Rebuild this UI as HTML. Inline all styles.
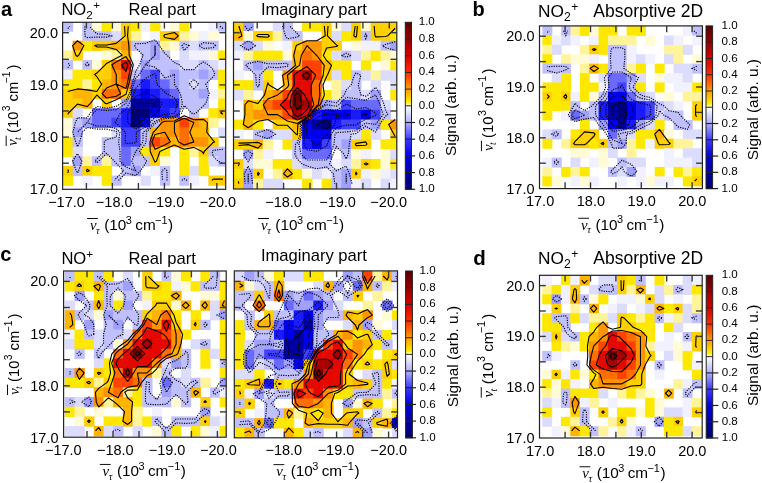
<!DOCTYPE html>
<html><head><meta charset="utf-8"><style>
html,body{margin:0;padding:0;background:#fff;}
body{width:762px;height:483px;overflow:hidden;}
svg{display:block;will-change:transform;font-family:"Liberation Sans", sans-serif;}
</style></head><body>
<svg width="762" height="483" viewBox="0 0 762 483" font-family='"Liberation Sans", sans-serif' fill="#000">
<defs><linearGradient id="cbgrad" x1="0" y1="0" x2="0" y2="1"><stop offset="0" stop-color="#580000"/><stop offset="0.1" stop-color="#980000"/><stop offset="0.2" stop-color="#d60000"/><stop offset="0.3" stop-color="#ff2c00"/><stop offset="0.4" stop-color="#ff9c00"/><stop offset="0.45" stop-color="#ffcc00"/><stop offset="0.48" stop-color="#fff000"/><stop offset="0.5" stop-color="#ffffff"/><stop offset="0.6" stop-color="#b0b0ff"/><stop offset="0.7" stop-color="#3a3aff"/><stop offset="0.8" stop-color="#0000e8"/><stop offset="0.9" stop-color="#0000a8"/><stop offset="1" stop-color="#000070"/></linearGradient></defs>
<clipPath id="clip_areal"><rect x="62.6" y="22.3" width="163.1" height="167"/></clipPath>
<g clip-path="url(#clip_areal)">
<rect x="62.9" y="21.5" width="10.3" height="10.23" fill="#c0c0ff"/>
<rect x="82.3" y="21.5" width="10.3" height="10.23" fill="#c0c0ff"/>
<rect x="92" y="21.5" width="10.3" height="10.23" fill="#fffbd6"/>
<rect x="101.7" y="21.5" width="10.3" height="10.23" fill="#ffe800"/>
<rect x="111.4" y="21.5" width="10.3" height="10.23" fill="#fffbd6"/>
<rect x="121.1" y="21.5" width="10.3" height="10.23" fill="#ffd000"/>
<rect x="130.8" y="21.5" width="10.3" height="10.23" fill="#ffe800"/>
<rect x="140.5" y="21.5" width="10.3" height="10.23" fill="#f1f1ff"/>
<rect x="150.2" y="21.5" width="10.3" height="10.23" fill="#ffe800"/>
<rect x="169.6" y="21.5" width="10.3" height="10.23" fill="#fffbd6"/>
<rect x="179.3" y="21.5" width="10.3" height="10.23" fill="#ffe800"/>
<rect x="208.4" y="21.5" width="10.3" height="10.23" fill="#f1f1ff"/>
<rect x="218.1" y="21.5" width="10.3" height="10.23" fill="#c0c0ff"/>
<rect x="82.3" y="31.13" width="10.3" height="10.23" fill="#c0c0ff"/>
<rect x="92" y="31.13" width="10.3" height="10.23" fill="#c0c0ff"/>
<rect x="101.7" y="31.13" width="10.3" height="10.23" fill="#c0c0ff"/>
<rect x="111.4" y="31.13" width="10.3" height="10.23" fill="#dcdcff"/>
<rect x="121.1" y="31.13" width="10.3" height="10.23" fill="#ffd000"/>
<rect x="130.8" y="31.13" width="10.3" height="10.23" fill="#fff49a"/>
<rect x="150.2" y="31.13" width="10.3" height="10.23" fill="#f1f1ff"/>
<rect x="159.9" y="31.13" width="10.3" height="10.23" fill="#ffd000"/>
<rect x="169.6" y="31.13" width="10.3" height="10.23" fill="#ffb400"/>
<rect x="179.3" y="31.13" width="10.3" height="10.23" fill="#fff49a"/>
<rect x="189" y="31.13" width="10.3" height="10.23" fill="#fffbd6"/>
<rect x="198.7" y="31.13" width="10.3" height="10.23" fill="#f1f1ff"/>
<rect x="208.4" y="31.13" width="10.3" height="10.23" fill="#fffbd6"/>
<rect x="72.6" y="40.76" width="10.3" height="10.23" fill="#ff9400"/>
<rect x="82.3" y="40.76" width="10.3" height="10.23" fill="#ffe800"/>
<rect x="92" y="40.76" width="10.3" height="10.23" fill="#ffd000"/>
<rect x="101.7" y="40.76" width="10.3" height="10.23" fill="#ffd000"/>
<rect x="111.4" y="40.76" width="10.3" height="10.23" fill="#ffb400"/>
<rect x="121.1" y="40.76" width="10.3" height="10.23" fill="#ff9400"/>
<rect x="130.8" y="40.76" width="10.3" height="10.23" fill="#c0c0ff"/>
<rect x="140.5" y="40.76" width="10.3" height="10.23" fill="#c0c0ff"/>
<rect x="150.2" y="40.76" width="10.3" height="10.23" fill="#a0a0ff"/>
<rect x="159.9" y="40.76" width="10.3" height="10.23" fill="#fff49a"/>
<rect x="169.6" y="40.76" width="10.3" height="10.23" fill="#fffbd6"/>
<rect x="179.3" y="40.76" width="10.3" height="10.23" fill="#c0c0ff"/>
<rect x="189" y="40.76" width="10.3" height="10.23" fill="#dcdcff"/>
<rect x="198.7" y="40.76" width="10.3" height="10.23" fill="#c0c0ff"/>
<rect x="208.4" y="40.76" width="10.3" height="10.23" fill="#c0c0ff"/>
<rect x="62.9" y="50.39" width="10.3" height="10.23" fill="#fff49a"/>
<rect x="72.6" y="50.39" width="10.3" height="10.23" fill="#ffd000"/>
<rect x="101.7" y="50.39" width="10.3" height="10.23" fill="#fffbd6"/>
<rect x="111.4" y="50.39" width="10.3" height="10.23" fill="#fff49a"/>
<rect x="121.1" y="50.39" width="10.3" height="10.23" fill="#ffb400"/>
<rect x="140.5" y="50.39" width="10.3" height="10.23" fill="#c0c0ff"/>
<rect x="150.2" y="50.39" width="10.3" height="10.23" fill="#a0a0ff"/>
<rect x="159.9" y="50.39" width="10.3" height="10.23" fill="#c0c0ff"/>
<rect x="179.3" y="50.39" width="10.3" height="10.23" fill="#dcdcff"/>
<rect x="189" y="50.39" width="10.3" height="10.23" fill="#f1f1ff"/>
<rect x="198.7" y="50.39" width="10.3" height="10.23" fill="#f1f1ff"/>
<rect x="208.4" y="50.39" width="10.3" height="10.23" fill="#fffbd6"/>
<rect x="218.1" y="50.39" width="10.3" height="10.23" fill="#ffe800"/>
<rect x="62.9" y="60.02" width="10.3" height="10.23" fill="#c0c0ff"/>
<rect x="82.3" y="60.02" width="10.3" height="10.23" fill="#c0c0ff"/>
<rect x="92" y="60.02" width="10.3" height="10.23" fill="#fffbd6"/>
<rect x="101.7" y="60.02" width="10.3" height="10.23" fill="#ffd000"/>
<rect x="111.4" y="60.02" width="10.3" height="10.23" fill="#ff6e00"/>
<rect x="121.1" y="60.02" width="10.3" height="10.23" fill="#e40800"/>
<rect x="130.8" y="60.02" width="10.3" height="10.23" fill="#f1f1ff"/>
<rect x="140.5" y="60.02" width="10.3" height="10.23" fill="#a0a0ff"/>
<rect x="150.2" y="60.02" width="10.3" height="10.23" fill="#c0c0ff"/>
<rect x="159.9" y="60.02" width="10.3" height="10.23" fill="#c0c0ff"/>
<rect x="169.6" y="60.02" width="10.3" height="10.23" fill="#c0c0ff"/>
<rect x="179.3" y="60.02" width="10.3" height="10.23" fill="#dcdcff"/>
<rect x="189" y="60.02" width="10.3" height="10.23" fill="#dcdcff"/>
<rect x="198.7" y="60.02" width="10.3" height="10.23" fill="#c0c0ff"/>
<rect x="208.4" y="60.02" width="10.3" height="10.23" fill="#dcdcff"/>
<rect x="218.1" y="60.02" width="10.3" height="10.23" fill="#f1f1ff"/>
<rect x="62.9" y="69.65" width="10.3" height="10.23" fill="#f1f1ff"/>
<rect x="72.6" y="69.65" width="10.3" height="10.23" fill="#ffe800"/>
<rect x="82.3" y="69.65" width="10.3" height="10.23" fill="#ffe800"/>
<rect x="92" y="69.65" width="10.3" height="10.23" fill="#ffd000"/>
<rect x="101.7" y="69.65" width="10.3" height="10.23" fill="#ffd000"/>
<rect x="111.4" y="69.65" width="10.3" height="10.23" fill="#ff9400"/>
<rect x="121.1" y="69.65" width="10.3" height="10.23" fill="#ff4200"/>
<rect x="130.8" y="69.65" width="10.3" height="10.23" fill="#c0c0ff"/>
<rect x="140.5" y="69.65" width="10.3" height="10.23" fill="#6a6aff"/>
<rect x="150.2" y="69.65" width="10.3" height="10.23" fill="#4040ff"/>
<rect x="159.9" y="69.65" width="10.3" height="10.23" fill="#c0c0ff"/>
<rect x="169.6" y="69.65" width="10.3" height="10.23" fill="#a0a0ff"/>
<rect x="179.3" y="69.65" width="10.3" height="10.23" fill="#c0c0ff"/>
<rect x="189" y="69.65" width="10.3" height="10.23" fill="#c0c0ff"/>
<rect x="198.7" y="69.65" width="10.3" height="10.23" fill="#a0a0ff"/>
<rect x="208.4" y="69.65" width="10.3" height="10.23" fill="#c0c0ff"/>
<rect x="218.1" y="69.65" width="10.3" height="10.23" fill="#ffe800"/>
<rect x="62.9" y="79.28" width="10.3" height="10.23" fill="#ffe800"/>
<rect x="72.6" y="79.28" width="10.3" height="10.23" fill="#ffe800"/>
<rect x="82.3" y="79.28" width="10.3" height="10.23" fill="#fff49a"/>
<rect x="92" y="79.28" width="10.3" height="10.23" fill="#ffe800"/>
<rect x="101.7" y="79.28" width="10.3" height="10.23" fill="#ffb400"/>
<rect x="111.4" y="79.28" width="10.3" height="10.23" fill="#ff9400"/>
<rect x="121.1" y="79.28" width="10.3" height="10.23" fill="#ff6e00"/>
<rect x="130.8" y="79.28" width="10.3" height="10.23" fill="#6a6aff"/>
<rect x="140.5" y="79.28" width="10.3" height="10.23" fill="#1a1aff"/>
<rect x="150.2" y="79.28" width="10.3" height="10.23" fill="#4040ff"/>
<rect x="159.9" y="79.28" width="10.3" height="10.23" fill="#6a6aff"/>
<rect x="169.6" y="79.28" width="10.3" height="10.23" fill="#a0a0ff"/>
<rect x="179.3" y="79.28" width="10.3" height="10.23" fill="#c0c0ff"/>
<rect x="189" y="79.28" width="10.3" height="10.23" fill="#dcdcff"/>
<rect x="198.7" y="79.28" width="10.3" height="10.23" fill="#c0c0ff"/>
<rect x="218.1" y="79.28" width="10.3" height="10.23" fill="#ffe800"/>
<rect x="62.9" y="88.91" width="10.3" height="10.23" fill="#ffd000"/>
<rect x="72.6" y="88.91" width="10.3" height="10.23" fill="#ffb400"/>
<rect x="82.3" y="88.91" width="10.3" height="10.23" fill="#ffb400"/>
<rect x="92" y="88.91" width="10.3" height="10.23" fill="#ffd000"/>
<rect x="101.7" y="88.91" width="10.3" height="10.23" fill="#ff6e00"/>
<rect x="111.4" y="88.91" width="10.3" height="10.23" fill="#ff6e00"/>
<rect x="121.1" y="88.91" width="10.3" height="10.23" fill="#ffd000"/>
<rect x="130.8" y="88.91" width="10.3" height="10.23" fill="#1a1aff"/>
<rect x="140.5" y="88.91" width="10.3" height="10.23" fill="#0000ee"/>
<rect x="150.2" y="88.91" width="10.3" height="10.23" fill="#1a1aff"/>
<rect x="159.9" y="88.91" width="10.3" height="10.23" fill="#4040ff"/>
<rect x="169.6" y="88.91" width="10.3" height="10.23" fill="#6a6aff"/>
<rect x="179.3" y="88.91" width="10.3" height="10.23" fill="#c0c0ff"/>
<rect x="189" y="88.91" width="10.3" height="10.23" fill="#c0c0ff"/>
<rect x="198.7" y="88.91" width="10.3" height="10.23" fill="#a0a0ff"/>
<rect x="208.4" y="88.91" width="10.3" height="10.23" fill="#f1f1ff"/>
<rect x="218.1" y="88.91" width="10.3" height="10.23" fill="#fff49a"/>
<rect x="62.9" y="98.54" width="10.3" height="10.23" fill="#ffd000"/>
<rect x="72.6" y="98.54" width="10.3" height="10.23" fill="#ffd000"/>
<rect x="82.3" y="98.54" width="10.3" height="10.23" fill="#ffb400"/>
<rect x="101.7" y="98.54" width="10.3" height="10.23" fill="#ffd000"/>
<rect x="121.1" y="98.54" width="10.3" height="10.23" fill="#a0a0ff"/>
<rect x="130.8" y="98.54" width="10.3" height="10.23" fill="#0000a0"/>
<rect x="140.5" y="98.54" width="10.3" height="10.23" fill="#0000a0"/>
<rect x="150.2" y="98.54" width="10.3" height="10.23" fill="#0000a0"/>
<rect x="159.9" y="98.54" width="10.3" height="10.23" fill="#1a1aff"/>
<rect x="169.6" y="98.54" width="10.3" height="10.23" fill="#1a1aff"/>
<rect x="179.3" y="98.54" width="10.3" height="10.23" fill="#c0c0ff"/>
<rect x="189" y="98.54" width="10.3" height="10.23" fill="#c0c0ff"/>
<rect x="198.7" y="98.54" width="10.3" height="10.23" fill="#c0c0ff"/>
<rect x="218.1" y="98.54" width="10.3" height="10.23" fill="#ffe800"/>
<rect x="62.9" y="108.17" width="10.3" height="10.23" fill="#ffd000"/>
<rect x="72.6" y="108.17" width="10.3" height="10.23" fill="#dcdcff"/>
<rect x="92" y="108.17" width="10.3" height="10.23" fill="#6a6aff"/>
<rect x="101.7" y="108.17" width="10.3" height="10.23" fill="#6a6aff"/>
<rect x="111.4" y="108.17" width="10.3" height="10.23" fill="#6a6aff"/>
<rect x="121.1" y="108.17" width="10.3" height="10.23" fill="#1a1aff"/>
<rect x="130.8" y="108.17" width="10.3" height="10.23" fill="#000078"/>
<rect x="140.5" y="108.17" width="10.3" height="10.23" fill="#000078"/>
<rect x="150.2" y="108.17" width="10.3" height="10.23" fill="#0000ee"/>
<rect x="159.9" y="108.17" width="10.3" height="10.23" fill="#1a1aff"/>
<rect x="169.6" y="108.17" width="10.3" height="10.23" fill="#4040ff"/>
<rect x="189" y="108.17" width="10.3" height="10.23" fill="#c0c0ff"/>
<rect x="208.4" y="108.17" width="10.3" height="10.23" fill="#ffe800"/>
<rect x="218.1" y="108.17" width="10.3" height="10.23" fill="#ffd000"/>
<rect x="62.9" y="117.8" width="10.3" height="10.23" fill="#fffbd6"/>
<rect x="72.6" y="117.8" width="10.3" height="10.23" fill="#c0c0ff"/>
<rect x="82.3" y="117.8" width="10.3" height="10.23" fill="#a0a0ff"/>
<rect x="92" y="117.8" width="10.3" height="10.23" fill="#6a6aff"/>
<rect x="101.7" y="117.8" width="10.3" height="10.23" fill="#6a6aff"/>
<rect x="111.4" y="117.8" width="10.3" height="10.23" fill="#4040ff"/>
<rect x="121.1" y="117.8" width="10.3" height="10.23" fill="#1a1aff"/>
<rect x="130.8" y="117.8" width="10.3" height="10.23" fill="#000078"/>
<rect x="140.5" y="117.8" width="10.3" height="10.23" fill="#0000ee"/>
<rect x="150.2" y="117.8" width="10.3" height="10.23" fill="#c0c0ff"/>
<rect x="159.9" y="117.8" width="10.3" height="10.23" fill="#ff9400"/>
<rect x="169.6" y="117.8" width="10.3" height="10.23" fill="#ff9400"/>
<rect x="179.3" y="117.8" width="10.3" height="10.23" fill="#ff4200"/>
<rect x="189" y="117.8" width="10.3" height="10.23" fill="#ff9400"/>
<rect x="198.7" y="117.8" width="10.3" height="10.23" fill="#ffb400"/>
<rect x="208.4" y="117.8" width="10.3" height="10.23" fill="#fff49a"/>
<rect x="62.9" y="127.43" width="10.3" height="10.23" fill="#fffbd6"/>
<rect x="72.6" y="127.43" width="10.3" height="10.23" fill="#a0a0ff"/>
<rect x="111.4" y="127.43" width="10.3" height="10.23" fill="#dcdcff"/>
<rect x="121.1" y="127.43" width="10.3" height="10.23" fill="#4040ff"/>
<rect x="130.8" y="127.43" width="10.3" height="10.23" fill="#4040ff"/>
<rect x="140.5" y="127.43" width="10.3" height="10.23" fill="#c0c0ff"/>
<rect x="150.2" y="127.43" width="10.3" height="10.23" fill="#ffb400"/>
<rect x="159.9" y="127.43" width="10.3" height="10.23" fill="#ff9400"/>
<rect x="169.6" y="127.43" width="10.3" height="10.23" fill="#ff9400"/>
<rect x="179.3" y="127.43" width="10.3" height="10.23" fill="#ff6e00"/>
<rect x="189" y="127.43" width="10.3" height="10.23" fill="#ffb400"/>
<rect x="198.7" y="127.43" width="10.3" height="10.23" fill="#ffb400"/>
<rect x="218.1" y="127.43" width="10.3" height="10.23" fill="#dcdcff"/>
<rect x="62.9" y="137.06" width="10.3" height="10.23" fill="#ffe800"/>
<rect x="72.6" y="137.06" width="10.3" height="10.23" fill="#c0c0ff"/>
<rect x="101.7" y="137.06" width="10.3" height="10.23" fill="#c0c0ff"/>
<rect x="111.4" y="137.06" width="10.3" height="10.23" fill="#c0c0ff"/>
<rect x="121.1" y="137.06" width="10.3" height="10.23" fill="#4040ff"/>
<rect x="130.8" y="137.06" width="10.3" height="10.23" fill="#4040ff"/>
<rect x="140.5" y="137.06" width="10.3" height="10.23" fill="#c0c0ff"/>
<rect x="150.2" y="137.06" width="10.3" height="10.23" fill="#ff4200"/>
<rect x="159.9" y="137.06" width="10.3" height="10.23" fill="#ff6e00"/>
<rect x="169.6" y="137.06" width="10.3" height="10.23" fill="#ffb400"/>
<rect x="179.3" y="137.06" width="10.3" height="10.23" fill="#ff6e00"/>
<rect x="189" y="137.06" width="10.3" height="10.23" fill="#ff9400"/>
<rect x="198.7" y="137.06" width="10.3" height="10.23" fill="#ff9400"/>
<rect x="208.4" y="137.06" width="10.3" height="10.23" fill="#ffd000"/>
<rect x="62.9" y="146.69" width="10.3" height="10.23" fill="#ffe800"/>
<rect x="72.6" y="146.69" width="10.3" height="10.23" fill="#dcdcff"/>
<rect x="101.7" y="146.69" width="10.3" height="10.23" fill="#c0c0ff"/>
<rect x="111.4" y="146.69" width="10.3" height="10.23" fill="#c0c0ff"/>
<rect x="121.1" y="146.69" width="10.3" height="10.23" fill="#6a6aff"/>
<rect x="130.8" y="146.69" width="10.3" height="10.23" fill="#a0a0ff"/>
<rect x="140.5" y="146.69" width="10.3" height="10.23" fill="#ffe800"/>
<rect x="150.2" y="146.69" width="10.3" height="10.23" fill="#ffb400"/>
<rect x="159.9" y="146.69" width="10.3" height="10.23" fill="#ffe800"/>
<rect x="179.3" y="146.69" width="10.3" height="10.23" fill="#ffe800"/>
<rect x="189" y="146.69" width="10.3" height="10.23" fill="#fff49a"/>
<rect x="198.7" y="146.69" width="10.3" height="10.23" fill="#ffd000"/>
<rect x="208.4" y="146.69" width="10.3" height="10.23" fill="#c0c0ff"/>
<rect x="218.1" y="146.69" width="10.3" height="10.23" fill="#c0c0ff"/>
<rect x="72.6" y="156.32" width="10.3" height="10.23" fill="#a0a0ff"/>
<rect x="82.3" y="156.32" width="10.3" height="10.23" fill="#fff49a"/>
<rect x="92" y="156.32" width="10.3" height="10.23" fill="#c0c0ff"/>
<rect x="101.7" y="156.32" width="10.3" height="10.23" fill="#fff49a"/>
<rect x="111.4" y="156.32" width="10.3" height="10.23" fill="#c0c0ff"/>
<rect x="121.1" y="156.32" width="10.3" height="10.23" fill="#6a6aff"/>
<rect x="130.8" y="156.32" width="10.3" height="10.23" fill="#c0c0ff"/>
<rect x="140.5" y="156.32" width="10.3" height="10.23" fill="#c0c0ff"/>
<rect x="150.2" y="156.32" width="10.3" height="10.23" fill="#ffd000"/>
<rect x="159.9" y="156.32" width="10.3" height="10.23" fill="#fffbd6"/>
<rect x="179.3" y="156.32" width="10.3" height="10.23" fill="#ffe800"/>
<rect x="198.7" y="156.32" width="10.3" height="10.23" fill="#ffe800"/>
<rect x="208.4" y="156.32" width="10.3" height="10.23" fill="#dcdcff"/>
<rect x="218.1" y="156.32" width="10.3" height="10.23" fill="#c0c0ff"/>
<rect x="62.9" y="165.95" width="10.3" height="10.23" fill="#ffd000"/>
<rect x="72.6" y="165.95" width="10.3" height="10.23" fill="#c0c0ff"/>
<rect x="82.3" y="165.95" width="10.3" height="10.23" fill="#ffd000"/>
<rect x="92" y="165.95" width="10.3" height="10.23" fill="#ffe800"/>
<rect x="101.7" y="165.95" width="10.3" height="10.23" fill="#ffe800"/>
<rect x="121.1" y="165.95" width="10.3" height="10.23" fill="#c0c0ff"/>
<rect x="130.8" y="165.95" width="10.3" height="10.23" fill="#a0a0ff"/>
<rect x="150.2" y="165.95" width="10.3" height="10.23" fill="#f1f1ff"/>
<rect x="159.9" y="165.95" width="10.3" height="10.23" fill="#c0c0ff"/>
<rect x="179.3" y="165.95" width="10.3" height="10.23" fill="#ffe800"/>
<rect x="189" y="165.95" width="10.3" height="10.23" fill="#dcdcff"/>
<rect x="198.7" y="165.95" width="10.3" height="10.23" fill="#ffe800"/>
<rect x="62.9" y="175.58" width="10.3" height="10.23" fill="#ffe800"/>
<rect x="82.3" y="175.58" width="10.3" height="10.23" fill="#f1f1ff"/>
<rect x="101.7" y="175.58" width="10.3" height="10.23" fill="#ffe800"/>
<rect x="111.4" y="175.58" width="10.3" height="10.23" fill="#c0c0ff"/>
<rect x="140.5" y="175.58" width="10.3" height="10.23" fill="#dcdcff"/>
<rect x="159.9" y="175.58" width="10.3" height="10.23" fill="#c0c0ff"/>
<rect x="179.3" y="175.58" width="10.3" height="10.23" fill="#c0c0ff"/>
<rect x="189" y="175.58" width="10.3" height="10.23" fill="#f1f1ff"/>
<rect x="208.4" y="175.58" width="10.3" height="10.23" fill="#ffd000"/>
<rect x="218.1" y="175.58" width="10.3" height="10.23" fill="#ffd000"/>
<path d="M67.75 91.5 L77.45 88.91 L87.15 89.87 L96.85 91.5 L101.7 84.09 L96.85 76.69 L94.61 74.47 L96.85 73.09 L105.16 64.84 L106.55 63.46 L116.25 58.15 L122.07 55.21 L116.25 49.43 L106.55 46.95 L96.85 46.83 L94.61 45.58 L96.85 44.99 L106.55 44.99 L116.25 43.39 L125.16 35.95 L124.56 26.32" fill="none" stroke="#000" stroke-width="1.1" stroke-linejoin="round"/>
<path d="M128.19 26.32 L127.57 35.95 L128.89 45.58 L129.18 55.21 L133.27 64.84 L131.1 74.47 L128.79 84.09 L126.18 93.73 L125.95 94.18 L116.25 99.79 L107.82 103.36 L106.55 103.69 L105.28 103.36 L96.85 94.98 L90.38 103.36 L87.15 106.57 L77.45 104.14 L68.54 112.99 L67.75 114.36" fill="none" stroke="#000" stroke-width="1.1" stroke-linejoin="round"/>
<path d="M174.45 39.38 L164.75 37.55 L163.75 35.95 L164.75 34.69 L174.45 32.51 L178.33 35.95 L174.45 39.38Z" fill="none" stroke="#000" stroke-width="1.1" stroke-linejoin="round"/>
<path d="M77.45 56.46 L75.83 55.21 L72.6 45.58 L77.45 40.76 L83.92 45.58 L78.72 55.21 L77.45 56.46Z" fill="none" stroke="#000" stroke-width="1.1" stroke-linejoin="round"/>
<path d="M222.95 114.24 L220.71 112.99 L222.95 110.76" fill="none" stroke="#000" stroke-width="1.1" stroke-linejoin="round"/>
<path d="M155.05 162.13 L154.46 161.14 L150.2 151.51 L149.9 141.88 L153.32 132.25 L155.05 130.53 L161.81 122.62 L164.75 121.28 L174.45 121.06 L184.15 115.66 L193.85 119.7 L203.55 119.41 L207.43 122.62 L206.78 132.25 L213.25 140.62 L214.52 141.88 L213.25 142.46 L204.14 151.51 L203.55 153.73 L201.93 151.51 L193.85 147.38 L184.15 149.32 L174.45 145.09 L164.75 149.32 L159.9 151.51 L156.44 161.14 L155.05 162.13Z" fill="none" stroke="#000" stroke-width="1.1" stroke-linejoin="round"/>
<path d="M67.75 169.51 L68.34 170.77 L67.75 172.99" fill="none" stroke="#000" stroke-width="1.1" stroke-linejoin="round"/>
<path d="M87.15 171.76 L86.56 170.77 L87.15 169.16 L89.39 170.77 L87.15 171.76Z" fill="none" stroke="#000" stroke-width="1.1" stroke-linejoin="round"/>
<path d="M211.98 180.4 L213.25 179.14 L222.95 179.14" fill="none" stroke="#000" stroke-width="1.1" stroke-linejoin="round"/>
<path d="M116.25 96.22 L106.55 98.07 L102.17 93.73 L106.55 88.11 L116.25 84.09 L116.25 74.47 L111.87 64.84 L116.25 62.08 L125.95 56.58 L131.44 64.84 L129.12 74.47 L127.12 84.09 L125.95 88.44 L116.25 84.09 L120.63 93.73 L116.25 96.22Z" fill="none" stroke="#000" stroke-width="1.1" stroke-linejoin="round"/>
<path d="M184.15 144.94 L178.49 141.88 L174.45 132.25 L174.45 122.62 L184.15 118.34 L193.85 122.62 L189.81 132.25 L193.85 141.88 L184.15 144.94Z" fill="none" stroke="#000" stroke-width="1.1" stroke-linejoin="round"/>
<path d="M164.75 144.94 L155.05 149.21 L151.88 141.88 L155.05 134.54 L164.75 132.25 L170.41 141.88 L164.75 144.94Z" fill="none" stroke="#000" stroke-width="1.1" stroke-linejoin="round"/>
<path d="M125.95 71.71 L121.73 64.84 L125.95 62.08 L127.78 64.84 L125.95 71.71Z" fill="none" stroke="#000" stroke-width="1.1" stroke-linejoin="round"/>
<path d="M67.75 28.54 L69.99 26.32" fill="none" stroke="#000" stroke-width="1.15" stroke-dasharray="1.2 1.2"/>
<path d="M84.91 26.32 L84.91 35.95 L87.15 37.55 L96.85 37.12 L106.55 37.12 L111.4 35.95 L106.55 34.34 L96.85 33.88 L89.23 26.32" fill="none" stroke="#000" stroke-width="1.15" stroke-dasharray="1.2 1.2"/>
<path d="M220.04 26.32 L222.95 28.54" fill="none" stroke="#000" stroke-width="1.15" stroke-dasharray="1.2 1.2"/>
<path d="M118.49 180.4 L125.95 172.99 L135.65 175.58 L140.5 170.77 L145.35 163.36 L146.54 161.14 L145.35 159.53 L139.53 151.51 L145.35 143.48 L145.94 141.88 L146.39 132.25 L155.05 123.65 L155.93 122.62 L164.75 118.6 L174.45 117.96 L181.84 112.99 L184.15 105.58 L191.61 112.99 L193.85 113.86 L196.09 112.99 L203.55 105.58 L205.79 103.36 L209.26 93.73 L205.79 84.09 L213.25 76.69 L214.87 74.47 L213.25 69.65 L208.4 64.84 L203.55 61.95 L198.7 64.84 L193.85 69.65 L184.15 69.65 L179.3 64.84 L174.45 62.61 L166.99 55.21 L164.75 53.34 L159.36 45.58 L155.05 39.91 L145.35 43.35 L135.65 43.71 L134.77 45.58 L135.65 47.8 L143.11 55.21 L139.64 64.84 L135.65 71.58 L135.06 74.47 L132.14 84.09 L129.23 93.73 L125.95 100.3 L121.1 103.36 L116.25 106.46 L106.55 108.23 L96.85 106.46 L90.28 112.99 L87.15 117.8 L77.45 117.8 L75.37 122.62 L72.83 132.25 L75.83 141.88 L77.45 146.69 L79.69 141.88 L82.3 132.25 L87.15 127.43 L96.85 129.14 L106.55 129.14 L116.25 131.42 L117.08 132.25 L116.25 137.06 L106.55 139.65 L104.31 141.88 L104.31 151.51 L96.85 158.91 L94.97 161.14 L96.85 162.74 L98.73 161.14 L106.55 153.37 L114.37 161.14 L116.25 163.36 L123.71 170.77 L116.25 178.17 L114.63 180.4" fill="none" stroke="#000" stroke-width="1.15" stroke-dasharray="1.2 1.2"/>
<path d="M189 45.58 L184.15 43.71 L182.07 45.58 L184.15 50.39 L189 45.58Z" fill="none" stroke="#000" stroke-width="1.15" stroke-dasharray="1.2 1.2"/>
<path d="M215.49 45.58 L213.25 43.51 L203.55 42.69 L198.7 45.58 L203.55 48.46 L213.25 47.64 L215.49 45.58Z" fill="none" stroke="#000" stroke-width="1.15" stroke-dasharray="1.2 1.2"/>
<path d="M67.75 67.72 L69.99 64.84 L67.75 62.97" fill="none" stroke="#000" stroke-width="1.15" stroke-dasharray="1.2 1.2"/>
<path d="M89.23 64.84 L87.15 62.61 L84.91 64.84 L87.15 66.44 L89.23 64.84Z" fill="none" stroke="#000" stroke-width="1.15" stroke-dasharray="1.2 1.2"/>
<path d="M193.85 88.91 L189 84.09 L193.85 79.28 L198.7 84.09 L193.85 88.91Z" fill="none" stroke="#000" stroke-width="1.15" stroke-dasharray="1.2 1.2"/>
<path d="M222.95 149.28 L213.25 150.33 L212.06 151.51 L213.25 156.32 L218.1 161.14 L222.95 163.36" fill="none" stroke="#000" stroke-width="1.15" stroke-dasharray="1.2 1.2"/>
<path d="M78.64 170.77 L81.76 161.14 L77.45 153.73 L72.6 161.14 L76.26 170.77 L77.45 172.99 L78.64 170.77Z" fill="none" stroke="#000" stroke-width="1.15" stroke-dasharray="1.2 1.2"/>
<path d="M166.99 180.4 L166.99 170.77 L164.75 168.7 L161.84 170.77 L162.51 180.4" fill="none" stroke="#000" stroke-width="1.15" stroke-dasharray="1.2 1.2"/>
<path d="M187.06 180.4 L184.15 178.79 L181.91 180.4" fill="none" stroke="#000" stroke-width="1.15" stroke-dasharray="1.2 1.2"/>
<path d="M155.05 45.58 L155.05 55.21 L155.05 45.58Z" fill="none" stroke="#000" stroke-width="1.15" stroke-dasharray="1.2 1.2"/>
<path d="M155.05 55.21 L145.35 64.84 L155.05 55.21Z" fill="none" stroke="#000" stroke-width="1.15" stroke-dasharray="1.2 1.2"/>
<path d="M135.65 170.77 L131.88 161.14 L135.65 151.51 L143.01 141.88 L143.01 132.25 L145.35 130.87 L153.66 122.62 L155.05 121.24 L164.75 117.27 L174.45 116.4 L179.53 112.99 L182.41 103.36 L180.38 93.73 L174.45 84.09 L174.45 74.47 L164.75 78.21 L162.41 74.47 L155.05 67.16 L145.35 64.84 L139.42 74.47 L135.65 78.21 L133.81 84.09 L130.76 93.73 L125.95 103.36 L116.25 109.57 L106.55 110.49 L96.85 109.57 L93.41 112.99 L87.15 122.62 L77.45 132.25 L87.15 122.62 L96.85 126.03 L106.55 126.03 L116.25 128.67 L119.85 132.25 L118.59 141.88 L120.02 151.51 L120.02 161.14 L125.95 167.02 L135.65 170.77Z" fill="none" stroke="#000" stroke-width="1.15" stroke-dasharray="1.2 1.2"/>
<path d="M136.32 141.88 L136.32 132.25 L145.35 126.94 L149.71 122.62 L155.05 117.31 L164.75 114.59 L174.45 113.3 L174.91 112.99 L177.43 103.36 L174.45 97.85 L166.51 93.73 L164.75 91.97 L156.81 84.09 L155.72 74.47 L155.05 73.8 L153.29 74.47 L145.35 78.59 L139.81 84.09 L135.65 88.22 L133.82 93.73 L129.18 103.36 L125.95 109.37 L120.41 112.99 L116.25 120.86 L114.49 122.62 L116.25 123.17 L125.4 132.25 L125.28 141.88 L125.95 143.63 L135.65 142.75 L136.32 141.88Z" fill="none" stroke="#000" stroke-width="1.15" stroke-dasharray="1.2 1.2"/>
<path d="M145.75 122.62 L155.05 113.38 L156.99 112.99 L161.98 103.36 L155.05 96.48 L147.29 93.73 L145.35 91.8 L143.41 93.73 L135.65 96.48 L132.42 103.36 L127.67 112.99 L127.67 122.62 L135.65 129.09 L145.35 123.01 L145.75 122.62Z" fill="none" stroke="#000" stroke-width="1.15" stroke-dasharray="1.2 1.2"/>
<path d="M140.36 122.62 L145.35 117.66 L150.06 112.99 L155.05 103.36 L145.35 103.36 L135.65 103.36 L131.99 112.99 L131.99 122.62 L135.65 125.59 L140.36 122.62Z" fill="none" stroke="#000" stroke-width="1.15" stroke-dasharray="1.2 1.2"/>
</g>
<line x1="86.4" y1="189.3" x2="86.4" y2="183" stroke="#3a3a3a" stroke-width="1.4"/>
<line x1="86.4" y1="22.3" x2="86.4" y2="28.6" stroke="#3a3a3a" stroke-width="1.4"/>
<line x1="112.4" y1="189.3" x2="112.4" y2="183" stroke="#3a3a3a" stroke-width="1.4"/>
<line x1="112.4" y1="22.3" x2="112.4" y2="28.6" stroke="#3a3a3a" stroke-width="1.4"/>
<line x1="138.4" y1="189.3" x2="138.4" y2="183" stroke="#3a3a3a" stroke-width="1.4"/>
<line x1="138.4" y1="22.3" x2="138.4" y2="28.6" stroke="#3a3a3a" stroke-width="1.4"/>
<line x1="164.4" y1="189.3" x2="164.4" y2="183" stroke="#3a3a3a" stroke-width="1.4"/>
<line x1="164.4" y1="22.3" x2="164.4" y2="28.6" stroke="#3a3a3a" stroke-width="1.4"/>
<line x1="190.8" y1="189.3" x2="190.8" y2="183" stroke="#3a3a3a" stroke-width="1.4"/>
<line x1="190.8" y1="22.3" x2="190.8" y2="28.6" stroke="#3a3a3a" stroke-width="1.4"/>
<line x1="216.8" y1="189.3" x2="216.8" y2="183" stroke="#3a3a3a" stroke-width="1.4"/>
<line x1="216.8" y1="22.3" x2="216.8" y2="28.6" stroke="#3a3a3a" stroke-width="1.4"/>
<line x1="62.6" y1="32.7" x2="68.9" y2="32.7" stroke="#3a3a3a" stroke-width="1.4"/>
<line x1="225.7" y1="32.7" x2="219.4" y2="32.7" stroke="#3a3a3a" stroke-width="1.4"/>
<line x1="62.6" y1="59.3" x2="68.9" y2="59.3" stroke="#3a3a3a" stroke-width="1.4"/>
<line x1="225.7" y1="59.3" x2="219.4" y2="59.3" stroke="#3a3a3a" stroke-width="1.4"/>
<line x1="62.6" y1="84.9" x2="68.9" y2="84.9" stroke="#3a3a3a" stroke-width="1.4"/>
<line x1="225.7" y1="84.9" x2="219.4" y2="84.9" stroke="#3a3a3a" stroke-width="1.4"/>
<line x1="62.6" y1="111" x2="68.9" y2="111" stroke="#3a3a3a" stroke-width="1.4"/>
<line x1="225.7" y1="111" x2="219.4" y2="111" stroke="#3a3a3a" stroke-width="1.4"/>
<line x1="62.6" y1="137.1" x2="68.9" y2="137.1" stroke="#3a3a3a" stroke-width="1.4"/>
<line x1="225.7" y1="137.1" x2="219.4" y2="137.1" stroke="#3a3a3a" stroke-width="1.4"/>
<line x1="62.6" y1="163.2" x2="68.9" y2="163.2" stroke="#3a3a3a" stroke-width="1.4"/>
<line x1="225.7" y1="163.2" x2="219.4" y2="163.2" stroke="#3a3a3a" stroke-width="1.4"/>
<rect x="62.6" y="22.3" width="163.1" height="167" fill="none" stroke="#222" stroke-width="1.2"/>
<clipPath id="clip_aimag"><rect x="233.5" y="22.2" width="163.3" height="166.8"/></clipPath>
<g clip-path="url(#clip_aimag)">
<rect x="233.5" y="21.05" width="10.4" height="10.45" fill="#ffd000"/>
<rect x="243.3" y="21.05" width="10.4" height="10.45" fill="#a0a0ff"/>
<rect x="272.7" y="21.05" width="10.4" height="10.45" fill="#dcdcff"/>
<rect x="282.5" y="21.05" width="10.4" height="10.45" fill="#c0c0ff"/>
<rect x="302.1" y="21.05" width="10.4" height="10.45" fill="#ffe800"/>
<rect x="311.9" y="21.05" width="10.4" height="10.45" fill="#ffe800"/>
<rect x="321.7" y="21.05" width="10.4" height="10.45" fill="#ffd000"/>
<rect x="331.5" y="21.05" width="10.4" height="10.45" fill="#fffbd6"/>
<rect x="341.3" y="21.05" width="10.4" height="10.45" fill="#dcdcff"/>
<rect x="351.1" y="21.05" width="10.4" height="10.45" fill="#ffd000"/>
<rect x="360.9" y="21.05" width="10.4" height="10.45" fill="#fffbd6"/>
<rect x="370.7" y="21.05" width="10.4" height="10.45" fill="#ffd000"/>
<rect x="380.5" y="21.05" width="10.4" height="10.45" fill="#ffd000"/>
<rect x="390.3" y="21.05" width="10.4" height="10.45" fill="#ffd000"/>
<rect x="233.5" y="30.9" width="10.4" height="10.45" fill="#ffb400"/>
<rect x="243.3" y="30.9" width="10.4" height="10.45" fill="#fffbd6"/>
<rect x="253.1" y="30.9" width="10.4" height="10.45" fill="#ffd000"/>
<rect x="262.9" y="30.9" width="10.4" height="10.45" fill="#ffd000"/>
<rect x="272.7" y="30.9" width="10.4" height="10.45" fill="#fff49a"/>
<rect x="282.5" y="30.9" width="10.4" height="10.45" fill="#c0c0ff"/>
<rect x="292.3" y="30.9" width="10.4" height="10.45" fill="#c0c0ff"/>
<rect x="321.7" y="30.9" width="10.4" height="10.45" fill="#ffd000"/>
<rect x="331.5" y="30.9" width="10.4" height="10.45" fill="#dcdcff"/>
<rect x="341.3" y="30.9" width="10.4" height="10.45" fill="#ffe800"/>
<rect x="351.1" y="30.9" width="10.4" height="10.45" fill="#ffd000"/>
<rect x="360.9" y="30.9" width="10.4" height="10.45" fill="#c0c0ff"/>
<rect x="370.7" y="30.9" width="10.4" height="10.45" fill="#ffd000"/>
<rect x="380.5" y="30.9" width="10.4" height="10.45" fill="#ffd000"/>
<rect x="390.3" y="30.9" width="10.4" height="10.45" fill="#ffe800"/>
<rect x="233.5" y="40.75" width="10.4" height="10.45" fill="#dcdcff"/>
<rect x="243.3" y="40.75" width="10.4" height="10.45" fill="#a0a0ff"/>
<rect x="253.1" y="40.75" width="10.4" height="10.45" fill="#dcdcff"/>
<rect x="262.9" y="40.75" width="10.4" height="10.45" fill="#fffbd6"/>
<rect x="282.5" y="40.75" width="10.4" height="10.45" fill="#f1f1ff"/>
<rect x="292.3" y="40.75" width="10.4" height="10.45" fill="#ffd000"/>
<rect x="302.1" y="40.75" width="10.4" height="10.45" fill="#ff9400"/>
<rect x="311.9" y="40.75" width="10.4" height="10.45" fill="#ff9400"/>
<rect x="321.7" y="40.75" width="10.4" height="10.45" fill="#ffd000"/>
<rect x="331.5" y="40.75" width="10.4" height="10.45" fill="#ffd000"/>
<rect x="351.1" y="40.75" width="10.4" height="10.45" fill="#fffbd6"/>
<rect x="360.9" y="40.75" width="10.4" height="10.45" fill="#f1f1ff"/>
<rect x="370.7" y="40.75" width="10.4" height="10.45" fill="#f1f1ff"/>
<rect x="380.5" y="40.75" width="10.4" height="10.45" fill="#c0c0ff"/>
<rect x="390.3" y="40.75" width="10.4" height="10.45" fill="#a0a0ff"/>
<rect x="233.5" y="50.6" width="10.4" height="10.45" fill="#f1f1ff"/>
<rect x="243.3" y="50.6" width="10.4" height="10.45" fill="#fff49a"/>
<rect x="253.1" y="50.6" width="10.4" height="10.45" fill="#ffe800"/>
<rect x="262.9" y="50.6" width="10.4" height="10.45" fill="#ffe800"/>
<rect x="272.7" y="50.6" width="10.4" height="10.45" fill="#ffe800"/>
<rect x="282.5" y="50.6" width="10.4" height="10.45" fill="#fffbd6"/>
<rect x="292.3" y="50.6" width="10.4" height="10.45" fill="#ffb400"/>
<rect x="302.1" y="50.6" width="10.4" height="10.45" fill="#ff6e00"/>
<rect x="311.9" y="50.6" width="10.4" height="10.45" fill="#ff9400"/>
<rect x="321.7" y="50.6" width="10.4" height="10.45" fill="#ffe800"/>
<rect x="331.5" y="50.6" width="10.4" height="10.45" fill="#dcdcff"/>
<rect x="341.3" y="50.6" width="10.4" height="10.45" fill="#c0c0ff"/>
<rect x="351.1" y="50.6" width="10.4" height="10.45" fill="#dcdcff"/>
<rect x="360.9" y="50.6" width="10.4" height="10.45" fill="#fff49a"/>
<rect x="370.7" y="50.6" width="10.4" height="10.45" fill="#ffe800"/>
<rect x="380.5" y="50.6" width="10.4" height="10.45" fill="#fff49a"/>
<rect x="390.3" y="50.6" width="10.4" height="10.45" fill="#fffbd6"/>
<rect x="243.3" y="60.45" width="10.4" height="10.45" fill="#c0c0ff"/>
<rect x="253.1" y="60.45" width="10.4" height="10.45" fill="#a0a0ff"/>
<rect x="262.9" y="60.45" width="10.4" height="10.45" fill="#c0c0ff"/>
<rect x="272.7" y="60.45" width="10.4" height="10.45" fill="#c0c0ff"/>
<rect x="282.5" y="60.45" width="10.4" height="10.45" fill="#c0c0ff"/>
<rect x="292.3" y="60.45" width="10.4" height="10.45" fill="#ffb400"/>
<rect x="302.1" y="60.45" width="10.4" height="10.45" fill="#ff4200"/>
<rect x="311.9" y="60.45" width="10.4" height="10.45" fill="#ff4200"/>
<rect x="321.7" y="60.45" width="10.4" height="10.45" fill="#ffb400"/>
<rect x="331.5" y="60.45" width="10.4" height="10.45" fill="#ffe800"/>
<rect x="341.3" y="60.45" width="10.4" height="10.45" fill="#ffe800"/>
<rect x="360.9" y="60.45" width="10.4" height="10.45" fill="#ffe800"/>
<rect x="380.5" y="60.45" width="10.4" height="10.45" fill="#fffbd6"/>
<rect x="390.3" y="60.45" width="10.4" height="10.45" fill="#ffe800"/>
<rect x="233.5" y="70.3" width="10.4" height="10.45" fill="#f1f1ff"/>
<rect x="253.1" y="70.3" width="10.4" height="10.45" fill="#c0c0ff"/>
<rect x="262.9" y="70.3" width="10.4" height="10.45" fill="#ffe800"/>
<rect x="282.5" y="70.3" width="10.4" height="10.45" fill="#ff9400"/>
<rect x="292.3" y="70.3" width="10.4" height="10.45" fill="#e40800"/>
<rect x="302.1" y="70.3" width="10.4" height="10.45" fill="#aa0000"/>
<rect x="311.9" y="70.3" width="10.4" height="10.45" fill="#ff4200"/>
<rect x="321.7" y="70.3" width="10.4" height="10.45" fill="#ffd000"/>
<rect x="331.5" y="70.3" width="10.4" height="10.45" fill="#dcdcff"/>
<rect x="341.3" y="70.3" width="10.4" height="10.45" fill="#ffe800"/>
<rect x="351.1" y="70.3" width="10.4" height="10.45" fill="#c0c0ff"/>
<rect x="360.9" y="70.3" width="10.4" height="10.45" fill="#dcdcff"/>
<rect x="370.7" y="70.3" width="10.4" height="10.45" fill="#fff49a"/>
<rect x="380.5" y="70.3" width="10.4" height="10.45" fill="#dcdcff"/>
<rect x="390.3" y="70.3" width="10.4" height="10.45" fill="#dcdcff"/>
<rect x="233.5" y="80.15" width="10.4" height="10.45" fill="#ffe800"/>
<rect x="243.3" y="80.15" width="10.4" height="10.45" fill="#ffe800"/>
<rect x="253.1" y="80.15" width="10.4" height="10.45" fill="#c0c0ff"/>
<rect x="262.9" y="80.15" width="10.4" height="10.45" fill="#ffd000"/>
<rect x="282.5" y="80.15" width="10.4" height="10.45" fill="#ffb400"/>
<rect x="292.3" y="80.15" width="10.4" height="10.45" fill="#e40800"/>
<rect x="302.1" y="80.15" width="10.4" height="10.45" fill="#e40800"/>
<rect x="311.9" y="80.15" width="10.4" height="10.45" fill="#ff6e00"/>
<rect x="331.5" y="80.15" width="10.4" height="10.45" fill="#fff49a"/>
<rect x="341.3" y="80.15" width="10.4" height="10.45" fill="#dcdcff"/>
<rect x="351.1" y="80.15" width="10.4" height="10.45" fill="#c0c0ff"/>
<rect x="370.7" y="80.15" width="10.4" height="10.45" fill="#dcdcff"/>
<rect x="390.3" y="80.15" width="10.4" height="10.45" fill="#dcdcff"/>
<rect x="233.5" y="90" width="10.4" height="10.45" fill="#dcdcff"/>
<rect x="243.3" y="90" width="10.4" height="10.45" fill="#fff49a"/>
<rect x="262.9" y="90" width="10.4" height="10.45" fill="#ffb400"/>
<rect x="272.7" y="90" width="10.4" height="10.45" fill="#ff9400"/>
<rect x="282.5" y="90" width="10.4" height="10.45" fill="#ff4200"/>
<rect x="292.3" y="90" width="10.4" height="10.45" fill="#700000"/>
<rect x="302.1" y="90" width="10.4" height="10.45" fill="#e40800"/>
<rect x="311.9" y="90" width="10.4" height="10.45" fill="#ff6e00"/>
<rect x="321.7" y="90" width="10.4" height="10.45" fill="#ffe800"/>
<rect x="331.5" y="90" width="10.4" height="10.45" fill="#fff49a"/>
<rect x="341.3" y="90" width="10.4" height="10.45" fill="#c0c0ff"/>
<rect x="351.1" y="90" width="10.4" height="10.45" fill="#c0c0ff"/>
<rect x="360.9" y="90" width="10.4" height="10.45" fill="#dcdcff"/>
<rect x="370.7" y="90" width="10.4" height="10.45" fill="#a0a0ff"/>
<rect x="390.3" y="90" width="10.4" height="10.45" fill="#ffe800"/>
<rect x="243.3" y="99.85" width="10.4" height="10.45" fill="#ffb400"/>
<rect x="253.1" y="99.85" width="10.4" height="10.45" fill="#ffd000"/>
<rect x="262.9" y="99.85" width="10.4" height="10.45" fill="#ff6e00"/>
<rect x="272.7" y="99.85" width="10.4" height="10.45" fill="#ff4200"/>
<rect x="282.5" y="99.85" width="10.4" height="10.45" fill="#e40800"/>
<rect x="292.3" y="99.85" width="10.4" height="10.45" fill="#700000"/>
<rect x="302.1" y="99.85" width="10.4" height="10.45" fill="#aa0000"/>
<rect x="311.9" y="99.85" width="10.4" height="10.45" fill="#ff6e00"/>
<rect x="321.7" y="99.85" width="10.4" height="10.45" fill="#a0a0ff"/>
<rect x="331.5" y="99.85" width="10.4" height="10.45" fill="#c0c0ff"/>
<rect x="341.3" y="99.85" width="10.4" height="10.45" fill="#4040ff"/>
<rect x="351.1" y="99.85" width="10.4" height="10.45" fill="#6a6aff"/>
<rect x="360.9" y="99.85" width="10.4" height="10.45" fill="#6a6aff"/>
<rect x="370.7" y="99.85" width="10.4" height="10.45" fill="#6a6aff"/>
<rect x="380.5" y="99.85" width="10.4" height="10.45" fill="#dcdcff"/>
<rect x="243.3" y="109.7" width="10.4" height="10.45" fill="#ffb400"/>
<rect x="253.1" y="109.7" width="10.4" height="10.45" fill="#ff9400"/>
<rect x="262.9" y="109.7" width="10.4" height="10.45" fill="#ff9400"/>
<rect x="272.7" y="109.7" width="10.4" height="10.45" fill="#ff9400"/>
<rect x="282.5" y="109.7" width="10.4" height="10.45" fill="#ff4200"/>
<rect x="292.3" y="109.7" width="10.4" height="10.45" fill="#aa0000"/>
<rect x="302.1" y="109.7" width="10.4" height="10.45" fill="#e40800"/>
<rect x="311.9" y="109.7" width="10.4" height="10.45" fill="#1a1aff"/>
<rect x="321.7" y="109.7" width="10.4" height="10.45" fill="#0000ee"/>
<rect x="331.5" y="109.7" width="10.4" height="10.45" fill="#0000ee"/>
<rect x="341.3" y="109.7" width="10.4" height="10.45" fill="#0000ee"/>
<rect x="351.1" y="109.7" width="10.4" height="10.45" fill="#1a1aff"/>
<rect x="360.9" y="109.7" width="10.4" height="10.45" fill="#0000ee"/>
<rect x="370.7" y="109.7" width="10.4" height="10.45" fill="#4040ff"/>
<rect x="380.5" y="109.7" width="10.4" height="10.45" fill="#c0c0ff"/>
<rect x="233.5" y="119.55" width="10.4" height="10.45" fill="#ffe800"/>
<rect x="243.3" y="119.55" width="10.4" height="10.45" fill="#ffb400"/>
<rect x="253.1" y="119.55" width="10.4" height="10.45" fill="#ffe800"/>
<rect x="272.7" y="119.55" width="10.4" height="10.45" fill="#ffd000"/>
<rect x="282.5" y="119.55" width="10.4" height="10.45" fill="#ffd000"/>
<rect x="292.3" y="119.55" width="10.4" height="10.45" fill="#ffb400"/>
<rect x="302.1" y="119.55" width="10.4" height="10.45" fill="#0000ee"/>
<rect x="311.9" y="119.55" width="10.4" height="10.45" fill="#0000a0"/>
<rect x="321.7" y="119.55" width="10.4" height="10.45" fill="#000078"/>
<rect x="331.5" y="119.55" width="10.4" height="10.45" fill="#1a1aff"/>
<rect x="341.3" y="119.55" width="10.4" height="10.45" fill="#4040ff"/>
<rect x="351.1" y="119.55" width="10.4" height="10.45" fill="#4040ff"/>
<rect x="360.9" y="119.55" width="10.4" height="10.45" fill="#c0c0ff"/>
<rect x="370.7" y="119.55" width="10.4" height="10.45" fill="#a0a0ff"/>
<rect x="380.5" y="119.55" width="10.4" height="10.45" fill="#ffe800"/>
<rect x="390.3" y="119.55" width="10.4" height="10.45" fill="#ff9400"/>
<rect x="233.5" y="129.4" width="10.4" height="10.45" fill="#f1f1ff"/>
<rect x="253.1" y="129.4" width="10.4" height="10.45" fill="#c0c0ff"/>
<rect x="262.9" y="129.4" width="10.4" height="10.45" fill="#a0a0ff"/>
<rect x="272.7" y="129.4" width="10.4" height="10.45" fill="#dcdcff"/>
<rect x="282.5" y="129.4" width="10.4" height="10.45" fill="#dcdcff"/>
<rect x="292.3" y="129.4" width="10.4" height="10.45" fill="#ffd000"/>
<rect x="302.1" y="129.4" width="10.4" height="10.45" fill="#0000ee"/>
<rect x="311.9" y="129.4" width="10.4" height="10.45" fill="#0000ee"/>
<rect x="321.7" y="129.4" width="10.4" height="10.45" fill="#0000ee"/>
<rect x="331.5" y="129.4" width="10.4" height="10.45" fill="#c0c0ff"/>
<rect x="341.3" y="129.4" width="10.4" height="10.45" fill="#c0c0ff"/>
<rect x="351.1" y="129.4" width="10.4" height="10.45" fill="#dcdcff"/>
<rect x="360.9" y="129.4" width="10.4" height="10.45" fill="#ffe800"/>
<rect x="370.7" y="129.4" width="10.4" height="10.45" fill="#dcdcff"/>
<rect x="390.3" y="129.4" width="10.4" height="10.45" fill="#ffd000"/>
<rect x="233.5" y="139.25" width="10.4" height="10.45" fill="#ffd000"/>
<rect x="243.3" y="139.25" width="10.4" height="10.45" fill="#ffd000"/>
<rect x="253.1" y="139.25" width="10.4" height="10.45" fill="#ffb400"/>
<rect x="262.9" y="139.25" width="10.4" height="10.45" fill="#fff49a"/>
<rect x="282.5" y="139.25" width="10.4" height="10.45" fill="#ffe800"/>
<rect x="292.3" y="139.25" width="10.4" height="10.45" fill="#c0c0ff"/>
<rect x="302.1" y="139.25" width="10.4" height="10.45" fill="#1a1aff"/>
<rect x="311.9" y="139.25" width="10.4" height="10.45" fill="#0000ee"/>
<rect x="321.7" y="139.25" width="10.4" height="10.45" fill="#4040ff"/>
<rect x="331.5" y="139.25" width="10.4" height="10.45" fill="#c0c0ff"/>
<rect x="341.3" y="139.25" width="10.4" height="10.45" fill="#a0a0ff"/>
<rect x="351.1" y="139.25" width="10.4" height="10.45" fill="#ffd000"/>
<rect x="360.9" y="139.25" width="10.4" height="10.45" fill="#ffd000"/>
<rect x="380.5" y="139.25" width="10.4" height="10.45" fill="#ffe800"/>
<rect x="390.3" y="139.25" width="10.4" height="10.45" fill="#ffe800"/>
<rect x="243.3" y="149.1" width="10.4" height="10.45" fill="#a0a0ff"/>
<rect x="253.1" y="149.1" width="10.4" height="10.45" fill="#fff49a"/>
<rect x="262.9" y="149.1" width="10.4" height="10.45" fill="#f1f1ff"/>
<rect x="292.3" y="149.1" width="10.4" height="10.45" fill="#c0c0ff"/>
<rect x="302.1" y="149.1" width="10.4" height="10.45" fill="#6a6aff"/>
<rect x="311.9" y="149.1" width="10.4" height="10.45" fill="#6a6aff"/>
<rect x="321.7" y="149.1" width="10.4" height="10.45" fill="#6a6aff"/>
<rect x="341.3" y="149.1" width="10.4" height="10.45" fill="#c0c0ff"/>
<rect x="351.1" y="149.1" width="10.4" height="10.45" fill="#fffbd6"/>
<rect x="360.9" y="149.1" width="10.4" height="10.45" fill="#f1f1ff"/>
<rect x="380.5" y="149.1" width="10.4" height="10.45" fill="#fffbd6"/>
<rect x="390.3" y="149.1" width="10.4" height="10.45" fill="#dcdcff"/>
<rect x="233.5" y="158.95" width="10.4" height="10.45" fill="#ffd000"/>
<rect x="243.3" y="158.95" width="10.4" height="10.45" fill="#dcdcff"/>
<rect x="253.1" y="158.95" width="10.4" height="10.45" fill="#fffbd6"/>
<rect x="262.9" y="158.95" width="10.4" height="10.45" fill="#fffbd6"/>
<rect x="272.7" y="158.95" width="10.4" height="10.45" fill="#ffe800"/>
<rect x="282.5" y="158.95" width="10.4" height="10.45" fill="#ffe800"/>
<rect x="292.3" y="158.95" width="10.4" height="10.45" fill="#dcdcff"/>
<rect x="302.1" y="158.95" width="10.4" height="10.45" fill="#c0c0ff"/>
<rect x="311.9" y="158.95" width="10.4" height="10.45" fill="#c0c0ff"/>
<rect x="321.7" y="158.95" width="10.4" height="10.45" fill="#c0c0ff"/>
<rect x="331.5" y="158.95" width="10.4" height="10.45" fill="#f1f1ff"/>
<rect x="341.3" y="158.95" width="10.4" height="10.45" fill="#dcdcff"/>
<rect x="351.1" y="158.95" width="10.4" height="10.45" fill="#fff49a"/>
<rect x="360.9" y="158.95" width="10.4" height="10.45" fill="#ffd000"/>
<rect x="370.7" y="158.95" width="10.4" height="10.45" fill="#ffe800"/>
<rect x="380.5" y="158.95" width="10.4" height="10.45" fill="#fffbd6"/>
<rect x="390.3" y="158.95" width="10.4" height="10.45" fill="#ffe800"/>
<rect x="233.5" y="168.8" width="10.4" height="10.45" fill="#ffe800"/>
<rect x="243.3" y="168.8" width="10.4" height="10.45" fill="#a0a0ff"/>
<rect x="253.1" y="168.8" width="10.4" height="10.45" fill="#ffd000"/>
<rect x="272.7" y="168.8" width="10.4" height="10.45" fill="#fff49a"/>
<rect x="282.5" y="168.8" width="10.4" height="10.45" fill="#ffb400"/>
<rect x="292.3" y="168.8" width="10.4" height="10.45" fill="#ffe800"/>
<rect x="302.1" y="168.8" width="10.4" height="10.45" fill="#fffbd6"/>
<rect x="311.9" y="168.8" width="10.4" height="10.45" fill="#dcdcff"/>
<rect x="321.7" y="168.8" width="10.4" height="10.45" fill="#f1f1ff"/>
<rect x="331.5" y="168.8" width="10.4" height="10.45" fill="#c0c0ff"/>
<rect x="341.3" y="168.8" width="10.4" height="10.45" fill="#a0a0ff"/>
<rect x="351.1" y="168.8" width="10.4" height="10.45" fill="#ffd000"/>
<rect x="360.9" y="168.8" width="10.4" height="10.45" fill="#f1f1ff"/>
<rect x="370.7" y="168.8" width="10.4" height="10.45" fill="#fffbd6"/>
<rect x="380.5" y="168.8" width="10.4" height="10.45" fill="#f1f1ff"/>
<rect x="390.3" y="168.8" width="10.4" height="10.45" fill="#dcdcff"/>
<rect x="233.5" y="178.65" width="10.4" height="10.45" fill="#ffd000"/>
<rect x="243.3" y="178.65" width="10.4" height="10.45" fill="#a0a0ff"/>
<rect x="253.1" y="178.65" width="10.4" height="10.45" fill="#fff49a"/>
<rect x="262.9" y="178.65" width="10.4" height="10.45" fill="#dcdcff"/>
<rect x="272.7" y="178.65" width="10.4" height="10.45" fill="#dcdcff"/>
<rect x="302.1" y="178.65" width="10.4" height="10.45" fill="#ffe800"/>
<rect x="321.7" y="178.65" width="10.4" height="10.45" fill="#ffe800"/>
<rect x="331.5" y="178.65" width="10.4" height="10.45" fill="#c0c0ff"/>
<rect x="341.3" y="178.65" width="10.4" height="10.45" fill="#a0a0ff"/>
<rect x="351.1" y="178.65" width="10.4" height="10.45" fill="#f1f1ff"/>
<rect x="360.9" y="178.65" width="10.4" height="10.45" fill="#dcdcff"/>
<rect x="380.5" y="178.65" width="10.4" height="10.45" fill="#dcdcff"/>
<rect x="390.3" y="178.65" width="10.4" height="10.45" fill="#f1f1ff"/>
<path d="M238.87 25.98 L241.9 35.83 L238.4 38.06" fill="none" stroke="#000" stroke-width="1.1" stroke-linejoin="round"/>
<path d="M267.8 37.23 L258 36.62 L256.6 35.83 L258 34.54 L267.8 34.54 L269.43 35.83 L267.8 37.23Z" fill="none" stroke="#000" stroke-width="1.1" stroke-linejoin="round"/>
<path d="M328 25.98 L327.39 35.83 L336.4 44.88 L337.68 45.67 L336.4 46.47 L326.6 47.95 L323.33 55.53 L326.6 60.45 L331.5 65.38 L327.39 75.22 L326.6 76.51 L322.97 85.07 L324.37 94.92 L320.34 104.77 L316.8 106.89 L310.84 114.62 L307 118.14 L297.84 124.47 L297.4 134.32 L297.2 134.93 L296.41 134.32 L287.4 125.27 L277.6 125.27 L276.32 124.47 L267.8 119.55 L258 121.19 L253.1 124.47 L248.2 127.76 L243.3 124.47 L244.93 114.62 L244.93 104.77 L248.2 100.83 L258 103.49 L264.53 94.92 L267.2 85.07 L267.8 82.8 L269.08 85.07 L277.6 90 L284.13 85.07 L282.5 75.22 L287.4 72.24 L295.45 65.38 L293.7 55.53 L296.19 45.67 L297.2 45.07 L307 40.75 L316.8 40.75 L325.32 35.83 L324.34 25.98" fill="none" stroke="#000" stroke-width="1.1" stroke-linejoin="round"/>
<path d="M357.4 25.98 L356.6 35.83 L356 37.23 L353.74 35.83 L355.21 25.98" fill="none" stroke="#000" stroke-width="1.1" stroke-linejoin="round"/>
<path d="M395.2 28.25 L387.66 35.83 L385.4 36.43 L375.6 36.84 L375 35.83 L374.2 25.98" fill="none" stroke="#000" stroke-width="1.1" stroke-linejoin="round"/>
<path d="M395.2 136.6 L393.92 134.32 L388.67 124.47 L395.2 119.55" fill="none" stroke="#000" stroke-width="1.1" stroke-linejoin="round"/>
<path d="M238.4 143.16 L248.2 142.89 L258 142.42 L261.92 144.18 L258 148.12 L248.2 144.64 L238.4 145.46" fill="none" stroke="#000" stroke-width="1.1" stroke-linejoin="round"/>
<path d="M365.8 145.19 L356 145.58 L355.53 144.18 L356 143.38 L365.8 141.9 L367.08 144.18 L365.8 145.19Z" fill="none" stroke="#000" stroke-width="1.1" stroke-linejoin="round"/>
<path d="M238.4 162.59 L239.19 163.88 L238.4 166.15" fill="none" stroke="#000" stroke-width="1.1" stroke-linejoin="round"/>
<path d="M365.8 164.89 L364.17 163.88 L365.8 162.86 L368.06 163.88 L365.8 164.89Z" fill="none" stroke="#000" stroke-width="1.1" stroke-linejoin="round"/>
<path d="M258 175.37 L257.53 173.72 L258 172.32 L259.28 173.72 L258 175.37Z" fill="none" stroke="#000" stroke-width="1.1" stroke-linejoin="round"/>
<path d="M287.4 177.01 L283.48 173.72 L287.4 168.8 L292.3 173.72 L287.4 177.01Z" fill="none" stroke="#000" stroke-width="1.1" stroke-linejoin="round"/>
<path d="M356 174.74 L355.53 173.72 L356 172.08 L357.01 173.72 L356 174.74Z" fill="none" stroke="#000" stroke-width="1.1" stroke-linejoin="round"/>
<path d="M238.4 181.3 L238.87 183.58" fill="none" stroke="#000" stroke-width="1.1" stroke-linejoin="round"/>
<path d="M307 117.26 L297.2 123.58 L287.4 121.06 L277.6 114.62 L267.8 114.62 L263.37 104.77 L267.8 99.03 L277.6 94.92 L287.4 87.42 L288.8 85.07 L287.4 75.22 L297.2 66.78 L299.53 65.38 L301.28 55.53 L307 45.67 L316.8 55.53 L324.27 65.38 L323.2 75.22 L319.34 85.07 L319.92 94.92 L318.26 104.77 L316.8 105.65 L309.88 114.62 L307 117.26Z" fill="none" stroke="#000" stroke-width="1.1" stroke-linejoin="round"/>
<path d="M307 115.5 L297.2 120 L288.55 114.62 L287.4 111.81 L280.4 104.77 L287.4 97.74 L288.13 94.92 L294.4 85.07 L293.93 75.22 L297.2 72.41 L307 66.53 L315.65 75.22 L311.26 85.07 L311.26 94.92 L313.84 104.77 L307.96 114.62 L307 115.5Z" fill="none" stroke="#000" stroke-width="1.1" stroke-linejoin="round"/>
<path d="M307 80.15 L302.1 75.22 L307 72.33 L309.88 75.22 L307 80.15Z" fill="none" stroke="#000" stroke-width="1.1" stroke-linejoin="round"/>
<path d="M297.2 116.42 L294.32 114.62 L289.85 104.77 L291.76 94.92 L297.2 87.54 L304.55 94.92 L307 99.85 L309.28 104.77 L307 109.7 L302.1 114.62 L297.2 116.42Z" fill="none" stroke="#000" stroke-width="1.1" stroke-linejoin="round"/>
<path d="M297.2 109.7 L294.75 104.77 L295.39 94.92 L297.2 92.46 L299.65 94.92 L302.1 104.77 L297.2 109.7Z" fill="none" stroke="#000" stroke-width="1.1" stroke-linejoin="round"/>
<path d="M245.09 25.98 L248.2 30.67 L253.1 25.98" fill="none" stroke="#000" stroke-width="1.15" stroke-dasharray="1.2 1.2"/>
<path d="M282.5 25.98 L285.5 35.83 L287.4 38.78 L297.2 37.03 L299.46 35.83 L297.2 33.55 L289.66 25.98" fill="none" stroke="#000" stroke-width="1.15" stroke-dasharray="1.2 1.2"/>
<path d="M367 35.83 L365.8 33.71 L364.6 35.83 L365.8 38.78 L367 35.83Z" fill="none" stroke="#000" stroke-width="1.15" stroke-dasharray="1.2 1.2"/>
<path d="M255.74 45.67 L248.2 40.98 L240.66 45.67 L248.2 50.05 L255.74 45.67Z" fill="none" stroke="#000" stroke-width="1.15" stroke-dasharray="1.2 1.2"/>
<path d="M395.2 41.73 L385.4 44.47 L382.46 45.67 L385.4 47.58 L395.2 50.37" fill="none" stroke="#000" stroke-width="1.15" stroke-dasharray="1.2 1.2"/>
<path d="M351.1 55.53 L346.2 53.25 L341.3 55.53 L346.2 57.17 L351.1 55.53Z" fill="none" stroke="#000" stroke-width="1.15" stroke-dasharray="1.2 1.2"/>
<path d="M259.2 85.07 L259.63 75.22 L267.8 67.02 L277.6 67.65 L287.4 66.27 L288.45 65.38 L287.4 63.26 L277.6 63.73 L267.8 63.73 L258 61.44 L248.2 63.47 L245.94 65.38 L248.2 67.65 L255.74 75.22 L256.37 85.07 L258 87.35 L259.2 85.07Z" fill="none" stroke="#000" stroke-width="1.15" stroke-dasharray="1.2 1.2"/>
<path d="M351.96 183.58 L349.31 173.72 L346.2 166.15 L336.4 170.77 L329.54 163.88 L333.24 154.03 L336.4 146.45 L343.94 154.03 L346.2 158.95 L348.3 154.03 L349.31 144.18 L351.1 134.32 L356 133.48 L365.8 126.12 L375.6 132.05 L379.52 124.47 L385.4 116.27 L387.66 114.62 L385.4 109.7 L384.18 104.77 L380.5 94.92 L375.6 87.35 L368.06 94.92 L365.8 96.16 L360.9 94.92 L358.26 85.07 L360.9 75.22 L356 72.95 L354.37 75.22 L351.1 85.07 L346.2 90 L344.3 94.92 L336.4 102.87 L326.6 100.83 L324.51 104.77 L316.8 109.39 L312.76 114.62 L307 119.9 L300.38 124.47 L300.07 134.32 L297.2 142.97 L295.57 144.18 L294.94 154.03 L297.2 158.95 L302.1 163.88 L307 165.99 L316.8 168.8 L326.6 166.83 L333.46 173.72 L334.77 183.58" fill="none" stroke="#000" stroke-width="1.15" stroke-dasharray="1.2 1.2"/>
<path d="M275.34 134.32 L267.8 129.4 L258 132.68 L255.74 134.32 L258 135.38 L267.8 138.7 L275.34 134.32Z" fill="none" stroke="#000" stroke-width="1.15" stroke-dasharray="1.2 1.2"/>
<path d="M252.56 154.03 L248.2 150.9 L243.3 154.03 L248.2 161.6 L252.56 154.03Z" fill="none" stroke="#000" stroke-width="1.15" stroke-dasharray="1.2 1.2"/>
<path d="M252.56 183.58 L251.31 173.72 L248.2 166.15 L244.28 173.72 L245.09 183.58" fill="none" stroke="#000" stroke-width="1.15" stroke-dasharray="1.2 1.2"/>
<path d="M330.08 154.03 L334.03 144.18 L335 134.32 L336.4 132.56 L346.2 131.95 L356 130.67 L363.43 124.47 L365.8 123.07 L375.6 124.47 L383.03 114.62 L380.09 104.77 L375.6 94.92 L365.8 100.26 L356 98.76 L346.2 97.3 L338.77 104.77 L336.4 106.18 L326.6 104.77 L316.8 110.64 L313.73 114.62 L307 120.78 L301.65 124.47 L301.4 134.32 L298.96 144.18 L301.01 154.03 L307 160.04 L316.8 160.04 L326.6 160.04 L330.08 154.03Z" fill="none" stroke="#000" stroke-width="1.15" stroke-dasharray="1.2 1.2"/>
<path d="M248.2 173.72 L248.2 183.58 L248.2 173.72Z" fill="none" stroke="#000" stroke-width="1.15" stroke-dasharray="1.2 1.2"/>
<path d="M346.2 173.72 L346.2 183.58 L346.2 173.72Z" fill="none" stroke="#000" stroke-width="1.15" stroke-dasharray="1.2 1.2"/>
<path d="M327.28 144.18 L331 134.32 L336.4 127.51 L346.2 125.15 L356 125.04 L356.68 124.47 L365.8 119.05 L375.6 115.52 L376.28 114.62 L375.6 112.83 L365.8 107.63 L356 109 L347.98 104.77 L346.2 104.1 L345.52 104.77 L336.4 110.2 L326.6 109.47 L316.8 113.13 L315.65 114.62 L307 122.54 L304.2 124.47 L304.07 134.32 L303.98 144.18 L307 149.8 L316.8 151.17 L326.6 145.97 L327.28 144.18Z" fill="none" stroke="#000" stroke-width="1.15" stroke-dasharray="1.2 1.2"/>
<path d="M317.78 144.18 L326.6 135.31 L327 134.32 L334.66 124.47 L336.4 116.59 L346.2 115.61 L348.16 114.62 L346.2 113.64 L336.4 114.22 L326.6 114.16 L324.64 114.62 L316.8 117.44 L307 124.3 L306.75 124.47 L306.73 134.32 L307 136.3 L314.84 144.18 L316.8 144.81 L317.78 144.18Z" fill="none" stroke="#000" stroke-width="1.15" stroke-dasharray="1.2 1.2"/>
<path d="M366.78 114.62 L365.8 113.99 L363.84 114.62 L365.8 115.03 L366.78 114.62Z" fill="none" stroke="#000" stroke-width="1.15" stroke-dasharray="1.2 1.2"/>
<path d="M330.3 124.47 L326.6 119.69 L316.8 124.47 L326.6 129.26 L330.3 124.47Z" fill="none" stroke="#000" stroke-width="1.15" stroke-dasharray="1.2 1.2"/>
</g>
<line x1="257.2" y1="189" x2="257.2" y2="182.7" stroke="#3a3a3a" stroke-width="1.4"/>
<line x1="257.2" y1="22.2" x2="257.2" y2="28.5" stroke="#3a3a3a" stroke-width="1.4"/>
<line x1="283.6" y1="189" x2="283.6" y2="182.7" stroke="#3a3a3a" stroke-width="1.4"/>
<line x1="283.6" y1="22.2" x2="283.6" y2="28.5" stroke="#3a3a3a" stroke-width="1.4"/>
<line x1="310" y1="189" x2="310" y2="182.7" stroke="#3a3a3a" stroke-width="1.4"/>
<line x1="310" y1="22.2" x2="310" y2="28.5" stroke="#3a3a3a" stroke-width="1.4"/>
<line x1="336.5" y1="189" x2="336.5" y2="182.7" stroke="#3a3a3a" stroke-width="1.4"/>
<line x1="336.5" y1="22.2" x2="336.5" y2="28.5" stroke="#3a3a3a" stroke-width="1.4"/>
<line x1="362.9" y1="189" x2="362.9" y2="182.7" stroke="#3a3a3a" stroke-width="1.4"/>
<line x1="362.9" y1="22.2" x2="362.9" y2="28.5" stroke="#3a3a3a" stroke-width="1.4"/>
<line x1="389.3" y1="189" x2="389.3" y2="182.7" stroke="#3a3a3a" stroke-width="1.4"/>
<line x1="389.3" y1="22.2" x2="389.3" y2="28.5" stroke="#3a3a3a" stroke-width="1.4"/>
<line x1="233.5" y1="32.7" x2="239.8" y2="32.7" stroke="#3a3a3a" stroke-width="1.4"/>
<line x1="396.8" y1="32.7" x2="390.5" y2="32.7" stroke="#3a3a3a" stroke-width="1.4"/>
<line x1="233.5" y1="59.3" x2="239.8" y2="59.3" stroke="#3a3a3a" stroke-width="1.4"/>
<line x1="396.8" y1="59.3" x2="390.5" y2="59.3" stroke="#3a3a3a" stroke-width="1.4"/>
<line x1="233.5" y1="84.9" x2="239.8" y2="84.9" stroke="#3a3a3a" stroke-width="1.4"/>
<line x1="396.8" y1="84.9" x2="390.5" y2="84.9" stroke="#3a3a3a" stroke-width="1.4"/>
<line x1="233.5" y1="111" x2="239.8" y2="111" stroke="#3a3a3a" stroke-width="1.4"/>
<line x1="396.8" y1="111" x2="390.5" y2="111" stroke="#3a3a3a" stroke-width="1.4"/>
<line x1="233.5" y1="137.1" x2="239.8" y2="137.1" stroke="#3a3a3a" stroke-width="1.4"/>
<line x1="396.8" y1="137.1" x2="390.5" y2="137.1" stroke="#3a3a3a" stroke-width="1.4"/>
<line x1="233.5" y1="163.2" x2="239.8" y2="163.2" stroke="#3a3a3a" stroke-width="1.4"/>
<line x1="396.8" y1="163.2" x2="390.5" y2="163.2" stroke="#3a3a3a" stroke-width="1.4"/>
<rect x="233.5" y="22.2" width="163.3" height="166.8" fill="none" stroke="#222" stroke-width="1.2"/>
<clipPath id="clip_b"><rect x="539.5" y="25.9" width="162.9" height="162.7"/></clipPath>
<g clip-path="url(#clip_b)">
<rect x="542.4" y="26.1" width="9.96" height="9.99" fill="#c0c0ff"/>
<rect x="561.12" y="26.1" width="9.96" height="9.99" fill="#c0c0ff"/>
<rect x="570.48" y="26.1" width="9.96" height="9.99" fill="#fff49a"/>
<rect x="579.84" y="26.1" width="9.96" height="9.99" fill="#ffe800"/>
<rect x="589.2" y="26.1" width="9.96" height="9.99" fill="#fffbd6"/>
<rect x="598.56" y="26.1" width="9.96" height="9.99" fill="#ffe800"/>
<rect x="607.92" y="26.1" width="9.96" height="9.99" fill="#ffe800"/>
<rect x="626.64" y="26.1" width="9.96" height="9.99" fill="#ffe800"/>
<rect x="636" y="26.1" width="9.96" height="9.99" fill="#ffe800"/>
<rect x="682.8" y="26.1" width="9.96" height="9.99" fill="#f1f1ff"/>
<rect x="692.16" y="26.1" width="9.96" height="9.99" fill="#c0c0ff"/>
<rect x="542.4" y="35.49" width="9.96" height="9.99" fill="#ffe800"/>
<rect x="551.76" y="35.49" width="9.96" height="9.99" fill="#f1f1ff"/>
<rect x="561.12" y="35.49" width="9.96" height="9.99" fill="#dcdcff"/>
<rect x="570.48" y="35.49" width="9.96" height="9.99" fill="#f1f1ff"/>
<rect x="589.2" y="35.49" width="9.96" height="9.99" fill="#f1f1ff"/>
<rect x="598.56" y="35.49" width="9.96" height="9.99" fill="#ffe800"/>
<rect x="607.92" y="35.49" width="9.96" height="9.99" fill="#fff49a"/>
<rect x="617.28" y="35.49" width="9.96" height="9.99" fill="#fff49a"/>
<rect x="626.64" y="35.49" width="9.96" height="9.99" fill="#fff49a"/>
<rect x="645.36" y="35.49" width="9.96" height="9.99" fill="#fffbd6"/>
<rect x="664.08" y="35.49" width="9.96" height="9.99" fill="#dcdcff"/>
<rect x="673.44" y="35.49" width="9.96" height="9.99" fill="#f1f1ff"/>
<rect x="692.16" y="35.49" width="9.96" height="9.99" fill="#f1f1ff"/>
<rect x="542.4" y="44.88" width="9.96" height="9.99" fill="#fff49a"/>
<rect x="551.76" y="44.88" width="9.96" height="9.99" fill="#dcdcff"/>
<rect x="579.84" y="44.88" width="9.96" height="9.99" fill="#fff49a"/>
<rect x="589.2" y="44.88" width="9.96" height="9.99" fill="#ffd000"/>
<rect x="598.56" y="44.88" width="9.96" height="9.99" fill="#ffe800"/>
<rect x="607.92" y="44.88" width="9.96" height="9.99" fill="#c0c0ff"/>
<rect x="617.28" y="44.88" width="9.96" height="9.99" fill="#c0c0ff"/>
<rect x="626.64" y="44.88" width="9.96" height="9.99" fill="#f1f1ff"/>
<rect x="664.08" y="44.88" width="9.96" height="9.99" fill="#fff49a"/>
<rect x="673.44" y="44.88" width="9.96" height="9.99" fill="#fff49a"/>
<rect x="682.8" y="44.88" width="9.96" height="9.99" fill="#dcdcff"/>
<rect x="542.4" y="54.27" width="9.96" height="9.99" fill="#ffe800"/>
<rect x="561.12" y="54.27" width="9.96" height="9.99" fill="#fff49a"/>
<rect x="570.48" y="54.27" width="9.96" height="9.99" fill="#fffbd6"/>
<rect x="579.84" y="54.27" width="9.96" height="9.99" fill="#fffbd6"/>
<rect x="589.2" y="54.27" width="9.96" height="9.99" fill="#f1f1ff"/>
<rect x="607.92" y="54.27" width="9.96" height="9.99" fill="#c0c0ff"/>
<rect x="617.28" y="54.27" width="9.96" height="9.99" fill="#c0c0ff"/>
<rect x="626.64" y="54.27" width="9.96" height="9.99" fill="#f1f1ff"/>
<rect x="636" y="54.27" width="9.96" height="9.99" fill="#dcdcff"/>
<rect x="645.36" y="54.27" width="9.96" height="9.99" fill="#f1f1ff"/>
<rect x="664.08" y="54.27" width="9.96" height="9.99" fill="#dcdcff"/>
<rect x="673.44" y="54.27" width="9.96" height="9.99" fill="#fff49a"/>
<rect x="692.16" y="54.27" width="9.96" height="9.99" fill="#fffbd6"/>
<rect x="542.4" y="63.66" width="9.96" height="9.99" fill="#c0c0ff"/>
<rect x="551.76" y="63.66" width="9.96" height="9.99" fill="#c0c0ff"/>
<rect x="561.12" y="63.66" width="9.96" height="9.99" fill="#c0c0ff"/>
<rect x="579.84" y="63.66" width="9.96" height="9.99" fill="#fff49a"/>
<rect x="589.2" y="63.66" width="9.96" height="9.99" fill="#ffb400"/>
<rect x="598.56" y="63.66" width="9.96" height="9.99" fill="#ffe800"/>
<rect x="607.92" y="63.66" width="9.96" height="9.99" fill="#c0c0ff"/>
<rect x="617.28" y="63.66" width="9.96" height="9.99" fill="#c0c0ff"/>
<rect x="626.64" y="63.66" width="9.96" height="9.99" fill="#fff49a"/>
<rect x="636" y="63.66" width="9.96" height="9.99" fill="#ffe800"/>
<rect x="654.72" y="63.66" width="9.96" height="9.99" fill="#ffe800"/>
<rect x="673.44" y="63.66" width="9.96" height="9.99" fill="#dcdcff"/>
<rect x="682.8" y="63.66" width="9.96" height="9.99" fill="#dcdcff"/>
<rect x="692.16" y="63.66" width="9.96" height="9.99" fill="#c0c0ff"/>
<rect x="551.76" y="73.05" width="9.96" height="9.99" fill="#dcdcff"/>
<rect x="561.12" y="73.05" width="9.96" height="9.99" fill="#ffe800"/>
<rect x="579.84" y="73.05" width="9.96" height="9.99" fill="#ffe800"/>
<rect x="598.56" y="73.05" width="9.96" height="9.99" fill="#dcdcff"/>
<rect x="607.92" y="73.05" width="9.96" height="9.99" fill="#6a6aff"/>
<rect x="617.28" y="73.05" width="9.96" height="9.99" fill="#6a6aff"/>
<rect x="626.64" y="73.05" width="9.96" height="9.99" fill="#a0a0ff"/>
<rect x="636" y="73.05" width="9.96" height="9.99" fill="#dcdcff"/>
<rect x="654.72" y="73.05" width="9.96" height="9.99" fill="#fffbd6"/>
<rect x="664.08" y="73.05" width="9.96" height="9.99" fill="#f1f1ff"/>
<rect x="673.44" y="73.05" width="9.96" height="9.99" fill="#f1f1ff"/>
<rect x="682.8" y="73.05" width="9.96" height="9.99" fill="#dcdcff"/>
<rect x="542.4" y="82.44" width="9.96" height="9.99" fill="#ffe800"/>
<rect x="551.76" y="82.44" width="9.96" height="9.99" fill="#ffe800"/>
<rect x="561.12" y="82.44" width="9.96" height="9.99" fill="#ffe800"/>
<rect x="579.84" y="82.44" width="9.96" height="9.99" fill="#ffe800"/>
<rect x="589.2" y="82.44" width="9.96" height="9.99" fill="#ffe800"/>
<rect x="598.56" y="82.44" width="9.96" height="9.99" fill="#f1f1ff"/>
<rect x="607.92" y="82.44" width="9.96" height="9.99" fill="#6a6aff"/>
<rect x="617.28" y="82.44" width="9.96" height="9.99" fill="#4040ff"/>
<rect x="626.64" y="82.44" width="9.96" height="9.99" fill="#c0c0ff"/>
<rect x="636" y="82.44" width="9.96" height="9.99" fill="#ffe800"/>
<rect x="654.72" y="82.44" width="9.96" height="9.99" fill="#ffe800"/>
<rect x="673.44" y="82.44" width="9.96" height="9.99" fill="#f1f1ff"/>
<rect x="682.8" y="82.44" width="9.96" height="9.99" fill="#f1f1ff"/>
<rect x="692.16" y="82.44" width="9.96" height="9.99" fill="#ffe800"/>
<rect x="542.4" y="91.83" width="9.96" height="9.99" fill="#ffd000"/>
<rect x="551.76" y="91.83" width="9.96" height="9.99" fill="#ffe800"/>
<rect x="561.12" y="91.83" width="9.96" height="9.99" fill="#ffd000"/>
<rect x="570.48" y="91.83" width="9.96" height="9.99" fill="#f1f1ff"/>
<rect x="579.84" y="91.83" width="9.96" height="9.99" fill="#ffe800"/>
<rect x="589.2" y="91.83" width="9.96" height="9.99" fill="#fffbd6"/>
<rect x="598.56" y="91.83" width="9.96" height="9.99" fill="#c0c0ff"/>
<rect x="607.92" y="91.83" width="9.96" height="9.99" fill="#0000ee"/>
<rect x="617.28" y="91.83" width="9.96" height="9.99" fill="#0000ee"/>
<rect x="626.64" y="91.83" width="9.96" height="9.99" fill="#6a6aff"/>
<rect x="636" y="91.83" width="9.96" height="9.99" fill="#c0c0ff"/>
<rect x="645.36" y="91.83" width="9.96" height="9.99" fill="#dcdcff"/>
<rect x="664.08" y="91.83" width="9.96" height="9.99" fill="#fffbd6"/>
<rect x="682.8" y="91.83" width="9.96" height="9.99" fill="#fff49a"/>
<rect x="692.16" y="91.83" width="9.96" height="9.99" fill="#fff49a"/>
<rect x="542.4" y="101.22" width="9.96" height="9.99" fill="#ffe800"/>
<rect x="551.76" y="101.22" width="9.96" height="9.99" fill="#ffe800"/>
<rect x="561.12" y="101.22" width="9.96" height="9.99" fill="#ffe800"/>
<rect x="570.48" y="101.22" width="9.96" height="9.99" fill="#c0c0ff"/>
<rect x="589.2" y="101.22" width="9.96" height="9.99" fill="#c0c0ff"/>
<rect x="598.56" y="101.22" width="9.96" height="9.99" fill="#1a1aff"/>
<rect x="607.92" y="101.22" width="9.96" height="9.99" fill="#0000a0"/>
<rect x="617.28" y="101.22" width="9.96" height="9.99" fill="#000078"/>
<rect x="626.64" y="101.22" width="9.96" height="9.99" fill="#0000ee"/>
<rect x="636" y="101.22" width="9.96" height="9.99" fill="#1a1aff"/>
<rect x="645.36" y="101.22" width="9.96" height="9.99" fill="#4040ff"/>
<rect x="654.72" y="101.22" width="9.96" height="9.99" fill="#c0c0ff"/>
<rect x="664.08" y="101.22" width="9.96" height="9.99" fill="#dcdcff"/>
<rect x="673.44" y="101.22" width="9.96" height="9.99" fill="#f1f1ff"/>
<rect x="692.16" y="101.22" width="9.96" height="9.99" fill="#ffd000"/>
<rect x="542.4" y="110.61" width="9.96" height="9.99" fill="#ffe800"/>
<rect x="561.12" y="110.61" width="9.96" height="9.99" fill="#f1f1ff"/>
<rect x="570.48" y="110.61" width="9.96" height="9.99" fill="#6a6aff"/>
<rect x="579.84" y="110.61" width="9.96" height="9.99" fill="#a0a0ff"/>
<rect x="589.2" y="110.61" width="9.96" height="9.99" fill="#c0c0ff"/>
<rect x="598.56" y="110.61" width="9.96" height="9.99" fill="#1a1aff"/>
<rect x="607.92" y="110.61" width="9.96" height="9.99" fill="#0000a0"/>
<rect x="617.28" y="110.61" width="9.96" height="9.99" fill="#000078"/>
<rect x="626.64" y="110.61" width="9.96" height="9.99" fill="#0000ee"/>
<rect x="636" y="110.61" width="9.96" height="9.99" fill="#1a1aff"/>
<rect x="645.36" y="110.61" width="9.96" height="9.99" fill="#4040ff"/>
<rect x="654.72" y="110.61" width="9.96" height="9.99" fill="#dcdcff"/>
<rect x="664.08" y="110.61" width="9.96" height="9.99" fill="#c0c0ff"/>
<rect x="673.44" y="110.61" width="9.96" height="9.99" fill="#c0c0ff"/>
<rect x="692.16" y="110.61" width="9.96" height="9.99" fill="#ffd000"/>
<rect x="579.84" y="120" width="9.96" height="9.99" fill="#ffe800"/>
<rect x="598.56" y="120" width="9.96" height="9.99" fill="#a0a0ff"/>
<rect x="607.92" y="120" width="9.96" height="9.99" fill="#0000ee"/>
<rect x="617.28" y="120" width="9.96" height="9.99" fill="#0000a0"/>
<rect x="626.64" y="120" width="9.96" height="9.99" fill="#1a1aff"/>
<rect x="636" y="120" width="9.96" height="9.99" fill="#a0a0ff"/>
<rect x="645.36" y="120" width="9.96" height="9.99" fill="#dcdcff"/>
<rect x="654.72" y="120" width="9.96" height="9.99" fill="#ffe800"/>
<rect x="673.44" y="120" width="9.96" height="9.99" fill="#c0c0ff"/>
<rect x="682.8" y="120" width="9.96" height="9.99" fill="#c0c0ff"/>
<rect x="542.4" y="129.39" width="9.96" height="9.99" fill="#dcdcff"/>
<rect x="551.76" y="129.39" width="9.96" height="9.99" fill="#c0c0ff"/>
<rect x="570.48" y="129.39" width="9.96" height="9.99" fill="#ffe800"/>
<rect x="579.84" y="129.39" width="9.96" height="9.99" fill="#ffd000"/>
<rect x="589.2" y="129.39" width="9.96" height="9.99" fill="#ffd000"/>
<rect x="607.92" y="129.39" width="9.96" height="9.99" fill="#6a6aff"/>
<rect x="617.28" y="129.39" width="9.96" height="9.99" fill="#c0c0ff"/>
<rect x="626.64" y="129.39" width="9.96" height="9.99" fill="#dcdcff"/>
<rect x="636" y="129.39" width="9.96" height="9.99" fill="#ffe800"/>
<rect x="645.36" y="129.39" width="9.96" height="9.99" fill="#ffe800"/>
<rect x="654.72" y="129.39" width="9.96" height="9.99" fill="#ffb400"/>
<rect x="664.08" y="129.39" width="9.96" height="9.99" fill="#fffbd6"/>
<rect x="682.8" y="129.39" width="9.96" height="9.99" fill="#dcdcff"/>
<rect x="692.16" y="129.39" width="9.96" height="9.99" fill="#dcdcff"/>
<rect x="542.4" y="138.78" width="9.96" height="9.99" fill="#ffe800"/>
<rect x="561.12" y="138.78" width="9.96" height="9.99" fill="#fff49a"/>
<rect x="570.48" y="138.78" width="9.96" height="9.99" fill="#ffd000"/>
<rect x="579.84" y="138.78" width="9.96" height="9.99" fill="#ffd000"/>
<rect x="589.2" y="138.78" width="9.96" height="9.99" fill="#ffe800"/>
<rect x="598.56" y="138.78" width="9.96" height="9.99" fill="#ffd000"/>
<rect x="607.92" y="138.78" width="9.96" height="9.99" fill="#c0c0ff"/>
<rect x="617.28" y="138.78" width="9.96" height="9.99" fill="#a0a0ff"/>
<rect x="626.64" y="138.78" width="9.96" height="9.99" fill="#fff49a"/>
<rect x="636" y="138.78" width="9.96" height="9.99" fill="#ffe800"/>
<rect x="645.36" y="138.78" width="9.96" height="9.99" fill="#f1f1ff"/>
<rect x="654.72" y="138.78" width="9.96" height="9.99" fill="#ffd000"/>
<rect x="664.08" y="138.78" width="9.96" height="9.99" fill="#ffd000"/>
<rect x="673.44" y="138.78" width="9.96" height="9.99" fill="#fff49a"/>
<rect x="682.8" y="138.78" width="9.96" height="9.99" fill="#fff49a"/>
<rect x="570.48" y="148.17" width="9.96" height="9.99" fill="#fffbd6"/>
<rect x="579.84" y="148.17" width="9.96" height="9.99" fill="#fffbd6"/>
<rect x="598.56" y="148.17" width="9.96" height="9.99" fill="#fffbd6"/>
<rect x="607.92" y="148.17" width="9.96" height="9.99" fill="#dcdcff"/>
<rect x="626.64" y="148.17" width="9.96" height="9.99" fill="#fff49a"/>
<rect x="664.08" y="148.17" width="9.96" height="9.99" fill="#f1f1ff"/>
<rect x="682.8" y="148.17" width="9.96" height="9.99" fill="#dcdcff"/>
<rect x="692.16" y="148.17" width="9.96" height="9.99" fill="#dcdcff"/>
<rect x="542.4" y="157.56" width="9.96" height="9.99" fill="#f1f1ff"/>
<rect x="551.76" y="157.56" width="9.96" height="9.99" fill="#c0c0ff"/>
<rect x="570.48" y="157.56" width="9.96" height="9.99" fill="#dcdcff"/>
<rect x="589.2" y="157.56" width="9.96" height="9.99" fill="#f1f1ff"/>
<rect x="598.56" y="157.56" width="9.96" height="9.99" fill="#fffbd6"/>
<rect x="617.28" y="157.56" width="9.96" height="9.99" fill="#c0c0ff"/>
<rect x="626.64" y="157.56" width="9.96" height="9.99" fill="#dcdcff"/>
<rect x="636" y="157.56" width="9.96" height="9.99" fill="#dcdcff"/>
<rect x="664.08" y="157.56" width="9.96" height="9.99" fill="#f1f1ff"/>
<rect x="673.44" y="157.56" width="9.96" height="9.99" fill="#f1f1ff"/>
<rect x="682.8" y="157.56" width="9.96" height="9.99" fill="#f1f1ff"/>
<rect x="692.16" y="157.56" width="9.96" height="9.99" fill="#dcdcff"/>
<rect x="542.4" y="166.95" width="9.96" height="9.99" fill="#fff49a"/>
<rect x="561.12" y="166.95" width="9.96" height="9.99" fill="#ffe800"/>
<rect x="570.48" y="166.95" width="9.96" height="9.99" fill="#fff49a"/>
<rect x="579.84" y="166.95" width="9.96" height="9.99" fill="#ffe800"/>
<rect x="607.92" y="166.95" width="9.96" height="9.99" fill="#c0c0ff"/>
<rect x="617.28" y="166.95" width="9.96" height="9.99" fill="#dcdcff"/>
<rect x="626.64" y="166.95" width="9.96" height="9.99" fill="#a0a0ff"/>
<rect x="636" y="166.95" width="9.96" height="9.99" fill="#f1f1ff"/>
<rect x="654.72" y="166.95" width="9.96" height="9.99" fill="#ffe800"/>
<rect x="673.44" y="166.95" width="9.96" height="9.99" fill="#ffe800"/>
<rect x="682.8" y="166.95" width="9.96" height="9.99" fill="#fff49a"/>
<rect x="692.16" y="166.95" width="9.96" height="9.99" fill="#ffe800"/>
<rect x="542.4" y="176.34" width="9.96" height="9.99" fill="#ffe800"/>
<rect x="551.76" y="176.34" width="9.96" height="9.99" fill="#fffbd6"/>
<rect x="570.48" y="176.34" width="9.96" height="9.99" fill="#f1f1ff"/>
<rect x="579.84" y="176.34" width="9.96" height="9.99" fill="#fffbd6"/>
<rect x="589.2" y="176.34" width="9.96" height="9.99" fill="#f1f1ff"/>
<rect x="617.28" y="176.34" width="9.96" height="9.99" fill="#f1f1ff"/>
<rect x="636" y="176.34" width="9.96" height="9.99" fill="#f1f1ff"/>
<rect x="645.36" y="176.34" width="9.96" height="9.99" fill="#fffbd6"/>
<rect x="654.72" y="176.34" width="9.96" height="9.99" fill="#f1f1ff"/>
<rect x="664.08" y="176.34" width="9.96" height="9.99" fill="#f1f1ff"/>
<rect x="682.8" y="176.34" width="9.96" height="9.99" fill="#ffe800"/>
<rect x="692.16" y="176.34" width="9.96" height="9.99" fill="#ffd000"/>
<path d="M593.88 50.55 L592.32 49.58 L593.88 48.6 L596.04 49.58 L593.88 50.55Z" fill="none" stroke="#000" stroke-width="1.1" stroke-linejoin="round"/>
<path d="M593.88 71.48 L590.14 68.36 L593.88 65.75 L598.56 68.36 L593.88 71.48Z" fill="none" stroke="#000" stroke-width="1.1" stroke-linejoin="round"/>
<path d="M547.08 94.36 L549.24 96.53 L547.08 98.69" fill="none" stroke="#000" stroke-width="1.1" stroke-linejoin="round"/>
<path d="M565.8 98.69 L563.64 96.53 L565.8 94.36 L566.77 96.53 L565.8 98.69Z" fill="none" stroke="#000" stroke-width="1.1" stroke-linejoin="round"/>
<path d="M696.84 116.53 L695.62 115.31 L695.62 105.91 L696.84 104.35" fill="none" stroke="#000" stroke-width="1.1" stroke-linejoin="round"/>
<path d="M584.52 144.82 L575.16 144.82 L573.6 143.47 L575.16 141.31 L582.36 134.09 L584.52 131.92 L593.88 132.86 L595.1 134.09 L593.88 136.25 L586.68 143.47 L584.52 144.82Z" fill="none" stroke="#000" stroke-width="1.1" stroke-linejoin="round"/>
<path d="M668.76 144.45 L659.4 144.7 L658.43 143.47 L654.72 134.09 L659.4 129.39 L662.74 134.09 L668.76 142.13 L670.32 143.47 L668.76 144.45Z" fill="none" stroke="#000" stroke-width="1.1" stroke-linejoin="round"/>
<path d="M603.24 144.82 L601.08 143.47 L603.24 142.25 L603.81 143.47 L603.24 144.82Z" fill="none" stroke="#000" stroke-width="1.1" stroke-linejoin="round"/>
<path d="M694.68 181.03 L696.84 178.87" fill="none" stroke="#000" stroke-width="1.1" stroke-linejoin="round"/>
<path d="M547.08 32.36 L549.24 30.8" fill="none" stroke="#000" stroke-width="1.15" stroke-dasharray="1.2 1.2"/>
<path d="M563.64 30.8 L565.8 35.49 L567.61 30.8" fill="none" stroke="#000" stroke-width="1.15" stroke-dasharray="1.2 1.2"/>
<path d="M694.03 30.8 L696.84 33.61" fill="none" stroke="#000" stroke-width="1.15" stroke-dasharray="1.2 1.2"/>
<path d="M626.12 143.47 L626.64 134.09 L631.32 133.46 L640.68 128.45 L647.88 124.69 L650.04 123.89 L658.6 115.31 L659.4 110.61 L664.08 115.31 L668.76 117.47 L675.96 124.69 L678.12 126.86 L687.48 129.39 L689.64 124.69 L687.48 122.53 L680.28 115.31 L678.12 112.49 L668.76 110.61 L664.08 105.91 L659.4 103.75 L650.04 97.33 L645.36 96.53 L640.68 94.96 L632.88 87.14 L638.52 77.75 L631.32 73.57 L623.77 68.36 L624.77 58.97 L624.77 49.58 L621.96 47.76 L612.6 47.76 L611.04 49.58 L610.44 58.97 L611.04 68.36 L604.41 77.75 L605.58 87.14 L603.24 93.71 L601.23 96.53 L593.88 103.9 L591.72 105.91 L584.52 110.61 L577.32 105.91 L575.16 103.1 L573.6 105.91 L568.14 115.31 L575.16 121.67 L584.52 119.06 L593.88 117.47 L598.56 124.69 L603.24 129.39 L606.26 134.09 L611.45 143.47 L612.6 148.17 L621.96 148.17 L626.12 143.47Z" fill="none" stroke="#000" stroke-width="1.15" stroke-dasharray="1.2 1.2"/>
<path d="M547.08 70.52 L556.44 73.05 L565.8 69.92 L567.96 68.36 L565.8 66.54 L556.44 66.19 L547.08 66.79" fill="none" stroke="#000" stroke-width="1.15" stroke-dasharray="1.2 1.2"/>
<path d="M696.84 66.34 L692.16 68.36 L696.84 70.52" fill="none" stroke="#000" stroke-width="1.15" stroke-dasharray="1.2 1.2"/>
<path d="M558.6 134.09 L556.44 131.92 L551.76 134.09 L556.44 136.25 L558.6 134.09Z" fill="none" stroke="#000" stroke-width="1.15" stroke-dasharray="1.2 1.2"/>
<path d="M558.6 162.25 L556.44 160.09 L553.63 162.25 L556.44 164.42 L558.6 162.25Z" fill="none" stroke="#000" stroke-width="1.15" stroke-dasharray="1.2 1.2"/>
<path d="M636.83 171.65 L631.32 164.42 L626.64 162.25 L621.96 160.09 L619.8 162.25 L612.6 169.48 L610.44 171.65 L612.6 173.81 L617.28 171.65 L621.96 166.95 L624.12 171.65 L631.32 176.34 L636.83 171.65Z" fill="none" stroke="#000" stroke-width="1.15" stroke-dasharray="1.2 1.2"/>
<path d="M621.96 143.47 L618.32 134.09 L621.96 133.1 L631.32 131.37 L640.68 124.69 L650.04 121.21 L655.92 115.31 L657.14 105.91 L650.04 100.01 L640.68 98.21 L637.04 96.53 L631.32 90.79 L629.06 87.14 L631.32 77.75 L621.96 72.01 L612.6 72.01 L608.31 77.75 L608.92 87.14 L604.58 96.53 L603.24 98.21 L595.56 105.91 L595.56 115.31 L603.24 124.69 L609.28 134.09 L612.6 139.82 L621.96 143.47Z" fill="none" stroke="#000" stroke-width="1.15" stroke-dasharray="1.2 1.2"/>
<path d="M584.52 115.31 L575.16 109.57 L571.48 115.31 L575.16 118.64 L584.52 115.31Z" fill="none" stroke="#000" stroke-width="1.15" stroke-dasharray="1.2 1.2"/>
<path d="M634.83 124.69 L640.68 118.83 L650.04 115.84 L650.57 115.31 L650.69 105.91 L650.04 105.38 L640.68 103.03 L631.32 99.25 L628.6 96.53 L622.61 87.14 L621.96 85.43 L620.26 87.14 L612.6 89.86 L608.4 96.53 L603.24 103.03 L600.36 105.91 L600.36 115.31 L603.24 118.83 L607.7 124.69 L612.6 131.36 L621.96 130.3 L631.32 127.2 L634.83 124.69Z" fill="none" stroke="#000" stroke-width="1.15" stroke-dasharray="1.2 1.2"/>
<path d="M628.65 124.69 L631.32 117.18 L633.19 115.31 L633.19 105.91 L631.32 105.31 L622.56 96.53 L621.96 95.59 L612.6 95.92 L612.22 96.53 L605.91 105.91 L605.91 115.31 L612.15 124.69 L612.6 125.3 L621.96 127.5 L628.65 124.69Z" fill="none" stroke="#000" stroke-width="1.15" stroke-dasharray="1.2 1.2"/>
<path d="M626.51 115.31 L626.51 105.91 L621.96 101.35 L612.6 105.91 L612.6 115.31 L621.96 124.69 L626.51 115.31Z" fill="none" stroke="#000" stroke-width="1.15" stroke-dasharray="1.2 1.2"/>
</g>
<line x1="565.1" y1="188.6" x2="565.1" y2="182.3" stroke="#3a3a3a" stroke-width="1.4"/>
<line x1="565.1" y1="25.9" x2="565.1" y2="32.2" stroke="#3a3a3a" stroke-width="1.4"/>
<line x1="590.5" y1="188.6" x2="590.5" y2="182.3" stroke="#3a3a3a" stroke-width="1.4"/>
<line x1="590.5" y1="25.9" x2="590.5" y2="32.2" stroke="#3a3a3a" stroke-width="1.4"/>
<line x1="615.9" y1="188.6" x2="615.9" y2="182.3" stroke="#3a3a3a" stroke-width="1.4"/>
<line x1="615.9" y1="25.9" x2="615.9" y2="32.2" stroke="#3a3a3a" stroke-width="1.4"/>
<line x1="641.3" y1="188.6" x2="641.3" y2="182.3" stroke="#3a3a3a" stroke-width="1.4"/>
<line x1="641.3" y1="25.9" x2="641.3" y2="32.2" stroke="#3a3a3a" stroke-width="1.4"/>
<line x1="666.7" y1="188.6" x2="666.7" y2="182.3" stroke="#3a3a3a" stroke-width="1.4"/>
<line x1="666.7" y1="25.9" x2="666.7" y2="32.2" stroke="#3a3a3a" stroke-width="1.4"/>
<line x1="692.1" y1="188.6" x2="692.1" y2="182.3" stroke="#3a3a3a" stroke-width="1.4"/>
<line x1="692.1" y1="25.9" x2="692.1" y2="32.2" stroke="#3a3a3a" stroke-width="1.4"/>
<line x1="539.5" y1="36.2" x2="545.8" y2="36.2" stroke="#3a3a3a" stroke-width="1.4"/>
<line x1="702.4" y1="36.2" x2="696.1" y2="36.2" stroke="#3a3a3a" stroke-width="1.4"/>
<line x1="539.5" y1="61.6" x2="545.8" y2="61.6" stroke="#3a3a3a" stroke-width="1.4"/>
<line x1="702.4" y1="61.6" x2="696.1" y2="61.6" stroke="#3a3a3a" stroke-width="1.4"/>
<line x1="539.5" y1="87" x2="545.8" y2="87" stroke="#3a3a3a" stroke-width="1.4"/>
<line x1="702.4" y1="87" x2="696.1" y2="87" stroke="#3a3a3a" stroke-width="1.4"/>
<line x1="539.5" y1="112.4" x2="545.8" y2="112.4" stroke="#3a3a3a" stroke-width="1.4"/>
<line x1="702.4" y1="112.4" x2="696.1" y2="112.4" stroke="#3a3a3a" stroke-width="1.4"/>
<line x1="539.5" y1="137.8" x2="545.8" y2="137.8" stroke="#3a3a3a" stroke-width="1.4"/>
<line x1="702.4" y1="137.8" x2="696.1" y2="137.8" stroke="#3a3a3a" stroke-width="1.4"/>
<line x1="539.5" y1="163.2" x2="545.8" y2="163.2" stroke="#3a3a3a" stroke-width="1.4"/>
<line x1="702.4" y1="163.2" x2="696.1" y2="163.2" stroke="#3a3a3a" stroke-width="1.4"/>
<rect x="539.5" y="25.9" width="162.9" height="162.7" fill="none" stroke="#222" stroke-width="1.2"/>
<clipPath id="clip_creal"><rect x="63.6" y="271" width="162.6" height="166.2"/></clipPath>
<g clip-path="url(#clip_creal)">
<rect x="64.8" y="271.5" width="10.28" height="10.26" fill="#c0c0ff"/>
<rect x="74.48" y="271.5" width="10.28" height="10.26" fill="#ffe800"/>
<rect x="84.16" y="271.5" width="10.28" height="10.26" fill="#ffe800"/>
<rect x="93.84" y="271.5" width="10.28" height="10.26" fill="#c0c0ff"/>
<rect x="103.52" y="271.5" width="10.28" height="10.26" fill="#ffe800"/>
<rect x="122.88" y="271.5" width="10.28" height="10.26" fill="#dcdcff"/>
<rect x="142.24" y="271.5" width="10.28" height="10.26" fill="#ffd000"/>
<rect x="161.6" y="271.5" width="10.28" height="10.26" fill="#c0c0ff"/>
<rect x="171.28" y="271.5" width="10.28" height="10.26" fill="#fffbd6"/>
<rect x="180.96" y="271.5" width="10.28" height="10.26" fill="#ffe800"/>
<rect x="200.32" y="271.5" width="10.28" height="10.26" fill="#ffe800"/>
<rect x="210" y="271.5" width="10.28" height="10.26" fill="#c0c0ff"/>
<rect x="64.8" y="281.16" width="10.28" height="10.26" fill="#ffe800"/>
<rect x="74.48" y="281.16" width="10.28" height="10.26" fill="#ffd000"/>
<rect x="84.16" y="281.16" width="10.28" height="10.26" fill="#ffe800"/>
<rect x="93.84" y="281.16" width="10.28" height="10.26" fill="#ffb400"/>
<rect x="103.52" y="281.16" width="10.28" height="10.26" fill="#c0c0ff"/>
<rect x="113.2" y="281.16" width="10.28" height="10.26" fill="#c0c0ff"/>
<rect x="122.88" y="281.16" width="10.28" height="10.26" fill="#a0a0ff"/>
<rect x="142.24" y="281.16" width="10.28" height="10.26" fill="#ffd000"/>
<rect x="151.92" y="281.16" width="10.28" height="10.26" fill="#ffd000"/>
<rect x="161.6" y="281.16" width="10.28" height="10.26" fill="#ffe800"/>
<rect x="171.28" y="281.16" width="10.28" height="10.26" fill="#f1f1ff"/>
<rect x="180.96" y="281.16" width="10.28" height="10.26" fill="#fffbd6"/>
<rect x="190.64" y="281.16" width="10.28" height="10.26" fill="#ffe800"/>
<rect x="200.32" y="281.16" width="10.28" height="10.26" fill="#c0c0ff"/>
<rect x="210" y="281.16" width="10.28" height="10.26" fill="#c0c0ff"/>
<rect x="219.68" y="281.16" width="10.28" height="10.26" fill="#ffe800"/>
<rect x="74.48" y="290.82" width="10.28" height="10.26" fill="#a0a0ff"/>
<rect x="93.84" y="290.82" width="10.28" height="10.26" fill="#ffe800"/>
<rect x="103.52" y="290.82" width="10.28" height="10.26" fill="#c0c0ff"/>
<rect x="113.2" y="290.82" width="10.28" height="10.26" fill="#fffbd6"/>
<rect x="122.88" y="290.82" width="10.28" height="10.26" fill="#c0c0ff"/>
<rect x="132.56" y="290.82" width="10.28" height="10.26" fill="#c0c0ff"/>
<rect x="142.24" y="290.82" width="10.28" height="10.26" fill="#fff49a"/>
<rect x="151.92" y="290.82" width="10.28" height="10.26" fill="#ffe800"/>
<rect x="161.6" y="290.82" width="10.28" height="10.26" fill="#ffe800"/>
<rect x="171.28" y="290.82" width="10.28" height="10.26" fill="#ffb400"/>
<rect x="200.32" y="290.82" width="10.28" height="10.26" fill="#fffbd6"/>
<rect x="210" y="290.82" width="10.28" height="10.26" fill="#fffbd6"/>
<rect x="219.68" y="290.82" width="10.28" height="10.26" fill="#ffe800"/>
<rect x="64.8" y="300.48" width="10.28" height="10.26" fill="#dcdcff"/>
<rect x="84.16" y="300.48" width="10.28" height="10.26" fill="#c0c0ff"/>
<rect x="93.84" y="300.48" width="10.28" height="10.26" fill="#ffb400"/>
<rect x="103.52" y="300.48" width="10.28" height="10.26" fill="#c0c0ff"/>
<rect x="113.2" y="300.48" width="10.28" height="10.26" fill="#ffe800"/>
<rect x="122.88" y="300.48" width="10.28" height="10.26" fill="#a0a0ff"/>
<rect x="142.24" y="300.48" width="10.28" height="10.26" fill="#f1f1ff"/>
<rect x="151.92" y="300.48" width="10.28" height="10.26" fill="#ffd000"/>
<rect x="161.6" y="300.48" width="10.28" height="10.26" fill="#ffd000"/>
<rect x="171.28" y="300.48" width="10.28" height="10.26" fill="#fffbd6"/>
<rect x="180.96" y="300.48" width="10.28" height="10.26" fill="#ffb400"/>
<rect x="200.32" y="300.48" width="10.28" height="10.26" fill="#ffb400"/>
<rect x="210" y="300.48" width="10.28" height="10.26" fill="#dcdcff"/>
<rect x="219.68" y="300.48" width="10.28" height="10.26" fill="#ffb400"/>
<rect x="64.8" y="310.14" width="10.28" height="10.26" fill="#ffb400"/>
<rect x="74.48" y="310.14" width="10.28" height="10.26" fill="#c0c0ff"/>
<rect x="84.16" y="310.14" width="10.28" height="10.26" fill="#dcdcff"/>
<rect x="93.84" y="310.14" width="10.28" height="10.26" fill="#fffbd6"/>
<rect x="103.52" y="310.14" width="10.28" height="10.26" fill="#a0a0ff"/>
<rect x="113.2" y="310.14" width="10.28" height="10.26" fill="#c0c0ff"/>
<rect x="122.88" y="310.14" width="10.28" height="10.26" fill="#c0c0ff"/>
<rect x="132.56" y="310.14" width="10.28" height="10.26" fill="#c0c0ff"/>
<rect x="142.24" y="310.14" width="10.28" height="10.26" fill="#ffd000"/>
<rect x="151.92" y="310.14" width="10.28" height="10.26" fill="#ffb400"/>
<rect x="161.6" y="310.14" width="10.28" height="10.26" fill="#ff6e00"/>
<rect x="171.28" y="310.14" width="10.28" height="10.26" fill="#ffe800"/>
<rect x="190.64" y="310.14" width="10.28" height="10.26" fill="#ffe800"/>
<rect x="210" y="310.14" width="10.28" height="10.26" fill="#dcdcff"/>
<rect x="219.68" y="310.14" width="10.28" height="10.26" fill="#a0a0ff"/>
<rect x="64.8" y="319.8" width="10.28" height="10.26" fill="#ffb400"/>
<rect x="84.16" y="319.8" width="10.28" height="10.26" fill="#a0a0ff"/>
<rect x="103.52" y="319.8" width="10.28" height="10.26" fill="#c0c0ff"/>
<rect x="113.2" y="319.8" width="10.28" height="10.26" fill="#a0a0ff"/>
<rect x="132.56" y="319.8" width="10.28" height="10.26" fill="#c0c0ff"/>
<rect x="142.24" y="319.8" width="10.28" height="10.26" fill="#ff4200"/>
<rect x="151.92" y="319.8" width="10.28" height="10.26" fill="#ff9400"/>
<rect x="161.6" y="319.8" width="10.28" height="10.26" fill="#e40800"/>
<rect x="171.28" y="319.8" width="10.28" height="10.26" fill="#ffd000"/>
<rect x="190.64" y="319.8" width="10.28" height="10.26" fill="#ffd000"/>
<rect x="200.32" y="319.8" width="10.28" height="10.26" fill="#c0c0ff"/>
<rect x="219.68" y="319.8" width="10.28" height="10.26" fill="#ffe800"/>
<rect x="64.8" y="329.46" width="10.28" height="10.26" fill="#f1f1ff"/>
<rect x="74.48" y="329.46" width="10.28" height="10.26" fill="#ffe800"/>
<rect x="84.16" y="329.46" width="10.28" height="10.26" fill="#c0c0ff"/>
<rect x="93.84" y="329.46" width="10.28" height="10.26" fill="#dcdcff"/>
<rect x="103.52" y="329.46" width="10.28" height="10.26" fill="#c0c0ff"/>
<rect x="113.2" y="329.46" width="10.28" height="10.26" fill="#c0c0ff"/>
<rect x="122.88" y="329.46" width="10.28" height="10.26" fill="#dcdcff"/>
<rect x="132.56" y="329.46" width="10.28" height="10.26" fill="#ff6e00"/>
<rect x="142.24" y="329.46" width="10.28" height="10.26" fill="#e40800"/>
<rect x="151.92" y="329.46" width="10.28" height="10.26" fill="#e40800"/>
<rect x="161.6" y="329.46" width="10.28" height="10.26" fill="#ff4200"/>
<rect x="171.28" y="329.46" width="10.28" height="10.26" fill="#ff9400"/>
<rect x="180.96" y="329.46" width="10.28" height="10.26" fill="#ffe800"/>
<rect x="219.68" y="329.46" width="10.28" height="10.26" fill="#ffe800"/>
<rect x="64.8" y="339.12" width="10.28" height="10.26" fill="#dcdcff"/>
<rect x="74.48" y="339.12" width="10.28" height="10.26" fill="#ffe800"/>
<rect x="84.16" y="339.12" width="10.28" height="10.26" fill="#ffe800"/>
<rect x="93.84" y="339.12" width="10.28" height="10.26" fill="#dcdcff"/>
<rect x="103.52" y="339.12" width="10.28" height="10.26" fill="#c0c0ff"/>
<rect x="113.2" y="339.12" width="10.28" height="10.26" fill="#fffbd6"/>
<rect x="122.88" y="339.12" width="10.28" height="10.26" fill="#ff9400"/>
<rect x="132.56" y="339.12" width="10.28" height="10.26" fill="#e40800"/>
<rect x="142.24" y="339.12" width="10.28" height="10.26" fill="#aa0000"/>
<rect x="151.92" y="339.12" width="10.28" height="10.26" fill="#e40800"/>
<rect x="161.6" y="339.12" width="10.28" height="10.26" fill="#e40800"/>
<rect x="171.28" y="339.12" width="10.28" height="10.26" fill="#ff9400"/>
<rect x="190.64" y="339.12" width="10.28" height="10.26" fill="#dcdcff"/>
<rect x="200.32" y="339.12" width="10.28" height="10.26" fill="#c0c0ff"/>
<rect x="219.68" y="339.12" width="10.28" height="10.26" fill="#ffe800"/>
<rect x="74.48" y="348.78" width="10.28" height="10.26" fill="#c0c0ff"/>
<rect x="93.84" y="348.78" width="10.28" height="10.26" fill="#c0c0ff"/>
<rect x="113.2" y="348.78" width="10.28" height="10.26" fill="#ff6e00"/>
<rect x="122.88" y="348.78" width="10.28" height="10.26" fill="#e40800"/>
<rect x="132.56" y="348.78" width="10.28" height="10.26" fill="#700000"/>
<rect x="142.24" y="348.78" width="10.28" height="10.26" fill="#e40800"/>
<rect x="151.92" y="348.78" width="10.28" height="10.26" fill="#e40800"/>
<rect x="161.6" y="348.78" width="10.28" height="10.26" fill="#ff6e00"/>
<rect x="171.28" y="348.78" width="10.28" height="10.26" fill="#ffb400"/>
<rect x="180.96" y="348.78" width="10.28" height="10.26" fill="#c0c0ff"/>
<rect x="200.32" y="348.78" width="10.28" height="10.26" fill="#ffe800"/>
<rect x="210" y="348.78" width="10.28" height="10.26" fill="#dcdcff"/>
<rect x="219.68" y="348.78" width="10.28" height="10.26" fill="#ffe800"/>
<rect x="93.84" y="358.44" width="10.28" height="10.26" fill="#dcdcff"/>
<rect x="103.52" y="358.44" width="10.28" height="10.26" fill="#ffe800"/>
<rect x="113.2" y="358.44" width="10.28" height="10.26" fill="#e40800"/>
<rect x="122.88" y="358.44" width="10.28" height="10.26" fill="#e40800"/>
<rect x="132.56" y="358.44" width="10.28" height="10.26" fill="#e40800"/>
<rect x="142.24" y="358.44" width="10.28" height="10.26" fill="#e40800"/>
<rect x="151.92" y="358.44" width="10.28" height="10.26" fill="#ff9400"/>
<rect x="161.6" y="358.44" width="10.28" height="10.26" fill="#dcdcff"/>
<rect x="171.28" y="358.44" width="10.28" height="10.26" fill="#a0a0ff"/>
<rect x="180.96" y="358.44" width="10.28" height="10.26" fill="#c0c0ff"/>
<rect x="200.32" y="358.44" width="10.28" height="10.26" fill="#ffe800"/>
<rect x="219.68" y="358.44" width="10.28" height="10.26" fill="#c0c0ff"/>
<rect x="64.8" y="368.1" width="10.28" height="10.26" fill="#c0c0ff"/>
<rect x="74.48" y="368.1" width="10.28" height="10.26" fill="#ff9400"/>
<rect x="93.84" y="368.1" width="10.28" height="10.26" fill="#ffd000"/>
<rect x="103.52" y="368.1" width="10.28" height="10.26" fill="#ffe800"/>
<rect x="113.2" y="368.1" width="10.28" height="10.26" fill="#ff6e00"/>
<rect x="122.88" y="368.1" width="10.28" height="10.26" fill="#aa0000"/>
<rect x="132.56" y="368.1" width="10.28" height="10.26" fill="#ff9400"/>
<rect x="142.24" y="368.1" width="10.28" height="10.26" fill="#ff9400"/>
<rect x="151.92" y="368.1" width="10.28" height="10.26" fill="#fff49a"/>
<rect x="161.6" y="368.1" width="10.28" height="10.26" fill="#c0c0ff"/>
<rect x="180.96" y="368.1" width="10.28" height="10.26" fill="#dcdcff"/>
<rect x="219.68" y="368.1" width="10.28" height="10.26" fill="#ffe800"/>
<rect x="64.8" y="377.76" width="10.28" height="10.26" fill="#ffe800"/>
<rect x="74.48" y="377.76" width="10.28" height="10.26" fill="#ffe800"/>
<rect x="84.16" y="377.76" width="10.28" height="10.26" fill="#ffd000"/>
<rect x="93.84" y="377.76" width="10.28" height="10.26" fill="#fff49a"/>
<rect x="103.52" y="377.76" width="10.28" height="10.26" fill="#ffd000"/>
<rect x="113.2" y="377.76" width="10.28" height="10.26" fill="#ff4200"/>
<rect x="122.88" y="377.76" width="10.28" height="10.26" fill="#ff4200"/>
<rect x="132.56" y="377.76" width="10.28" height="10.26" fill="#ff6e00"/>
<rect x="142.24" y="377.76" width="10.28" height="10.26" fill="#c0c0ff"/>
<rect x="161.6" y="377.76" width="10.28" height="10.26" fill="#6a6aff"/>
<rect x="171.28" y="377.76" width="10.28" height="10.26" fill="#c0c0ff"/>
<rect x="180.96" y="377.76" width="10.28" height="10.26" fill="#dcdcff"/>
<rect x="190.64" y="377.76" width="10.28" height="10.26" fill="#c0c0ff"/>
<rect x="200.32" y="377.76" width="10.28" height="10.26" fill="#fff49a"/>
<rect x="219.68" y="377.76" width="10.28" height="10.26" fill="#a0a0ff"/>
<rect x="93.84" y="387.42" width="10.28" height="10.26" fill="#ffb400"/>
<rect x="103.52" y="387.42" width="10.28" height="10.26" fill="#ff9400"/>
<rect x="113.2" y="387.42" width="10.28" height="10.26" fill="#ff6e00"/>
<rect x="122.88" y="387.42" width="10.28" height="10.26" fill="#fff49a"/>
<rect x="132.56" y="387.42" width="10.28" height="10.26" fill="#ffe800"/>
<rect x="142.24" y="387.42" width="10.28" height="10.26" fill="#c0c0ff"/>
<rect x="161.6" y="387.42" width="10.28" height="10.26" fill="#a0a0ff"/>
<rect x="171.28" y="387.42" width="10.28" height="10.26" fill="#c0c0ff"/>
<rect x="180.96" y="387.42" width="10.28" height="10.26" fill="#c0c0ff"/>
<rect x="190.64" y="387.42" width="10.28" height="10.26" fill="#ffb400"/>
<rect x="210" y="387.42" width="10.28" height="10.26" fill="#c0c0ff"/>
<rect x="219.68" y="387.42" width="10.28" height="10.26" fill="#f1f1ff"/>
<rect x="64.8" y="397.08" width="10.28" height="10.26" fill="#c0c0ff"/>
<rect x="74.48" y="397.08" width="10.28" height="10.26" fill="#dcdcff"/>
<rect x="84.16" y="397.08" width="10.28" height="10.26" fill="#a0a0ff"/>
<rect x="93.84" y="397.08" width="10.28" height="10.26" fill="#ff9400"/>
<rect x="103.52" y="397.08" width="10.28" height="10.26" fill="#fff49a"/>
<rect x="113.2" y="397.08" width="10.28" height="10.26" fill="#ffb400"/>
<rect x="122.88" y="397.08" width="10.28" height="10.26" fill="#ffb400"/>
<rect x="132.56" y="397.08" width="10.28" height="10.26" fill="#ffe800"/>
<rect x="142.24" y="397.08" width="10.28" height="10.26" fill="#c0c0ff"/>
<rect x="151.92" y="397.08" width="10.28" height="10.26" fill="#c0c0ff"/>
<rect x="161.6" y="397.08" width="10.28" height="10.26" fill="#c0c0ff"/>
<rect x="171.28" y="397.08" width="10.28" height="10.26" fill="#fffbd6"/>
<rect x="180.96" y="397.08" width="10.28" height="10.26" fill="#c0c0ff"/>
<rect x="200.32" y="397.08" width="10.28" height="10.26" fill="#ffd000"/>
<rect x="219.68" y="397.08" width="10.28" height="10.26" fill="#ffe800"/>
<rect x="64.8" y="406.74" width="10.28" height="10.26" fill="#ffe800"/>
<rect x="74.48" y="406.74" width="10.28" height="10.26" fill="#fff49a"/>
<rect x="93.84" y="406.74" width="10.28" height="10.26" fill="#fffbd6"/>
<rect x="122.88" y="406.74" width="10.28" height="10.26" fill="#ffb400"/>
<rect x="132.56" y="406.74" width="10.28" height="10.26" fill="#fff49a"/>
<rect x="151.92" y="406.74" width="10.28" height="10.26" fill="#f1f1ff"/>
<rect x="200.32" y="406.74" width="10.28" height="10.26" fill="#a0a0ff"/>
<rect x="74.48" y="416.4" width="10.28" height="10.26" fill="#fffbd6"/>
<rect x="84.16" y="416.4" width="10.28" height="10.26" fill="#ffd000"/>
<rect x="103.52" y="416.4" width="10.28" height="10.26" fill="#ffe800"/>
<rect x="113.2" y="416.4" width="10.28" height="10.26" fill="#ffe800"/>
<rect x="122.88" y="416.4" width="10.28" height="10.26" fill="#ffb400"/>
<rect x="132.56" y="416.4" width="10.28" height="10.26" fill="#fff49a"/>
<rect x="142.24" y="416.4" width="10.28" height="10.26" fill="#ffe800"/>
<rect x="151.92" y="416.4" width="10.28" height="10.26" fill="#c0c0ff"/>
<rect x="171.28" y="416.4" width="10.28" height="10.26" fill="#c0c0ff"/>
<rect x="180.96" y="416.4" width="10.28" height="10.26" fill="#c0c0ff"/>
<rect x="190.64" y="416.4" width="10.28" height="10.26" fill="#c0c0ff"/>
<rect x="200.32" y="416.4" width="10.28" height="10.26" fill="#ffd000"/>
<rect x="210" y="416.4" width="10.28" height="10.26" fill="#dcdcff"/>
<rect x="219.68" y="416.4" width="10.28" height="10.26" fill="#f1f1ff"/>
<rect x="64.8" y="426.06" width="10.28" height="10.26" fill="#dcdcff"/>
<rect x="74.48" y="426.06" width="10.28" height="10.26" fill="#dcdcff"/>
<rect x="93.84" y="426.06" width="10.28" height="10.26" fill="#ffb400"/>
<rect x="103.52" y="426.06" width="10.28" height="10.26" fill="#dcdcff"/>
<rect x="113.2" y="426.06" width="10.28" height="10.26" fill="#c0c0ff"/>
<rect x="132.56" y="426.06" width="10.28" height="10.26" fill="#dcdcff"/>
<rect x="151.92" y="426.06" width="10.28" height="10.26" fill="#fffbd6"/>
<rect x="161.6" y="426.06" width="10.28" height="10.26" fill="#c0c0ff"/>
<rect x="171.28" y="426.06" width="10.28" height="10.26" fill="#ffe800"/>
<rect x="190.64" y="426.06" width="10.28" height="10.26" fill="#ffe800"/>
<rect x="200.32" y="426.06" width="10.28" height="10.26" fill="#fffbd6"/>
<rect x="210" y="426.06" width="10.28" height="10.26" fill="#f1f1ff"/>
<rect x="219.68" y="426.06" width="10.28" height="10.26" fill="#ffe800"/>
<path d="M79.32 286.45 L77.09 285.99 L79.32 283.76 L81.55 285.99 L79.32 286.45Z" fill="none" stroke="#000" stroke-width="1.1" stroke-linejoin="round"/>
<path d="M98.68 290.82 L93.84 285.99 L98.68 284.26 L100.41 285.99 L98.68 290.82Z" fill="none" stroke="#000" stroke-width="1.1" stroke-linejoin="round"/>
<path d="M148.34 276.33 L156.76 284.73 L158.99 285.99 L156.76 288.22 L147.08 287.6 L145.82 285.99 L145.82 276.33" fill="none" stroke="#000" stroke-width="1.1" stroke-linejoin="round"/>
<path d="M176.12 299.1 L171.28 295.65 L176.12 292.97 L179.35 295.65 L176.12 299.1Z" fill="none" stroke="#000" stroke-width="1.1" stroke-linejoin="round"/>
<path d="M98.68 308.76 L96.95 305.31 L98.68 300.48 L100.41 305.31 L98.68 308.76Z" fill="none" stroke="#000" stroke-width="1.1" stroke-linejoin="round"/>
<path d="M127.72 424.45 L122.88 421.23 L124.49 411.57 L118.04 405.13 L114.17 401.91 L108.36 397.77 L104.21 401.91 L98.68 406.99 L96.26 401.91 L95.45 392.25 L98.68 388.39 L106.75 382.59 L108.36 380.36 L110.56 372.93 L109.44 363.27 L111.95 353.61 L118.04 347.29 L122.63 343.95 L127.72 340.37 L132.56 334.29 L137.4 330.18 L141.94 324.63 L146.49 314.97 L147.08 313.97 L155.76 305.31 L156.76 303.08 L166.44 303.08 L167.82 305.31 L173.92 314.97 L176.12 322.4 L177.38 324.63 L182.57 334.29 L180.96 343.95 L177.85 353.61 L176.12 354.99 L166.44 358.44 L160.35 363.27 L156.76 368.79 L152.61 372.93 L147.08 375.86 L141.51 382.59 L137.4 390.05 L127.72 390.09 L124.76 392.25 L127.72 398.05 L132.56 401.91 L131.59 411.57 L131.59 421.23 L127.72 424.45Z" fill="none" stroke="#000" stroke-width="1.1" stroke-linejoin="round"/>
<path d="M185.8 308.53 L182.34 305.31 L185.8 302.09 L189.03 305.31 L185.8 308.53Z" fill="none" stroke="#000" stroke-width="1.1" stroke-linejoin="round"/>
<path d="M205.16 308.53 L201.93 305.31 L205.16 301.86 L207.36 305.31 L205.16 308.53Z" fill="none" stroke="#000" stroke-width="1.1" stroke-linejoin="round"/>
<path d="M224.52 306.69 L222.32 305.31 L224.52 300.48" fill="none" stroke="#000" stroke-width="1.1" stroke-linejoin="round"/>
<path d="M69.64 312.77 L71.37 314.97 L72.87 324.63 L69.64 327.31" fill="none" stroke="#000" stroke-width="1.1" stroke-linejoin="round"/>
<path d="M195.48 325.89 L194.22 324.63 L195.48 322.4 L196.07 324.63 L195.48 325.89Z" fill="none" stroke="#000" stroke-width="1.1" stroke-linejoin="round"/>
<path d="M79.32 379.37 L76.39 372.93 L79.32 368.1 L84.16 372.93 L79.32 379.37Z" fill="none" stroke="#000" stroke-width="1.1" stroke-linejoin="round"/>
<path d="M98.68 374.54 L97.42 372.93 L98.68 372.15 L100.91 372.93 L98.68 374.54Z" fill="none" stroke="#000" stroke-width="1.1" stroke-linejoin="round"/>
<path d="M89 383.85 L86.77 382.59 L89 381.33 L90.61 382.59 L89 383.85Z" fill="none" stroke="#000" stroke-width="1.1" stroke-linejoin="round"/>
<path d="M195.48 395.47 L193.75 392.25 L195.48 390.52 L198.71 392.25 L195.48 395.47Z" fill="none" stroke="#000" stroke-width="1.1" stroke-linejoin="round"/>
<path d="M205.16 402.37 L203.9 401.91 L205.16 400.65 L206.42 401.91 L205.16 402.37Z" fill="none" stroke="#000" stroke-width="1.1" stroke-linejoin="round"/>
<path d="M89 422.49 L87.62 421.23 L89 419.97 L90.26 421.23 L89 422.49Z" fill="none" stroke="#000" stroke-width="1.1" stroke-linejoin="round"/>
<path d="M205.16 422.61 L204.57 421.23 L205.16 420.77 L205.94 421.23 L205.16 422.61Z" fill="none" stroke="#000" stroke-width="1.1" stroke-linejoin="round"/>
<path d="M95.45 430.89 L98.68 427.67 L100.88 430.89" fill="none" stroke="#000" stroke-width="1.1" stroke-linejoin="round"/>
<path d="M118.04 397.88 L108.36 392.25 L111.72 382.59 L114.96 372.93 L111.59 363.27 L115.53 353.61 L118.04 351.01 L127.72 343.95 L135.41 334.29 L137.4 332.6 L143.92 324.63 L147.08 318.32 L156.76 324.63 L160.79 314.97 L166.44 310.61 L169.52 314.97 L173.98 324.63 L176.12 334.29 L176.12 343.95 L172.09 353.61 L166.44 355.6 L156.76 363.27 L147.08 372.93 L137.4 372.93 L139.09 382.59 L137.4 385.66 L127.72 387.2 L120.81 392.25 L118.04 397.88Z" fill="none" stroke="#000" stroke-width="1.1" stroke-linejoin="round"/>
<path d="M166.44 331.53 L163.21 324.63 L166.44 320.43 L168.95 324.63 L166.44 331.53Z" fill="none" stroke="#000" stroke-width="1.1" stroke-linejoin="round"/>
<path d="M127.72 381.45 L120.97 372.93 L118.04 367.47 L115.89 363.27 L118.04 359.07 L123.51 353.61 L127.72 350.39 L134.17 343.95 L137.4 339.75 L142.87 334.29 L147.08 327.39 L156.76 331.07 L163.67 334.29 L166.44 337.05 L169.67 343.95 L166.44 348.15 L160.97 353.61 L156.76 356.83 L150.31 363.27 L147.08 366.49 L137.4 366.49 L133.53 372.93 L127.72 381.45Z" fill="none" stroke="#000" stroke-width="1.1" stroke-linejoin="round"/>
<path d="M147.08 348.78 L142.24 343.95 L147.08 339.12 L151.92 343.95 L147.08 348.78Z" fill="none" stroke="#000" stroke-width="1.1" stroke-linejoin="round"/>
<path d="M137.4 360.86 L130.14 353.61 L137.4 346.37 L144.66 353.61 L137.4 360.86Z" fill="none" stroke="#000" stroke-width="1.1" stroke-linejoin="round"/>
<path d="M127.72 375.77 L125.47 372.93 L127.72 368.1 L129.66 372.93 L127.72 375.77Z" fill="none" stroke="#000" stroke-width="1.1" stroke-linejoin="round"/>
<path d="M137.4 356.02 L134.98 353.61 L137.4 351.19 L139.82 353.61 L137.4 356.02Z" fill="none" stroke="#000" stroke-width="1.1" stroke-linejoin="round"/>
<path d="M69.64 277.94 L71.25 276.33" fill="none" stroke="#000" stroke-width="1.15" stroke-dasharray="1.2 1.2"/>
<path d="M97.07 276.33 L98.68 277.37 L107.32 285.99 L106.75 295.65 L107.32 305.31 L103.75 314.97 L106.13 324.63 L103.52 334.29 L103.52 343.95 L98.68 348.78 L96.45 353.61 L98.68 358.44 L100.91 353.61 L108.36 346.18 L110.43 343.95 L118.04 336.36 L122.88 334.29 L122.88 324.63 L127.72 317.2 L135.17 324.63 L137.4 325.35 L137.99 324.63 L138.59 314.97 L137.4 312.74 L132.56 305.31 L137.4 297.88 L139.27 295.65 L137.4 293.42 L132.56 285.99 L127.72 278.56 L118.04 283.76 L108.36 284.38 L100.29 276.33" fill="none" stroke="#000" stroke-width="1.15" stroke-dasharray="1.2 1.2"/>
<path d="M164.21 276.33 L166.44 277.94 L168.51 276.33" fill="none" stroke="#000" stroke-width="1.15" stroke-dasharray="1.2 1.2"/>
<path d="M213.23 276.33 L205.16 284.38 L203.55 285.99 L205.16 288.06 L214.84 288.06 L216.45 285.99 L217.07 276.33" fill="none" stroke="#000" stroke-width="1.15" stroke-dasharray="1.2 1.2"/>
<path d="M93.84 334.29 L93.84 324.63 L89 317.2 L84.16 314.97 L89 310.14 L90.04 305.31 L89 303.08 L84.16 295.65 L79.32 292.58 L74.48 295.65 L79.32 300.48 L86.77 305.31 L79.32 312.74 L78.28 314.97 L79.32 317.2 L84.16 324.63 L87.39 334.29 L89 335.9 L93.84 334.29Z" fill="none" stroke="#000" stroke-width="1.15" stroke-dasharray="1.2 1.2"/>
<path d="M118.04 313.36 L109.97 305.31 L110.43 295.65 L118.04 288.06 L125.65 295.65 L123.85 305.31 L118.04 313.36Z" fill="none" stroke="#000" stroke-width="1.15" stroke-dasharray="1.2 1.2"/>
<path d="M224.52 312.21 L217.07 314.97 L224.52 318.83" fill="none" stroke="#000" stroke-width="1.15" stroke-dasharray="1.2 1.2"/>
<path d="M207.39 324.63 L205.16 322.4 L203.97 324.63 L205.16 326.86 L207.39 324.63Z" fill="none" stroke="#000" stroke-width="1.15" stroke-dasharray="1.2 1.2"/>
<path d="M207.39 343.95 L205.16 341.72 L200.32 343.95 L205.16 345.56 L207.39 343.95Z" fill="none" stroke="#000" stroke-width="1.15" stroke-dasharray="1.2 1.2"/>
<path d="M81.55 353.61 L79.32 352 L77.09 353.61 L79.32 355.84 L81.55 353.61Z" fill="none" stroke="#000" stroke-width="1.15" stroke-dasharray="1.2 1.2"/>
<path d="M188.03 401.91 L186.84 392.25 L195.48 383.62 L197.35 382.59 L195.48 380.36 L190.64 382.59 L185.8 387.42 L180.96 382.59 L176.12 380.36 L168.67 372.93 L176.12 368.1 L185.8 368.1 L188.03 363.27 L188.03 353.61 L185.8 351.38 L184.76 353.61 L176.12 360.51 L168.67 363.27 L166.44 368.1 L164.57 372.93 L159.88 382.59 L161.6 392.25 L156.76 399.68 L149.31 392.25 L149.31 382.59 L147.08 381.71 L146.35 382.59 L145.47 392.25 L145.47 401.91 L147.08 404.14 L156.76 404.81 L166.44 404.14 L168.51 401.91 L176.12 394.32 L183.73 401.91 L185.8 404.14 L188.03 401.91Z" fill="none" stroke="#000" stroke-width="1.15" stroke-dasharray="1.2 1.2"/>
<path d="M224.52 361.66 L222.29 363.27 L224.52 364.88" fill="none" stroke="#000" stroke-width="1.15" stroke-dasharray="1.2 1.2"/>
<path d="M69.64 374.54 L70.52 372.93 L69.64 370.7" fill="none" stroke="#000" stroke-width="1.15" stroke-dasharray="1.2 1.2"/>
<path d="M224.52 378.73 L219.68 382.59 L214.84 390.02 L212.61 392.25 L214.84 394.48 L217.74 392.25 L224.52 388.27" fill="none" stroke="#000" stroke-width="1.15" stroke-dasharray="1.2 1.2"/>
<path d="M69.64 403.52 L74.48 401.91 L69.64 399.68" fill="none" stroke="#000" stroke-width="1.15" stroke-dasharray="1.2 1.2"/>
<path d="M91.42 401.91 L89 397.08 L81.55 401.91 L89 406.74 L91.42 401.91Z" fill="none" stroke="#000" stroke-width="1.15" stroke-dasharray="1.2 1.2"/>
<path d="M168.05 430.89 L176.12 422.84 L185.8 423.46 L195.48 422.84 L196.67 421.23 L205.16 414.64 L210 411.57 L205.16 408.5 L200.32 411.57 L195.48 419 L185.8 419 L176.12 419 L173.89 421.23 L166.44 428.66 L158.99 421.23 L156.76 418.33 L155.15 421.23 L156.76 423.3 L164.37 430.89" fill="none" stroke="#000" stroke-width="1.15" stroke-dasharray="1.2 1.2"/>
<path d="M120.27 430.89 L118.04 429.28 L113.2 430.89" fill="none" stroke="#000" stroke-width="1.15" stroke-dasharray="1.2 1.2"/>
<path d="M118.04 324.63 L108.36 314.97 L118.04 324.63Z" fill="none" stroke="#000" stroke-width="1.15" stroke-dasharray="1.2 1.2"/>
<path d="M172.36 382.59 L166.44 376.69 L163.01 382.59 L166.44 392.25 L172.36 382.59Z" fill="none" stroke="#000" stroke-width="1.15" stroke-dasharray="1.2 1.2"/>
</g>
<line x1="87" y1="437.2" x2="87" y2="430.9" stroke="#3a3a3a" stroke-width="1.4"/>
<line x1="87" y1="271" x2="87" y2="277.3" stroke="#3a3a3a" stroke-width="1.4"/>
<line x1="113" y1="437.2" x2="113" y2="430.9" stroke="#3a3a3a" stroke-width="1.4"/>
<line x1="113" y1="271" x2="113" y2="277.3" stroke="#3a3a3a" stroke-width="1.4"/>
<line x1="139" y1="437.2" x2="139" y2="430.9" stroke="#3a3a3a" stroke-width="1.4"/>
<line x1="139" y1="271" x2="139" y2="277.3" stroke="#3a3a3a" stroke-width="1.4"/>
<line x1="165" y1="437.2" x2="165" y2="430.9" stroke="#3a3a3a" stroke-width="1.4"/>
<line x1="165" y1="271" x2="165" y2="277.3" stroke="#3a3a3a" stroke-width="1.4"/>
<line x1="191.4" y1="437.2" x2="191.4" y2="430.9" stroke="#3a3a3a" stroke-width="1.4"/>
<line x1="191.4" y1="271" x2="191.4" y2="277.3" stroke="#3a3a3a" stroke-width="1.4"/>
<line x1="217.4" y1="437.2" x2="217.4" y2="430.9" stroke="#3a3a3a" stroke-width="1.4"/>
<line x1="217.4" y1="271" x2="217.4" y2="277.3" stroke="#3a3a3a" stroke-width="1.4"/>
<line x1="63.6" y1="281.4" x2="69.9" y2="281.4" stroke="#3a3a3a" stroke-width="1.4"/>
<line x1="226.2" y1="281.4" x2="219.9" y2="281.4" stroke="#3a3a3a" stroke-width="1.4"/>
<line x1="63.6" y1="307.5" x2="69.9" y2="307.5" stroke="#3a3a3a" stroke-width="1.4"/>
<line x1="226.2" y1="307.5" x2="219.9" y2="307.5" stroke="#3a3a3a" stroke-width="1.4"/>
<line x1="63.6" y1="333.6" x2="69.9" y2="333.6" stroke="#3a3a3a" stroke-width="1.4"/>
<line x1="226.2" y1="333.6" x2="219.9" y2="333.6" stroke="#3a3a3a" stroke-width="1.4"/>
<line x1="63.6" y1="359.7" x2="69.9" y2="359.7" stroke="#3a3a3a" stroke-width="1.4"/>
<line x1="226.2" y1="359.7" x2="219.9" y2="359.7" stroke="#3a3a3a" stroke-width="1.4"/>
<line x1="63.6" y1="385.8" x2="69.9" y2="385.8" stroke="#3a3a3a" stroke-width="1.4"/>
<line x1="226.2" y1="385.8" x2="219.9" y2="385.8" stroke="#3a3a3a" stroke-width="1.4"/>
<line x1="63.6" y1="411.9" x2="69.9" y2="411.9" stroke="#3a3a3a" stroke-width="1.4"/>
<line x1="226.2" y1="411.9" x2="219.9" y2="411.9" stroke="#3a3a3a" stroke-width="1.4"/>
<rect x="63.6" y="271" width="162.6" height="166.2" fill="none" stroke="#222" stroke-width="1.2"/>
<clipPath id="clip_cimag"><rect x="234.3" y="270.9" width="163.2" height="166.9"/></clipPath>
<g clip-path="url(#clip_cimag)">
<rect x="234.6" y="271.1" width="10.44" height="10.4" fill="#dcdcff"/>
<rect x="244.44" y="271.1" width="10.44" height="10.4" fill="#a0a0ff"/>
<rect x="254.28" y="271.1" width="10.44" height="10.4" fill="#c0c0ff"/>
<rect x="264.12" y="271.1" width="10.44" height="10.4" fill="#fffbd6"/>
<rect x="273.96" y="271.1" width="10.44" height="10.4" fill="#ffe800"/>
<rect x="283.8" y="271.1" width="10.44" height="10.4" fill="#dcdcff"/>
<rect x="293.64" y="271.1" width="10.44" height="10.4" fill="#dcdcff"/>
<rect x="303.48" y="271.1" width="10.44" height="10.4" fill="#ffe800"/>
<rect x="313.32" y="271.1" width="10.44" height="10.4" fill="#ffe800"/>
<rect x="342.84" y="271.1" width="10.44" height="10.4" fill="#a0a0ff"/>
<rect x="352.68" y="271.1" width="10.44" height="10.4" fill="#c0c0ff"/>
<rect x="362.52" y="271.1" width="10.44" height="10.4" fill="#ff4200"/>
<rect x="372.36" y="271.1" width="10.44" height="10.4" fill="#fff49a"/>
<rect x="382.2" y="271.1" width="10.44" height="10.4" fill="#ffb400"/>
<rect x="392.04" y="271.1" width="10.44" height="10.4" fill="#c0c0ff"/>
<rect x="234.6" y="280.9" width="10.44" height="10.4" fill="#ffb400"/>
<rect x="244.44" y="280.9" width="10.44" height="10.4" fill="#fffbd6"/>
<rect x="254.28" y="280.9" width="10.44" height="10.4" fill="#dcdcff"/>
<rect x="264.12" y="280.9" width="10.44" height="10.4" fill="#c0c0ff"/>
<rect x="273.96" y="280.9" width="10.44" height="10.4" fill="#ffb400"/>
<rect x="313.32" y="280.9" width="10.44" height="10.4" fill="#dcdcff"/>
<rect x="323.16" y="280.9" width="10.44" height="10.4" fill="#ffb400"/>
<rect x="333" y="280.9" width="10.44" height="10.4" fill="#a0a0ff"/>
<rect x="352.68" y="280.9" width="10.44" height="10.4" fill="#6a6aff"/>
<rect x="362.52" y="280.9" width="10.44" height="10.4" fill="#ffb400"/>
<rect x="372.36" y="280.9" width="10.44" height="10.4" fill="#c0c0ff"/>
<rect x="382.2" y="280.9" width="10.44" height="10.4" fill="#fff49a"/>
<rect x="392.04" y="280.9" width="10.44" height="10.4" fill="#f1f1ff"/>
<rect x="234.6" y="290.7" width="10.44" height="10.4" fill="#c0c0ff"/>
<rect x="244.44" y="290.7" width="10.44" height="10.4" fill="#c0c0ff"/>
<rect x="254.28" y="290.7" width="10.44" height="10.4" fill="#ffd000"/>
<rect x="264.12" y="290.7" width="10.44" height="10.4" fill="#c0c0ff"/>
<rect x="273.96" y="290.7" width="10.44" height="10.4" fill="#ff6e00"/>
<rect x="283.8" y="290.7" width="10.44" height="10.4" fill="#a0a0ff"/>
<rect x="293.64" y="290.7" width="10.44" height="10.4" fill="#c0c0ff"/>
<rect x="303.48" y="290.7" width="10.44" height="10.4" fill="#6a6aff"/>
<rect x="313.32" y="290.7" width="10.44" height="10.4" fill="#a0a0ff"/>
<rect x="323.16" y="290.7" width="10.44" height="10.4" fill="#c0c0ff"/>
<rect x="342.84" y="290.7" width="10.44" height="10.4" fill="#c0c0ff"/>
<rect x="352.68" y="290.7" width="10.44" height="10.4" fill="#ffd000"/>
<rect x="372.36" y="290.7" width="10.44" height="10.4" fill="#fff49a"/>
<rect x="234.6" y="300.5" width="10.44" height="10.4" fill="#c0c0ff"/>
<rect x="254.28" y="300.5" width="10.44" height="10.4" fill="#ff6e00"/>
<rect x="283.8" y="300.5" width="10.44" height="10.4" fill="#6a6aff"/>
<rect x="293.64" y="300.5" width="10.44" height="10.4" fill="#a0a0ff"/>
<rect x="303.48" y="300.5" width="10.44" height="10.4" fill="#a0a0ff"/>
<rect x="313.32" y="300.5" width="10.44" height="10.4" fill="#1a1aff"/>
<rect x="323.16" y="300.5" width="10.44" height="10.4" fill="#a0a0ff"/>
<rect x="333" y="300.5" width="10.44" height="10.4" fill="#dcdcff"/>
<rect x="362.52" y="300.5" width="10.44" height="10.4" fill="#fff49a"/>
<rect x="382.2" y="300.5" width="10.44" height="10.4" fill="#6a6aff"/>
<rect x="244.44" y="310.3" width="10.44" height="10.4" fill="#c0c0ff"/>
<rect x="264.12" y="310.3" width="10.44" height="10.4" fill="#ffd000"/>
<rect x="273.96" y="310.3" width="10.44" height="10.4" fill="#c0c0ff"/>
<rect x="283.8" y="310.3" width="10.44" height="10.4" fill="#c0c0ff"/>
<rect x="293.64" y="310.3" width="10.44" height="10.4" fill="#1a1aff"/>
<rect x="303.48" y="310.3" width="10.44" height="10.4" fill="#0000ee"/>
<rect x="313.32" y="310.3" width="10.44" height="10.4" fill="#a0a0ff"/>
<rect x="323.16" y="310.3" width="10.44" height="10.4" fill="#c0c0ff"/>
<rect x="333" y="310.3" width="10.44" height="10.4" fill="#c0c0ff"/>
<rect x="342.84" y="310.3" width="10.44" height="10.4" fill="#ffb400"/>
<rect x="352.68" y="310.3" width="10.44" height="10.4" fill="#ffd000"/>
<rect x="362.52" y="310.3" width="10.44" height="10.4" fill="#ff9400"/>
<rect x="382.2" y="310.3" width="10.44" height="10.4" fill="#fffbd6"/>
<rect x="392.04" y="310.3" width="10.44" height="10.4" fill="#ffe800"/>
<rect x="234.6" y="320.1" width="10.44" height="10.4" fill="#ffe800"/>
<rect x="244.44" y="320.1" width="10.44" height="10.4" fill="#c0c0ff"/>
<rect x="254.28" y="320.1" width="10.44" height="10.4" fill="#ffb400"/>
<rect x="264.12" y="320.1" width="10.44" height="10.4" fill="#ffb400"/>
<rect x="273.96" y="320.1" width="10.44" height="10.4" fill="#6a6aff"/>
<rect x="283.8" y="320.1" width="10.44" height="10.4" fill="#0000ee"/>
<rect x="293.64" y="320.1" width="10.44" height="10.4" fill="#1a1aff"/>
<rect x="303.48" y="320.1" width="10.44" height="10.4" fill="#0000a0"/>
<rect x="313.32" y="320.1" width="10.44" height="10.4" fill="#a0a0ff"/>
<rect x="342.84" y="320.1" width="10.44" height="10.4" fill="#dcdcff"/>
<rect x="352.68" y="320.1" width="10.44" height="10.4" fill="#ffb400"/>
<rect x="362.52" y="320.1" width="10.44" height="10.4" fill="#a0a0ff"/>
<rect x="372.36" y="320.1" width="10.44" height="10.4" fill="#fffbd6"/>
<rect x="392.04" y="320.1" width="10.44" height="10.4" fill="#dcdcff"/>
<rect x="234.6" y="329.9" width="10.44" height="10.4" fill="#ffe800"/>
<rect x="254.28" y="329.9" width="10.44" height="10.4" fill="#c0c0ff"/>
<rect x="264.12" y="329.9" width="10.44" height="10.4" fill="#c0c0ff"/>
<rect x="273.96" y="329.9" width="10.44" height="10.4" fill="#1a1aff"/>
<rect x="283.8" y="329.9" width="10.44" height="10.4" fill="#0000ee"/>
<rect x="293.64" y="329.9" width="10.44" height="10.4" fill="#0000a0"/>
<rect x="303.48" y="329.9" width="10.44" height="10.4" fill="#0000ee"/>
<rect x="313.32" y="329.9" width="10.44" height="10.4" fill="#c0c0ff"/>
<rect x="323.16" y="329.9" width="10.44" height="10.4" fill="#c0c0ff"/>
<rect x="333" y="329.9" width="10.44" height="10.4" fill="#ffb400"/>
<rect x="342.84" y="329.9" width="10.44" height="10.4" fill="#ff9400"/>
<rect x="352.68" y="329.9" width="10.44" height="10.4" fill="#ffe800"/>
<rect x="362.52" y="329.9" width="10.44" height="10.4" fill="#ffd000"/>
<rect x="372.36" y="329.9" width="10.44" height="10.4" fill="#c0c0ff"/>
<rect x="382.2" y="329.9" width="10.44" height="10.4" fill="#ffe800"/>
<rect x="392.04" y="329.9" width="10.44" height="10.4" fill="#f1f1ff"/>
<rect x="234.6" y="339.7" width="10.44" height="10.4" fill="#ffe800"/>
<rect x="244.44" y="339.7" width="10.44" height="10.4" fill="#dcdcff"/>
<rect x="254.28" y="339.7" width="10.44" height="10.4" fill="#a0a0ff"/>
<rect x="264.12" y="339.7" width="10.44" height="10.4" fill="#a0a0ff"/>
<rect x="273.96" y="339.7" width="10.44" height="10.4" fill="#c0c0ff"/>
<rect x="283.8" y="339.7" width="10.44" height="10.4" fill="#0000a0"/>
<rect x="293.64" y="339.7" width="10.44" height="10.4" fill="#0000a0"/>
<rect x="303.48" y="339.7" width="10.44" height="10.4" fill="#0000ee"/>
<rect x="313.32" y="339.7" width="10.44" height="10.4" fill="#c0c0ff"/>
<rect x="323.16" y="339.7" width="10.44" height="10.4" fill="#ff4200"/>
<rect x="333" y="339.7" width="10.44" height="10.4" fill="#e40800"/>
<rect x="342.84" y="339.7" width="10.44" height="10.4" fill="#ffd000"/>
<rect x="352.68" y="339.7" width="10.44" height="10.4" fill="#ff9400"/>
<rect x="362.52" y="339.7" width="10.44" height="10.4" fill="#ffb400"/>
<rect x="372.36" y="339.7" width="10.44" height="10.4" fill="#ffe800"/>
<rect x="382.2" y="339.7" width="10.44" height="10.4" fill="#c0c0ff"/>
<rect x="234.6" y="349.5" width="10.44" height="10.4" fill="#ffe800"/>
<rect x="244.44" y="349.5" width="10.44" height="10.4" fill="#6a6aff"/>
<rect x="254.28" y="349.5" width="10.44" height="10.4" fill="#a0a0ff"/>
<rect x="264.12" y="349.5" width="10.44" height="10.4" fill="#4040ff"/>
<rect x="273.96" y="349.5" width="10.44" height="10.4" fill="#4040ff"/>
<rect x="283.8" y="349.5" width="10.44" height="10.4" fill="#0000a0"/>
<rect x="293.64" y="349.5" width="10.44" height="10.4" fill="#0000a0"/>
<rect x="303.48" y="349.5" width="10.44" height="10.4" fill="#4040ff"/>
<rect x="313.32" y="349.5" width="10.44" height="10.4" fill="#e40800"/>
<rect x="323.16" y="349.5" width="10.44" height="10.4" fill="#e40800"/>
<rect x="333" y="349.5" width="10.44" height="10.4" fill="#aa0000"/>
<rect x="342.84" y="349.5" width="10.44" height="10.4" fill="#ff4200"/>
<rect x="352.68" y="349.5" width="10.44" height="10.4" fill="#ff9400"/>
<rect x="362.52" y="349.5" width="10.44" height="10.4" fill="#ffe800"/>
<rect x="382.2" y="349.5" width="10.44" height="10.4" fill="#ffe800"/>
<rect x="392.04" y="349.5" width="10.44" height="10.4" fill="#ffd000"/>
<rect x="234.6" y="359.3" width="10.44" height="10.4" fill="#ffe800"/>
<rect x="244.44" y="359.3" width="10.44" height="10.4" fill="#6a6aff"/>
<rect x="254.28" y="359.3" width="10.44" height="10.4" fill="#dcdcff"/>
<rect x="264.12" y="359.3" width="10.44" height="10.4" fill="#c0c0ff"/>
<rect x="273.96" y="359.3" width="10.44" height="10.4" fill="#6a6aff"/>
<rect x="283.8" y="359.3" width="10.44" height="10.4" fill="#a0a0ff"/>
<rect x="293.64" y="359.3" width="10.44" height="10.4" fill="#0000ee"/>
<rect x="303.48" y="359.3" width="10.44" height="10.4" fill="#ffd000"/>
<rect x="313.32" y="359.3" width="10.44" height="10.4" fill="#aa0000"/>
<rect x="323.16" y="359.3" width="10.44" height="10.4" fill="#aa0000"/>
<rect x="333" y="359.3" width="10.44" height="10.4" fill="#e40800"/>
<rect x="342.84" y="359.3" width="10.44" height="10.4" fill="#ff6e00"/>
<rect x="352.68" y="359.3" width="10.44" height="10.4" fill="#ffe800"/>
<rect x="362.52" y="359.3" width="10.44" height="10.4" fill="#ffd000"/>
<rect x="372.36" y="359.3" width="10.44" height="10.4" fill="#ffe800"/>
<rect x="382.2" y="359.3" width="10.44" height="10.4" fill="#ffd000"/>
<rect x="392.04" y="359.3" width="10.44" height="10.4" fill="#dcdcff"/>
<rect x="234.6" y="369.1" width="10.44" height="10.4" fill="#dcdcff"/>
<rect x="244.44" y="369.1" width="10.44" height="10.4" fill="#dcdcff"/>
<rect x="254.28" y="369.1" width="10.44" height="10.4" fill="#ffe800"/>
<rect x="273.96" y="369.1" width="10.44" height="10.4" fill="#c0c0ff"/>
<rect x="283.8" y="369.1" width="10.44" height="10.4" fill="#c0c0ff"/>
<rect x="293.64" y="369.1" width="10.44" height="10.4" fill="#c0c0ff"/>
<rect x="303.48" y="369.1" width="10.44" height="10.4" fill="#ff9400"/>
<rect x="313.32" y="369.1" width="10.44" height="10.4" fill="#700000"/>
<rect x="323.16" y="369.1" width="10.44" height="10.4" fill="#e40800"/>
<rect x="333" y="369.1" width="10.44" height="10.4" fill="#e40800"/>
<rect x="342.84" y="369.1" width="10.44" height="10.4" fill="#ffd000"/>
<rect x="362.52" y="369.1" width="10.44" height="10.4" fill="#dcdcff"/>
<rect x="372.36" y="369.1" width="10.44" height="10.4" fill="#c0c0ff"/>
<rect x="382.2" y="369.1" width="10.44" height="10.4" fill="#ffd000"/>
<rect x="392.04" y="369.1" width="10.44" height="10.4" fill="#ffe800"/>
<rect x="234.6" y="378.9" width="10.44" height="10.4" fill="#ffe800"/>
<rect x="244.44" y="378.9" width="10.44" height="10.4" fill="#ffd000"/>
<rect x="254.28" y="378.9" width="10.44" height="10.4" fill="#ffb400"/>
<rect x="264.12" y="378.9" width="10.44" height="10.4" fill="#1a1aff"/>
<rect x="273.96" y="378.9" width="10.44" height="10.4" fill="#ffd000"/>
<rect x="283.8" y="378.9" width="10.44" height="10.4" fill="#ffe800"/>
<rect x="293.64" y="378.9" width="10.44" height="10.4" fill="#ff9400"/>
<rect x="303.48" y="378.9" width="10.44" height="10.4" fill="#e40800"/>
<rect x="313.32" y="378.9" width="10.44" height="10.4" fill="#e40800"/>
<rect x="323.16" y="378.9" width="10.44" height="10.4" fill="#e40800"/>
<rect x="333" y="378.9" width="10.44" height="10.4" fill="#e40800"/>
<rect x="342.84" y="378.9" width="10.44" height="10.4" fill="#ffd000"/>
<rect x="352.68" y="378.9" width="10.44" height="10.4" fill="#ffb400"/>
<rect x="362.52" y="378.9" width="10.44" height="10.4" fill="#ffd000"/>
<rect x="372.36" y="378.9" width="10.44" height="10.4" fill="#c0c0ff"/>
<rect x="382.2" y="378.9" width="10.44" height="10.4" fill="#ffe800"/>
<rect x="392.04" y="378.9" width="10.44" height="10.4" fill="#f1f1ff"/>
<rect x="234.6" y="388.7" width="10.44" height="10.4" fill="#ffd000"/>
<rect x="244.44" y="388.7" width="10.44" height="10.4" fill="#f1f1ff"/>
<rect x="254.28" y="388.7" width="10.44" height="10.4" fill="#a0a0ff"/>
<rect x="264.12" y="388.7" width="10.44" height="10.4" fill="#dcdcff"/>
<rect x="273.96" y="388.7" width="10.44" height="10.4" fill="#c0c0ff"/>
<rect x="283.8" y="388.7" width="10.44" height="10.4" fill="#c0c0ff"/>
<rect x="293.64" y="388.7" width="10.44" height="10.4" fill="#e40800"/>
<rect x="303.48" y="388.7" width="10.44" height="10.4" fill="#ff4200"/>
<rect x="313.32" y="388.7" width="10.44" height="10.4" fill="#e40800"/>
<rect x="323.16" y="388.7" width="10.44" height="10.4" fill="#ff9400"/>
<rect x="333" y="388.7" width="10.44" height="10.4" fill="#ffe800"/>
<rect x="342.84" y="388.7" width="10.44" height="10.4" fill="#ffe800"/>
<rect x="352.68" y="388.7" width="10.44" height="10.4" fill="#c0c0ff"/>
<rect x="362.52" y="388.7" width="10.44" height="10.4" fill="#c0c0ff"/>
<rect x="372.36" y="388.7" width="10.44" height="10.4" fill="#c0c0ff"/>
<rect x="382.2" y="388.7" width="10.44" height="10.4" fill="#fff49a"/>
<rect x="392.04" y="388.7" width="10.44" height="10.4" fill="#c0c0ff"/>
<rect x="234.6" y="398.5" width="10.44" height="10.4" fill="#c0c0ff"/>
<rect x="244.44" y="398.5" width="10.44" height="10.4" fill="#ffd000"/>
<rect x="264.12" y="398.5" width="10.44" height="10.4" fill="#c0c0ff"/>
<rect x="293.64" y="398.5" width="10.44" height="10.4" fill="#ff6e00"/>
<rect x="303.48" y="398.5" width="10.44" height="10.4" fill="#ff6e00"/>
<rect x="313.32" y="398.5" width="10.44" height="10.4" fill="#ff9400"/>
<rect x="323.16" y="398.5" width="10.44" height="10.4" fill="#ffb400"/>
<rect x="342.84" y="398.5" width="10.44" height="10.4" fill="#a0a0ff"/>
<rect x="352.68" y="398.5" width="10.44" height="10.4" fill="#fffbd6"/>
<rect x="362.52" y="398.5" width="10.44" height="10.4" fill="#ffb400"/>
<rect x="372.36" y="398.5" width="10.44" height="10.4" fill="#ffe800"/>
<rect x="392.04" y="398.5" width="10.44" height="10.4" fill="#fff49a"/>
<rect x="234.6" y="408.3" width="10.44" height="10.4" fill="#ffd000"/>
<rect x="254.28" y="408.3" width="10.44" height="10.4" fill="#f1f1ff"/>
<rect x="264.12" y="408.3" width="10.44" height="10.4" fill="#c0c0ff"/>
<rect x="273.96" y="408.3" width="10.44" height="10.4" fill="#c0c0ff"/>
<rect x="283.8" y="408.3" width="10.44" height="10.4" fill="#ffb400"/>
<rect x="293.64" y="408.3" width="10.44" height="10.4" fill="#fff49a"/>
<rect x="303.48" y="408.3" width="10.44" height="10.4" fill="#ffd000"/>
<rect x="313.32" y="408.3" width="10.44" height="10.4" fill="#ffe800"/>
<rect x="323.16" y="408.3" width="10.44" height="10.4" fill="#ffb400"/>
<rect x="342.84" y="408.3" width="10.44" height="10.4" fill="#ffd000"/>
<rect x="352.68" y="408.3" width="10.44" height="10.4" fill="#ffd000"/>
<rect x="372.36" y="408.3" width="10.44" height="10.4" fill="#c0c0ff"/>
<rect x="382.2" y="408.3" width="10.44" height="10.4" fill="#fff49a"/>
<rect x="392.04" y="408.3" width="10.44" height="10.4" fill="#ffe800"/>
<rect x="234.6" y="418.1" width="10.44" height="10.4" fill="#c0c0ff"/>
<rect x="244.44" y="418.1" width="10.44" height="10.4" fill="#c0c0ff"/>
<rect x="254.28" y="418.1" width="10.44" height="10.4" fill="#ffb400"/>
<rect x="264.12" y="418.1" width="10.44" height="10.4" fill="#6a6aff"/>
<rect x="273.96" y="418.1" width="10.44" height="10.4" fill="#ffe800"/>
<rect x="283.8" y="418.1" width="10.44" height="10.4" fill="#ffe800"/>
<rect x="303.48" y="418.1" width="10.44" height="10.4" fill="#ffb400"/>
<rect x="313.32" y="418.1" width="10.44" height="10.4" fill="#ffd000"/>
<rect x="323.16" y="418.1" width="10.44" height="10.4" fill="#ffd000"/>
<rect x="333" y="418.1" width="10.44" height="10.4" fill="#ffd000"/>
<rect x="342.84" y="418.1" width="10.44" height="10.4" fill="#ffb400"/>
<rect x="352.68" y="418.1" width="10.44" height="10.4" fill="#a0a0ff"/>
<rect x="362.52" y="418.1" width="10.44" height="10.4" fill="#c0c0ff"/>
<rect x="372.36" y="418.1" width="10.44" height="10.4" fill="#ffd000"/>
<rect x="382.2" y="418.1" width="10.44" height="10.4" fill="#ffb400"/>
<rect x="392.04" y="418.1" width="10.44" height="10.4" fill="#0000ee"/>
<rect x="234.6" y="427.9" width="10.44" height="10.4" fill="#ffe800"/>
<rect x="244.44" y="427.9" width="10.44" height="10.4" fill="#ffb400"/>
<rect x="254.28" y="427.9" width="10.44" height="10.4" fill="#c0c0ff"/>
<rect x="283.8" y="427.9" width="10.44" height="10.4" fill="#ffb400"/>
<rect x="293.64" y="427.9" width="10.44" height="10.4" fill="#ffe800"/>
<rect x="303.48" y="427.9" width="10.44" height="10.4" fill="#dcdcff"/>
<rect x="313.32" y="427.9" width="10.44" height="10.4" fill="#c0c0ff"/>
<rect x="342.84" y="427.9" width="10.44" height="10.4" fill="#dcdcff"/>
<rect x="352.68" y="427.9" width="10.44" height="10.4" fill="#ffb400"/>
<rect x="362.52" y="427.9" width="10.44" height="10.4" fill="#a0a0ff"/>
<rect x="372.36" y="427.9" width="10.44" height="10.4" fill="#fffbd6"/>
<rect x="392.04" y="427.9" width="10.44" height="10.4" fill="#dcdcff"/>
<path d="M239.52 283.57 L243.03 285.8 L239.52 287.55" fill="none" stroke="#000" stroke-width="1.1" stroke-linejoin="round"/>
<path d="M278.88 301.77 L274.7 295.6 L277.12 285.8 L278.88 280.9 L282.16 285.8 L282.44 295.6 L278.88 301.77Z" fill="none" stroke="#000" stroke-width="1.1" stroke-linejoin="round"/>
<path d="M328.08 287.55 L325.84 285.8 L328.08 282.53 L329.49 285.8 L328.08 287.55Z" fill="none" stroke="#000" stroke-width="1.1" stroke-linejoin="round"/>
<path d="M375.08 276 L369.2 285.8 L367.44 289.07 L366.37 285.8 L362.22 276" fill="none" stroke="#000" stroke-width="1.1" stroke-linejoin="round"/>
<path d="M388.88 276 L387.12 279.92 L383.18 276" fill="none" stroke="#000" stroke-width="1.1" stroke-linejoin="round"/>
<path d="M259.2 311.57 L253 305.4 L258.6 295.6 L259.2 294.81 L259.8 295.6 L265.4 305.4 L259.2 311.57Z" fill="none" stroke="#000" stroke-width="1.1" stroke-linejoin="round"/>
<path d="M357.6 296.88 L357 295.6 L357.6 295.25 L358.88 295.6 L357.6 296.88Z" fill="none" stroke="#000" stroke-width="1.1" stroke-linejoin="round"/>
<path d="M269.04 326.75 L259.2 326.75 L257.44 325 L259.2 321.73 L267.76 315.2 L269.04 313.92 L269.64 315.2 L270.11 325 L269.04 326.75Z" fill="none" stroke="#000" stroke-width="1.1" stroke-linejoin="round"/>
<path d="M357.6 329.9 L355.36 325 L347.76 317.43 L346 315.2 L347.76 311.93 L357.6 313.92 L367.44 309.6 L372.36 315.2 L367.44 317.65 L359.01 325 L357.6 329.9Z" fill="none" stroke="#000" stroke-width="1.1" stroke-linejoin="round"/>
<path d="M347.76 425.23 L337.92 424.28 L328.08 424.28 L318.24 423.6 L308.4 425.23 L305.12 423 L306.76 413.2 L298.56 410.2 L292.36 403.4 L292.31 393.6 L292 383.8 L298.56 380.83 L305.42 374 L308.2 364.2 L308.4 363.93 L313.96 354.4 L318.24 348.18 L322.86 344.6 L328.08 339.4 L336.16 334.8 L337.92 331.53 L347.76 331.17 L354.32 334.8 L357.6 338.07 L365.17 334.8 L367.44 334.33 L368.04 334.8 L372.36 344.6 L367.44 349.5 L364.16 354.4 L357.6 360.93 L355.36 364.2 L349.04 374 L357.6 380.53 L367.44 383.01 L368.04 383.8 L367.44 384.4 L357.6 385.55 L347.76 386.06 L337.92 392.51 L334.64 393.6 L331.36 403.4 L331.36 413.2 L337.92 421.72 L346.48 413.2 L347.76 412.73 L357.6 411.8 L358.88 413.2 L357.6 413.67 L349.17 423 L347.76 425.23Z" fill="none" stroke="#000" stroke-width="1.1" stroke-linejoin="round"/>
<path d="M396.96 355.19 L394.69 354.4 L396.96 353.12" fill="none" stroke="#000" stroke-width="1.1" stroke-linejoin="round"/>
<path d="M367.44 364.99 L365.17 364.2 L367.44 361.94 L369.71 364.2 L367.44 364.99Z" fill="none" stroke="#000" stroke-width="1.1" stroke-linejoin="round"/>
<path d="M387.12 376.26 L386.52 374 L384.85 364.2 L387.12 361.94 L387.92 364.2 L389.39 374 L387.12 376.26Z" fill="none" stroke="#000" stroke-width="1.1" stroke-linejoin="round"/>
<path d="M259.2 385.2 L249.36 384.81 L247.09 383.8 L249.36 383.01 L259.2 378.9 L259.93 383.8 L259.2 385.2Z" fill="none" stroke="#000" stroke-width="1.1" stroke-linejoin="round"/>
<path d="M278.88 384.4 L278.65 383.8 L278.88 383.2 L281.15 383.8 L278.88 384.4Z" fill="none" stroke="#000" stroke-width="1.1" stroke-linejoin="round"/>
<path d="M239.52 391.34 L240.54 393.6 L239.52 394.2" fill="none" stroke="#000" stroke-width="1.1" stroke-linejoin="round"/>
<path d="M249.36 404.68 L248.76 403.4 L249.36 402.39 L250.64 403.4 L249.36 404.68Z" fill="none" stroke="#000" stroke-width="1.1" stroke-linejoin="round"/>
<path d="M367.44 406.67 L363.93 403.4 L367.44 401.65 L372.36 403.4 L367.44 406.67Z" fill="none" stroke="#000" stroke-width="1.1" stroke-linejoin="round"/>
<path d="M239.52 412.6 L240.8 413.2 L239.52 413.8" fill="none" stroke="#000" stroke-width="1.1" stroke-linejoin="round"/>
<path d="M288.72 418.1 L286.96 413.2 L288.72 409.93 L292.66 413.2 L288.72 418.1Z" fill="none" stroke="#000" stroke-width="1.1" stroke-linejoin="round"/>
<path d="M323.16 413.2 L318.24 409.93 L310.67 413.2 L318.24 420.74 L323.16 413.2Z" fill="none" stroke="#000" stroke-width="1.1" stroke-linejoin="round"/>
<path d="M259.2 424.75 L257.44 423 L259.2 420.28 L260.27 423 L259.2 424.75Z" fill="none" stroke="#000" stroke-width="1.1" stroke-linejoin="round"/>
<path d="M387.12 426.27 L377.28 424.4 L376.68 423 L377.28 422.4 L387.12 419.08 L387.76 423 L387.12 426.27Z" fill="none" stroke="#000" stroke-width="1.1" stroke-linejoin="round"/>
<path d="M244.44 432.8 L249.36 431.05 L251.12 432.8" fill="none" stroke="#000" stroke-width="1.1" stroke-linejoin="round"/>
<path d="M285.44 432.8 L288.72 427.9 L293.64 432.8" fill="none" stroke="#000" stroke-width="1.1" stroke-linejoin="round"/>
<path d="M355.36 432.8 L357.6 431.4 L359.01 432.8" fill="none" stroke="#000" stroke-width="1.1" stroke-linejoin="round"/>
<path d="M372.14 276 L367.44 283.47 L364.23 276" fill="none" stroke="#000" stroke-width="1.1" stroke-linejoin="round"/>
<path d="M278.88 298.14 L277.16 295.6 L278.88 289.88 L280.35 295.6 L278.88 298.14Z" fill="none" stroke="#000" stroke-width="1.1" stroke-linejoin="round"/>
<path d="M259.2 307.94 L256.65 305.4 L259.2 300.97 L261.75 305.4 L259.2 307.94Z" fill="none" stroke="#000" stroke-width="1.1" stroke-linejoin="round"/>
<path d="M308.4 407.83 L298.56 406.2 L296.01 403.4 L293.87 393.6 L298.56 383.8 L308.4 374 L309.83 364.2 L315.03 354.4 L318.24 349.73 L324.87 344.6 L328.08 341.4 L337.92 336.2 L345.59 344.6 L347.76 348 L357.6 354.4 L350.89 364.2 L347.76 368.63 L345.59 374 L345.59 383.8 L337.92 390.33 L328.08 393.6 L318.24 403.4 L308.4 407.83Z" fill="none" stroke="#000" stroke-width="1.1" stroke-linejoin="round"/>
<path d="M318.24 396.87 L311.21 393.6 L308.4 390.8 L305.12 383.8 L308.4 380.53 L311.21 374 L313.19 364.2 L317.17 354.4 L318.24 352.84 L328.08 347.4 L330.89 344.6 L337.92 341.8 L340.48 344.6 L346.6 354.4 L342.2 364.2 L340.48 374 L340.48 383.8 L337.92 385.98 L328.08 387.07 L321.52 393.6 L318.24 396.87Z" fill="none" stroke="#000" stroke-width="1.1" stroke-linejoin="round"/>
<path d="M298.56 397.86 L297 393.6 L298.56 390.33 L305.59 393.6 L298.56 397.86Z" fill="none" stroke="#000" stroke-width="1.1" stroke-linejoin="round"/>
<path d="M337.92 359.3 L333 354.4 L337.92 349.5 L340.81 354.4 L337.92 359.3Z" fill="none" stroke="#000" stroke-width="1.1" stroke-linejoin="round"/>
<path d="M318.24 381.35 L314.02 374 L316.56 364.2 L318.24 359.3 L328.08 359.3 L333 364.2 L328.08 369.1 L325.62 374 L318.24 381.35Z" fill="none" stroke="#000" stroke-width="1.1" stroke-linejoin="round"/>
<path d="M318.24 376.45 L316.83 374 L318.24 369.1 L320.7 374 L318.24 376.45Z" fill="none" stroke="#000" stroke-width="1.1" stroke-linejoin="round"/>
<path d="M241.79 276 L249.36 280.67 L259.2 280.9 L264.12 285.8 L267.84 295.6 L269.04 297.86 L269.78 295.6 L270.09 285.8 L269.04 283.7 L261.31 276" fill="none" stroke="#000" stroke-width="1.15" stroke-dasharray="1.2 1.2"/>
<path d="M342.84 276 L337.92 280.9 L335.11 285.8 L328.08 294.55 L318.24 288.06 L308.4 288.96 L298.56 293.34 L288.72 290.7 L286.63 295.6 L282.05 305.4 L278.88 312.94 L277.68 315.2 L274.39 325 L269.04 333.75 L259.2 333.75 L250.41 325 L251.63 315.2 L249.36 312.94 L241.79 305.4 L249.36 297.86 L250.56 295.6 L249.36 293.5 L239.52 294.55" fill="none" stroke="#000" stroke-width="1.15" stroke-dasharray="1.2 1.2"/>
<path d="M347.76 293.34 L342.84 285.8 L347.76 280.9 L350.93 285.8 L347.76 293.34Z" fill="none" stroke="#000" stroke-width="1.15" stroke-dasharray="1.2 1.2"/>
<path d="M261.47 432.8 L269.04 429.64 L274.78 423 L278.88 414.83 L279.93 413.2 L278.88 410.94 L271.31 403.4 L278.88 395.86 L288.72 395.86 L289.19 393.6 L288.72 391.97 L278.88 392.4 L275.55 383.8 L278.88 375.2 L288.72 375.63 L298.56 374.89 L299.45 374 L305.52 364.2 L308.4 360.26 L311.82 354.4 L318.24 345.07 L318.84 344.6 L328.08 335.4 L329.13 334.8 L328.08 332.54 L323.16 325 L328.08 317.46 L337.92 317.46 L338.97 315.2 L337.92 310.3 L335.65 305.4 L330.35 295.6 L337.92 290.7 L345.49 295.6 L347.76 297.86 L348.96 295.6 L357.6 290.64 L362.09 285.8 L358.2 276" fill="none" stroke="#000" stroke-width="1.15" stroke-dasharray="1.2 1.2"/>
<path d="M379.18 285.8 L377.28 283.9 L376.23 285.8 L377.28 287.7 L379.18 285.8Z" fill="none" stroke="#000" stroke-width="1.15" stroke-dasharray="1.2 1.2"/>
<path d="M395.91 276 L396.96 278.94" fill="none" stroke="#000" stroke-width="1.15" stroke-dasharray="1.2 1.2"/>
<path d="M393.79 305.4 L387.12 298.76 L380.45 305.4 L387.12 311.83 L393.79 305.4Z" fill="none" stroke="#000" stroke-width="1.15" stroke-dasharray="1.2 1.2"/>
<path d="M239.52 307.66 L247.09 315.2 L247.72 325 L249.36 327.26 L256.93 334.8 L251.63 344.6 L249.36 345.83 L243.62 354.4 L243.62 364.2 L249.36 372.78 L257.97 364.2 L259.2 361.94 L264.12 364.2 L269.04 366.46 L276.61 374 L269.04 375.88 L262.87 383.8 L259.2 390.8 L253.41 393.6 L259.2 398.5 L266.77 403.4 L266.09 413.2 L264.55 423 L259.2 431.75 L250.41 423 L249.36 420.74 L239.52 421.8" fill="none" stroke="#000" stroke-width="1.15" stroke-dasharray="1.2 1.2"/>
<path d="M389.39 344.6 L387.12 342.97 L378.92 334.8 L377.28 332.7 L372.13 325 L367.44 322.55 L364.63 325 L367.44 328.11 L376.08 334.8 L377.28 336.43 L385.48 344.6 L387.12 346.23 L389.39 344.6Z" fill="none" stroke="#000" stroke-width="1.15" stroke-dasharray="1.2 1.2"/>
<path d="M352.45 403.4 L357.6 395.7 L367.44 394.65 L377.28 395.23 L379.18 393.6 L378.92 383.8 L378.48 374 L377.28 372.37 L372.36 374 L376.08 383.8 L367.44 392.4 L357.6 392.55 L355.96 393.6 L347.76 399.48 L342.84 403.4 L347.76 406.51 L352.45 403.4Z" fill="none" stroke="#000" stroke-width="1.15" stroke-dasharray="1.2 1.2"/>
<path d="M269.04 398.5 L266.77 393.6 L269.04 392.95 L273.96 393.6 L269.04 398.5Z" fill="none" stroke="#000" stroke-width="1.15" stroke-dasharray="1.2 1.2"/>
<path d="M396.96 390.66 L395.06 393.6 L396.96 395.5" fill="none" stroke="#000" stroke-width="1.15" stroke-dasharray="1.2 1.2"/>
<path d="M239.52 404.6 L240.72 403.4 L239.52 402.2" fill="none" stroke="#000" stroke-width="1.15" stroke-dasharray="1.2 1.2"/>
<path d="M372.13 432.8 L368.64 423 L377.28 414.4 L379.18 413.2 L377.28 411.57 L375.01 413.2 L367.44 420.74 L357.6 419.89 L354.79 423 L357.6 425.8 L364.63 432.8" fill="none" stroke="#000" stroke-width="1.15" stroke-dasharray="1.2 1.2"/>
<path d="M396.96 415.39 L390.31 423 L396.96 432.27" fill="none" stroke="#000" stroke-width="1.15" stroke-dasharray="1.2 1.2"/>
<path d="M239.52 424.63 L249.36 424.05 L258.15 432.8" fill="none" stroke="#000" stroke-width="1.15" stroke-dasharray="1.2 1.2"/>
<path d="M320.51 432.8 L318.24 431.6 L313.32 432.8" fill="none" stroke="#000" stroke-width="1.15" stroke-dasharray="1.2 1.2"/>
<path d="M347.76 276 L337.92 285.8 L347.76 276Z" fill="none" stroke="#000" stroke-width="1.15" stroke-dasharray="1.2 1.2"/>
<path d="M359.95 285.8 L357.6 279.81 L347.76 276 L354.11 285.8 L357.6 288.34 L359.95 285.8Z" fill="none" stroke="#000" stroke-width="1.15" stroke-dasharray="1.2 1.2"/>
<path d="M304.18 364.2 L308.4 358.43 L310.75 354.4 L316.83 344.6 L316.83 334.8 L318.24 325 L318.24 315.2 L328.08 305.4 L318.24 295.6 L308.4 292.12 L302.39 295.6 L298.56 305.4 L288.72 295.6 L285.23 305.4 L288.72 311.39 L290.49 315.2 L288.72 316.6 L278.88 319.01 L276.53 325 L270.81 334.8 L269.04 344.6 L259.2 344.6 L249.36 349.91 L246.35 354.4 L246.35 364.2 L249.36 368.69 L253.87 364.2 L259.2 354.4 L269.04 361.83 L272.87 364.2 L278.88 370.19 L288.72 364.2 L298.56 372.6 L304.18 364.2Z" fill="none" stroke="#000" stroke-width="1.15" stroke-dasharray="1.2 1.2"/>
<path d="M390.61 305.4 L387.12 301.92 L383.63 305.4 L387.12 308.77 L390.61 305.4Z" fill="none" stroke="#000" stroke-width="1.15" stroke-dasharray="1.2 1.2"/>
<path d="M278.88 346.97 L269.04 344.6 L278.88 342.84 L279.91 344.6 L278.88 346.97Z" fill="none" stroke="#000" stroke-width="1.15" stroke-dasharray="1.2 1.2"/>
<path d="M274 383.8 L269.04 377.77 L264.34 383.8 L259.2 393.6 L269.04 390.77 L274 383.8Z" fill="none" stroke="#000" stroke-width="1.15" stroke-dasharray="1.2 1.2"/>
<path d="M272.05 423 L269.04 417.01 L266.69 423 L269.04 426.48 L272.05 423Z" fill="none" stroke="#000" stroke-width="1.15" stroke-dasharray="1.2 1.2"/>
<path d="M396.96 416.86 L391.59 423 L396.96 430.48" fill="none" stroke="#000" stroke-width="1.15" stroke-dasharray="1.2 1.2"/>
<path d="M367.44 432.8 L357.6 423 L367.44 432.8Z" fill="none" stroke="#000" stroke-width="1.15" stroke-dasharray="1.2 1.2"/>
<path d="M301.51 364.2 L308.4 354.77 L308.61 354.4 L312.82 344.6 L312.82 334.8 L314.96 325 L313.55 315.2 L318.24 309.08 L321.93 305.4 L318.24 301.73 L314.55 305.4 L308.4 310.07 L298.56 311.53 L295.53 315.2 L288.72 320.6 L281.74 325 L278.88 329.2 L275.85 334.8 L278.88 337.82 L282.85 344.6 L278.88 353.72 L269.04 353.51 L268.15 354.4 L269.04 355.08 L278.88 356.18 L288.72 360.93 L293.41 364.2 L298.56 368.6 L301.51 364.2Z" fill="none" stroke="#000" stroke-width="1.15" stroke-dasharray="1.2 1.2"/>
<path d="M270.9 383.8 L269.04 381.54 L267.28 383.8 L269.04 386.41 L270.9 383.8Z" fill="none" stroke="#000" stroke-width="1.15" stroke-dasharray="1.2 1.2"/>
<path d="M396.96 419.78 L394.15 423 L396.96 426.92" fill="none" stroke="#000" stroke-width="1.15" stroke-dasharray="1.2 1.2"/>
<path d="M298.83 364.2 L303.74 354.4 L308.4 345.58 L308.8 344.6 L308.8 334.8 L311.68 325 L308.87 315.2 L308.4 314.73 L306.43 315.2 L301.37 325 L298.56 327.8 L290.69 325 L288.72 324.6 L288.09 325 L286.75 334.8 L285.78 344.6 L283.54 354.4 L288.72 357.67 L298.09 364.2 L298.56 364.6 L298.83 364.2Z" fill="none" stroke="#000" stroke-width="1.15" stroke-dasharray="1.2 1.2"/>
<path d="M396.96 422.71 L396.7 423 L396.96 423.36" fill="none" stroke="#000" stroke-width="1.15" stroke-dasharray="1.2 1.2"/>
<path d="M308.4 325 L298.56 334.8 L308.4 325Z" fill="none" stroke="#000" stroke-width="1.15" stroke-dasharray="1.2 1.2"/>
<path d="M298.56 354.4 L298.56 344.6 L298.56 334.8 L288.72 344.6 L288.72 354.4 L298.56 354.4Z" fill="none" stroke="#000" stroke-width="1.15" stroke-dasharray="1.2 1.2"/>
</g>
<line x1="258.3" y1="437.8" x2="258.3" y2="431.5" stroke="#3a3a3a" stroke-width="1.4"/>
<line x1="258.3" y1="270.9" x2="258.3" y2="277.2" stroke="#3a3a3a" stroke-width="1.4"/>
<line x1="284.3" y1="437.8" x2="284.3" y2="431.5" stroke="#3a3a3a" stroke-width="1.4"/>
<line x1="284.3" y1="270.9" x2="284.3" y2="277.2" stroke="#3a3a3a" stroke-width="1.4"/>
<line x1="310.3" y1="437.8" x2="310.3" y2="431.5" stroke="#3a3a3a" stroke-width="1.4"/>
<line x1="310.3" y1="270.9" x2="310.3" y2="277.2" stroke="#3a3a3a" stroke-width="1.4"/>
<line x1="336.6" y1="437.8" x2="336.6" y2="431.5" stroke="#3a3a3a" stroke-width="1.4"/>
<line x1="336.6" y1="270.9" x2="336.6" y2="277.2" stroke="#3a3a3a" stroke-width="1.4"/>
<line x1="362.7" y1="437.8" x2="362.7" y2="431.5" stroke="#3a3a3a" stroke-width="1.4"/>
<line x1="362.7" y1="270.9" x2="362.7" y2="277.2" stroke="#3a3a3a" stroke-width="1.4"/>
<line x1="388.6" y1="437.8" x2="388.6" y2="431.5" stroke="#3a3a3a" stroke-width="1.4"/>
<line x1="388.6" y1="270.9" x2="388.6" y2="277.2" stroke="#3a3a3a" stroke-width="1.4"/>
<line x1="234.3" y1="281.4" x2="240.6" y2="281.4" stroke="#3a3a3a" stroke-width="1.4"/>
<line x1="397.5" y1="281.4" x2="391.2" y2="281.4" stroke="#3a3a3a" stroke-width="1.4"/>
<line x1="234.3" y1="307.5" x2="240.6" y2="307.5" stroke="#3a3a3a" stroke-width="1.4"/>
<line x1="397.5" y1="307.5" x2="391.2" y2="307.5" stroke="#3a3a3a" stroke-width="1.4"/>
<line x1="234.3" y1="333.6" x2="240.6" y2="333.6" stroke="#3a3a3a" stroke-width="1.4"/>
<line x1="397.5" y1="333.6" x2="391.2" y2="333.6" stroke="#3a3a3a" stroke-width="1.4"/>
<line x1="234.3" y1="359.7" x2="240.6" y2="359.7" stroke="#3a3a3a" stroke-width="1.4"/>
<line x1="397.5" y1="359.7" x2="391.2" y2="359.7" stroke="#3a3a3a" stroke-width="1.4"/>
<line x1="234.3" y1="385.8" x2="240.6" y2="385.8" stroke="#3a3a3a" stroke-width="1.4"/>
<line x1="397.5" y1="385.8" x2="391.2" y2="385.8" stroke="#3a3a3a" stroke-width="1.4"/>
<line x1="234.3" y1="411.9" x2="240.6" y2="411.9" stroke="#3a3a3a" stroke-width="1.4"/>
<line x1="397.5" y1="411.9" x2="391.2" y2="411.9" stroke="#3a3a3a" stroke-width="1.4"/>
<rect x="234.3" y="270.9" width="163.2" height="166.9" fill="none" stroke="#222" stroke-width="1.2"/>
<clipPath id="clip_d"><rect x="539.5" y="275.3" width="162.7" height="162.7"/></clipPath>
<g clip-path="url(#clip_d)">
<rect x="542.2" y="275.5" width="9.96" height="10.02" fill="#f1f1ff"/>
<rect x="560.92" y="275.5" width="9.96" height="10.02" fill="#ffe800"/>
<rect x="570.28" y="275.5" width="9.96" height="10.02" fill="#f1f1ff"/>
<rect x="579.64" y="275.5" width="9.96" height="10.02" fill="#ffb400"/>
<rect x="598.36" y="275.5" width="9.96" height="10.02" fill="#dcdcff"/>
<rect x="607.72" y="275.5" width="9.96" height="10.02" fill="#dcdcff"/>
<rect x="617.08" y="275.5" width="9.96" height="10.02" fill="#ffd000"/>
<rect x="626.44" y="275.5" width="9.96" height="10.02" fill="#ffe800"/>
<rect x="635.8" y="275.5" width="9.96" height="10.02" fill="#c0c0ff"/>
<rect x="654.52" y="275.5" width="9.96" height="10.02" fill="#ffe800"/>
<rect x="682.6" y="275.5" width="9.96" height="10.02" fill="#dcdcff"/>
<rect x="691.96" y="275.5" width="9.96" height="10.02" fill="#f1f1ff"/>
<rect x="542.2" y="284.92" width="9.96" height="10.02" fill="#fff49a"/>
<rect x="551.56" y="284.92" width="9.96" height="10.02" fill="#ffe800"/>
<rect x="560.92" y="284.92" width="9.96" height="10.02" fill="#f1f1ff"/>
<rect x="570.28" y="284.92" width="9.96" height="10.02" fill="#ffd000"/>
<rect x="589" y="284.92" width="9.96" height="10.02" fill="#dcdcff"/>
<rect x="598.36" y="284.92" width="9.96" height="10.02" fill="#c0c0ff"/>
<rect x="607.72" y="284.92" width="9.96" height="10.02" fill="#c0c0ff"/>
<rect x="617.08" y="284.92" width="9.96" height="10.02" fill="#ffd000"/>
<rect x="626.44" y="284.92" width="9.96" height="10.02" fill="#fff49a"/>
<rect x="635.8" y="284.92" width="9.96" height="10.02" fill="#ffb400"/>
<rect x="654.52" y="284.92" width="9.96" height="10.02" fill="#dcdcff"/>
<rect x="663.88" y="284.92" width="9.96" height="10.02" fill="#fff49a"/>
<rect x="673.24" y="284.92" width="9.96" height="10.02" fill="#c0c0ff"/>
<rect x="682.6" y="284.92" width="9.96" height="10.02" fill="#dcdcff"/>
<rect x="691.96" y="284.92" width="9.96" height="10.02" fill="#ffe800"/>
<rect x="542.2" y="294.34" width="9.96" height="10.02" fill="#ffe800"/>
<rect x="551.56" y="294.34" width="9.96" height="10.02" fill="#a0a0ff"/>
<rect x="560.92" y="294.34" width="9.96" height="10.02" fill="#f1f1ff"/>
<rect x="570.28" y="294.34" width="9.96" height="10.02" fill="#ffb400"/>
<rect x="579.64" y="294.34" width="9.96" height="10.02" fill="#c0c0ff"/>
<rect x="589" y="294.34" width="9.96" height="10.02" fill="#fffbd6"/>
<rect x="598.36" y="294.34" width="9.96" height="10.02" fill="#ffe800"/>
<rect x="617.08" y="294.34" width="9.96" height="10.02" fill="#f1f1ff"/>
<rect x="626.44" y="294.34" width="9.96" height="10.02" fill="#f1f1ff"/>
<rect x="635.8" y="294.34" width="9.96" height="10.02" fill="#fffbd6"/>
<rect x="645.16" y="294.34" width="9.96" height="10.02" fill="#ffd000"/>
<rect x="654.52" y="294.34" width="9.96" height="10.02" fill="#dcdcff"/>
<rect x="673.24" y="294.34" width="9.96" height="10.02" fill="#f1f1ff"/>
<rect x="691.96" y="294.34" width="9.96" height="10.02" fill="#fff49a"/>
<rect x="551.56" y="303.76" width="9.96" height="10.02" fill="#ffd000"/>
<rect x="570.28" y="303.76" width="9.96" height="10.02" fill="#fff49a"/>
<rect x="589" y="303.76" width="9.96" height="10.02" fill="#ffb400"/>
<rect x="607.72" y="303.76" width="9.96" height="10.02" fill="#f1f1ff"/>
<rect x="617.08" y="303.76" width="9.96" height="10.02" fill="#dcdcff"/>
<rect x="635.8" y="303.76" width="9.96" height="10.02" fill="#f1f1ff"/>
<rect x="645.16" y="303.76" width="9.96" height="10.02" fill="#dcdcff"/>
<rect x="654.52" y="303.76" width="9.96" height="10.02" fill="#ffb400"/>
<rect x="663.88" y="303.76" width="9.96" height="10.02" fill="#ffe800"/>
<rect x="673.24" y="303.76" width="9.96" height="10.02" fill="#ffd000"/>
<rect x="682.6" y="303.76" width="9.96" height="10.02" fill="#dcdcff"/>
<rect x="691.96" y="303.76" width="9.96" height="10.02" fill="#fff49a"/>
<rect x="542.2" y="313.18" width="9.96" height="10.02" fill="#ffe800"/>
<rect x="551.56" y="313.18" width="9.96" height="10.02" fill="#c0c0ff"/>
<rect x="560.92" y="313.18" width="9.96" height="10.02" fill="#c0c0ff"/>
<rect x="570.28" y="313.18" width="9.96" height="10.02" fill="#ffe800"/>
<rect x="579.64" y="313.18" width="9.96" height="10.02" fill="#dcdcff"/>
<rect x="589" y="313.18" width="9.96" height="10.02" fill="#fff49a"/>
<rect x="598.36" y="313.18" width="9.96" height="10.02" fill="#fff49a"/>
<rect x="607.72" y="313.18" width="9.96" height="10.02" fill="#dcdcff"/>
<rect x="617.08" y="313.18" width="9.96" height="10.02" fill="#ffd000"/>
<rect x="626.44" y="313.18" width="9.96" height="10.02" fill="#ffe800"/>
<rect x="635.8" y="313.18" width="9.96" height="10.02" fill="#fff49a"/>
<rect x="645.16" y="313.18" width="9.96" height="10.02" fill="#ffe800"/>
<rect x="654.52" y="313.18" width="9.96" height="10.02" fill="#c0c0ff"/>
<rect x="663.88" y="313.18" width="9.96" height="10.02" fill="#f1f1ff"/>
<rect x="673.24" y="313.18" width="9.96" height="10.02" fill="#fff49a"/>
<rect x="682.6" y="313.18" width="9.96" height="10.02" fill="#dcdcff"/>
<rect x="691.96" y="313.18" width="9.96" height="10.02" fill="#c0c0ff"/>
<rect x="542.2" y="322.6" width="9.96" height="10.02" fill="#ffe800"/>
<rect x="551.56" y="322.6" width="9.96" height="10.02" fill="#ffe800"/>
<rect x="560.92" y="322.6" width="9.96" height="10.02" fill="#c0c0ff"/>
<rect x="589" y="322.6" width="9.96" height="10.02" fill="#ffe800"/>
<rect x="598.36" y="322.6" width="9.96" height="10.02" fill="#ff9400"/>
<rect x="617.08" y="322.6" width="9.96" height="10.02" fill="#ffd000"/>
<rect x="626.44" y="322.6" width="9.96" height="10.02" fill="#ffd000"/>
<rect x="635.8" y="322.6" width="9.96" height="10.02" fill="#ffe800"/>
<rect x="645.16" y="322.6" width="9.96" height="10.02" fill="#ffe800"/>
<rect x="663.88" y="322.6" width="9.96" height="10.02" fill="#ffe800"/>
<rect x="673.24" y="322.6" width="9.96" height="10.02" fill="#dcdcff"/>
<rect x="542.2" y="332.02" width="9.96" height="10.02" fill="#dcdcff"/>
<rect x="551.56" y="332.02" width="9.96" height="10.02" fill="#ffd000"/>
<rect x="560.92" y="332.02" width="9.96" height="10.02" fill="#dcdcff"/>
<rect x="570.28" y="332.02" width="9.96" height="10.02" fill="#c0c0ff"/>
<rect x="579.64" y="332.02" width="9.96" height="10.02" fill="#ffe800"/>
<rect x="589" y="332.02" width="9.96" height="10.02" fill="#ffb400"/>
<rect x="598.36" y="332.02" width="9.96" height="10.02" fill="#ff9400"/>
<rect x="607.72" y="332.02" width="9.96" height="10.02" fill="#e40800"/>
<rect x="617.08" y="332.02" width="9.96" height="10.02" fill="#ff4200"/>
<rect x="626.44" y="332.02" width="9.96" height="10.02" fill="#ff6e00"/>
<rect x="635.8" y="332.02" width="9.96" height="10.02" fill="#ff9400"/>
<rect x="645.16" y="332.02" width="9.96" height="10.02" fill="#ffe800"/>
<rect x="663.88" y="332.02" width="9.96" height="10.02" fill="#f1f1ff"/>
<rect x="682.6" y="332.02" width="9.96" height="10.02" fill="#c0c0ff"/>
<rect x="691.96" y="332.02" width="9.96" height="10.02" fill="#ffd000"/>
<rect x="551.56" y="341.44" width="9.96" height="10.02" fill="#ffe800"/>
<rect x="560.92" y="341.44" width="9.96" height="10.02" fill="#fff49a"/>
<rect x="570.28" y="341.44" width="9.96" height="10.02" fill="#fffbd6"/>
<rect x="579.64" y="341.44" width="9.96" height="10.02" fill="#ffe800"/>
<rect x="589" y="341.44" width="9.96" height="10.02" fill="#ff9400"/>
<rect x="598.36" y="341.44" width="9.96" height="10.02" fill="#ff4200"/>
<rect x="607.72" y="341.44" width="9.96" height="10.02" fill="#e40800"/>
<rect x="617.08" y="341.44" width="9.96" height="10.02" fill="#e40800"/>
<rect x="626.44" y="341.44" width="9.96" height="10.02" fill="#ff4200"/>
<rect x="635.8" y="341.44" width="9.96" height="10.02" fill="#ff9400"/>
<rect x="645.16" y="341.44" width="9.96" height="10.02" fill="#fff49a"/>
<rect x="654.52" y="341.44" width="9.96" height="10.02" fill="#f1f1ff"/>
<rect x="663.88" y="341.44" width="9.96" height="10.02" fill="#f1f1ff"/>
<rect x="673.24" y="341.44" width="9.96" height="10.02" fill="#fffbd6"/>
<rect x="682.6" y="341.44" width="9.96" height="10.02" fill="#f1f1ff"/>
<rect x="691.96" y="341.44" width="9.96" height="10.02" fill="#ffd000"/>
<rect x="542.2" y="350.86" width="9.96" height="10.02" fill="#c0c0ff"/>
<rect x="551.56" y="350.86" width="9.96" height="10.02" fill="#f1f1ff"/>
<rect x="589" y="350.86" width="9.96" height="10.02" fill="#ff6e00"/>
<rect x="598.36" y="350.86" width="9.96" height="10.02" fill="#e40800"/>
<rect x="607.72" y="350.86" width="9.96" height="10.02" fill="#700000"/>
<rect x="617.08" y="350.86" width="9.96" height="10.02" fill="#aa0000"/>
<rect x="626.44" y="350.86" width="9.96" height="10.02" fill="#e40800"/>
<rect x="635.8" y="350.86" width="9.96" height="10.02" fill="#ff9400"/>
<rect x="645.16" y="350.86" width="9.96" height="10.02" fill="#ffd000"/>
<rect x="663.88" y="350.86" width="9.96" height="10.02" fill="#dcdcff"/>
<rect x="673.24" y="350.86" width="9.96" height="10.02" fill="#fffbd6"/>
<rect x="682.6" y="350.86" width="9.96" height="10.02" fill="#ffe800"/>
<rect x="570.28" y="360.28" width="9.96" height="10.02" fill="#c0c0ff"/>
<rect x="589" y="360.28" width="9.96" height="10.02" fill="#ff4200"/>
<rect x="598.36" y="360.28" width="9.96" height="10.02" fill="#e40800"/>
<rect x="607.72" y="360.28" width="9.96" height="10.02" fill="#aa0000"/>
<rect x="617.08" y="360.28" width="9.96" height="10.02" fill="#e40800"/>
<rect x="626.44" y="360.28" width="9.96" height="10.02" fill="#ff4200"/>
<rect x="635.8" y="360.28" width="9.96" height="10.02" fill="#ff9400"/>
<rect x="654.52" y="360.28" width="9.96" height="10.02" fill="#c0c0ff"/>
<rect x="682.6" y="360.28" width="9.96" height="10.02" fill="#ffe800"/>
<rect x="691.96" y="360.28" width="9.96" height="10.02" fill="#f1f1ff"/>
<rect x="542.2" y="369.7" width="9.96" height="10.02" fill="#fffbd6"/>
<rect x="551.56" y="369.7" width="9.96" height="10.02" fill="#ffd000"/>
<rect x="560.92" y="369.7" width="9.96" height="10.02" fill="#f1f1ff"/>
<rect x="570.28" y="369.7" width="9.96" height="10.02" fill="#ffe800"/>
<rect x="579.64" y="369.7" width="9.96" height="10.02" fill="#fffbd6"/>
<rect x="589" y="369.7" width="9.96" height="10.02" fill="#ffe800"/>
<rect x="598.36" y="369.7" width="9.96" height="10.02" fill="#ff6e00"/>
<rect x="607.72" y="369.7" width="9.96" height="10.02" fill="#ff6e00"/>
<rect x="617.08" y="369.7" width="9.96" height="10.02" fill="#ff4200"/>
<rect x="626.44" y="369.7" width="9.96" height="10.02" fill="#ff6e00"/>
<rect x="635.8" y="369.7" width="9.96" height="10.02" fill="#ffd000"/>
<rect x="654.52" y="369.7" width="9.96" height="10.02" fill="#f1f1ff"/>
<rect x="691.96" y="369.7" width="9.96" height="10.02" fill="#ffe800"/>
<rect x="542.2" y="379.12" width="9.96" height="10.02" fill="#ffe800"/>
<rect x="551.56" y="379.12" width="9.96" height="10.02" fill="#fffbd6"/>
<rect x="560.92" y="379.12" width="9.96" height="10.02" fill="#ffe800"/>
<rect x="570.28" y="379.12" width="9.96" height="10.02" fill="#f1f1ff"/>
<rect x="589" y="379.12" width="9.96" height="10.02" fill="#ffb400"/>
<rect x="598.36" y="379.12" width="9.96" height="10.02" fill="#ff9400"/>
<rect x="607.72" y="379.12" width="9.96" height="10.02" fill="#ff9400"/>
<rect x="617.08" y="379.12" width="9.96" height="10.02" fill="#ff9400"/>
<rect x="626.44" y="379.12" width="9.96" height="10.02" fill="#ffd000"/>
<rect x="635.8" y="379.12" width="9.96" height="10.02" fill="#ffd000"/>
<rect x="673.24" y="379.12" width="9.96" height="10.02" fill="#fff49a"/>
<rect x="682.6" y="379.12" width="9.96" height="10.02" fill="#f1f1ff"/>
<rect x="691.96" y="379.12" width="9.96" height="10.02" fill="#c0c0ff"/>
<rect x="542.2" y="388.54" width="9.96" height="10.02" fill="#fff49a"/>
<rect x="551.56" y="388.54" width="9.96" height="10.02" fill="#fffbd6"/>
<rect x="560.92" y="388.54" width="9.96" height="10.02" fill="#c0c0ff"/>
<rect x="570.28" y="388.54" width="9.96" height="10.02" fill="#ffe800"/>
<rect x="579.64" y="388.54" width="9.96" height="10.02" fill="#ffe800"/>
<rect x="589" y="388.54" width="9.96" height="10.02" fill="#ffe800"/>
<rect x="598.36" y="388.54" width="9.96" height="10.02" fill="#dcdcff"/>
<rect x="617.08" y="388.54" width="9.96" height="10.02" fill="#fff49a"/>
<rect x="626.44" y="388.54" width="9.96" height="10.02" fill="#ffe800"/>
<rect x="635.8" y="388.54" width="9.96" height="10.02" fill="#fff49a"/>
<rect x="645.16" y="388.54" width="9.96" height="10.02" fill="#fffbd6"/>
<rect x="663.88" y="388.54" width="9.96" height="10.02" fill="#ffb400"/>
<rect x="682.6" y="388.54" width="9.96" height="10.02" fill="#c0c0ff"/>
<rect x="542.2" y="397.96" width="9.96" height="10.02" fill="#dcdcff"/>
<rect x="551.56" y="397.96" width="9.96" height="10.02" fill="#f1f1ff"/>
<rect x="560.92" y="397.96" width="9.96" height="10.02" fill="#c0c0ff"/>
<rect x="570.28" y="397.96" width="9.96" height="10.02" fill="#ff9400"/>
<rect x="579.64" y="397.96" width="9.96" height="10.02" fill="#f1f1ff"/>
<rect x="589" y="397.96" width="9.96" height="10.02" fill="#fff49a"/>
<rect x="607.72" y="397.96" width="9.96" height="10.02" fill="#f1f1ff"/>
<rect x="645.16" y="397.96" width="9.96" height="10.02" fill="#ffe800"/>
<rect x="654.52" y="397.96" width="9.96" height="10.02" fill="#fffbd6"/>
<rect x="682.6" y="397.96" width="9.96" height="10.02" fill="#f1f1ff"/>
<rect x="691.96" y="397.96" width="9.96" height="10.02" fill="#fff49a"/>
<rect x="542.2" y="407.38" width="9.96" height="10.02" fill="#ffe800"/>
<rect x="570.28" y="407.38" width="9.96" height="10.02" fill="#ffd000"/>
<rect x="579.64" y="407.38" width="9.96" height="10.02" fill="#c0c0ff"/>
<rect x="598.36" y="407.38" width="9.96" height="10.02" fill="#ffd000"/>
<rect x="617.08" y="407.38" width="9.96" height="10.02" fill="#ffe800"/>
<rect x="626.44" y="407.38" width="9.96" height="10.02" fill="#ffe800"/>
<rect x="635.8" y="407.38" width="9.96" height="10.02" fill="#fffbd6"/>
<rect x="645.16" y="407.38" width="9.96" height="10.02" fill="#ffe800"/>
<rect x="654.52" y="407.38" width="9.96" height="10.02" fill="#fffbd6"/>
<rect x="663.88" y="407.38" width="9.96" height="10.02" fill="#dcdcff"/>
<rect x="673.24" y="407.38" width="9.96" height="10.02" fill="#dcdcff"/>
<rect x="682.6" y="407.38" width="9.96" height="10.02" fill="#f1f1ff"/>
<rect x="691.96" y="407.38" width="9.96" height="10.02" fill="#ffd000"/>
<rect x="542.2" y="416.8" width="9.96" height="10.02" fill="#dcdcff"/>
<rect x="560.92" y="416.8" width="9.96" height="10.02" fill="#ffe800"/>
<rect x="570.28" y="416.8" width="9.96" height="10.02" fill="#fff49a"/>
<rect x="579.64" y="416.8" width="9.96" height="10.02" fill="#c0c0ff"/>
<rect x="607.72" y="416.8" width="9.96" height="10.02" fill="#fff49a"/>
<rect x="617.08" y="416.8" width="9.96" height="10.02" fill="#ffd000"/>
<rect x="626.44" y="416.8" width="9.96" height="10.02" fill="#fffbd6"/>
<rect x="654.52" y="416.8" width="9.96" height="10.02" fill="#a0a0ff"/>
<rect x="663.88" y="416.8" width="9.96" height="10.02" fill="#ffe800"/>
<rect x="673.24" y="416.8" width="9.96" height="10.02" fill="#ffd000"/>
<rect x="551.56" y="426.22" width="9.96" height="10.02" fill="#f1f1ff"/>
<rect x="560.92" y="426.22" width="9.96" height="10.02" fill="#fffbd6"/>
<rect x="570.28" y="426.22" width="9.96" height="10.02" fill="#ffb400"/>
<rect x="579.64" y="426.22" width="9.96" height="10.02" fill="#ffe800"/>
<rect x="589" y="426.22" width="9.96" height="10.02" fill="#c0c0ff"/>
<rect x="598.36" y="426.22" width="9.96" height="10.02" fill="#fff49a"/>
<rect x="617.08" y="426.22" width="9.96" height="10.02" fill="#fff49a"/>
<rect x="626.44" y="426.22" width="9.96" height="10.02" fill="#f1f1ff"/>
<rect x="635.8" y="426.22" width="9.96" height="10.02" fill="#c0c0ff"/>
<rect x="663.88" y="426.22" width="9.96" height="10.02" fill="#ffe800"/>
<rect x="673.24" y="426.22" width="9.96" height="10.02" fill="#ffe800"/>
<rect x="682.6" y="426.22" width="9.96" height="10.02" fill="#dcdcff"/>
<rect x="691.96" y="426.22" width="9.96" height="10.02" fill="#fff49a"/>
<path d="M574.96 302.82 L572.36 299.05 L573.99 289.63 L574.96 288.66 L576.18 289.63 L576.63 299.05 L574.96 302.82Z" fill="none" stroke="#000" stroke-width="1.1" stroke-linejoin="round"/>
<path d="M587.44 280.21 L584.32 283.35 L581.72 280.21" fill="none" stroke="#000" stroke-width="1.1" stroke-linejoin="round"/>
<path d="M623.92 280.21 L623.32 289.63 L621.76 290.6 L621.19 289.63 L621 280.21" fill="none" stroke="#000" stroke-width="1.1" stroke-linejoin="round"/>
<path d="M640.48 292.99 L636.74 289.63 L640.48 287.95 L643.6 289.63 L640.48 292.99Z" fill="none" stroke="#000" stroke-width="1.1" stroke-linejoin="round"/>
<path d="M649.84 299.81 L648.5 299.05 L649.84 297.82 L650.6 299.05 L649.84 299.81Z" fill="none" stroke="#000" stroke-width="1.1" stroke-linejoin="round"/>
<path d="M556.24 309.05 L555.02 308.47 L556.24 308.02 L557.46 308.47 L556.24 309.05Z" fill="none" stroke="#000" stroke-width="1.1" stroke-linejoin="round"/>
<path d="M593.68 312.24 L590.56 308.47 L593.68 305.11 L596.8 308.47 L593.68 312.24Z" fill="none" stroke="#000" stroke-width="1.1" stroke-linejoin="round"/>
<path d="M659.2 310.15 L657.07 308.47 L659.2 306.33 L663.88 308.47 L659.2 310.15Z" fill="none" stroke="#000" stroke-width="1.1" stroke-linejoin="round"/>
<path d="M677.92 310.04 L675.76 308.47 L677.92 307.5 L678.68 308.47 L677.92 310.04Z" fill="none" stroke="#000" stroke-width="1.1" stroke-linejoin="round"/>
<path d="M640.48 385.4 L631.12 386 L621.76 389.21 L612.4 388.54 L603.04 387.32 L593.68 388.54 L590.56 383.83 L593.68 379.12 L595.81 374.41 L593.68 372.89 L586.92 364.99 L587.79 355.57 L587.44 346.15 L589 336.73 L593.68 332.02 L596.8 327.31 L603.04 321.93 L607.72 327.31 L612.4 329.19 L620.54 327.31 L621 317.89 L621.76 317.13 L623.92 317.89 L631.12 325.14 L633.28 327.31 L640.48 330.45 L646.72 336.73 L645.83 346.15 L649.84 354 L651.06 355.57 L649.84 356.8 L645.16 364.99 L641.7 374.41 L641.7 383.83 L640.48 385.4Z" fill="none" stroke="#000" stroke-width="1.1" stroke-linejoin="round"/>
<path d="M556.24 338.9 L555.48 336.73 L556.24 334.56 L557 336.73 L556.24 338.9Z" fill="none" stroke="#000" stroke-width="1.1" stroke-linejoin="round"/>
<path d="M696.64 347.38 L695.67 346.15 L696.07 336.73 L696.64 335.5" fill="none" stroke="#000" stroke-width="1.1" stroke-linejoin="round"/>
<path d="M556.24 375.76 L554.9 374.41 L556.24 373.18 L557.21 374.41 L556.24 375.76Z" fill="none" stroke="#000" stroke-width="1.1" stroke-linejoin="round"/>
<path d="M668.56 396.39 L665.44 393.25 L668.56 390.11 L671.68 393.25 L668.56 396.39Z" fill="none" stroke="#000" stroke-width="1.1" stroke-linejoin="round"/>
<path d="M574.96 413.66 L573.74 412.09 L572.12 402.67 L574.96 396.39 L579.03 402.67 L575.53 412.09 L574.96 413.66Z" fill="none" stroke="#000" stroke-width="1.1" stroke-linejoin="round"/>
<path d="M603.04 413.32 L601.82 412.09 L603.04 410.86 L604.26 412.09 L603.04 413.32Z" fill="none" stroke="#000" stroke-width="1.1" stroke-linejoin="round"/>
<path d="M696.64 413.32 L695.67 412.09 L696.64 410.52" fill="none" stroke="#000" stroke-width="1.1" stroke-linejoin="round"/>
<path d="M621.76 423.08 L620.2 421.51 L621.76 419.34 L623.1 421.51 L621.76 423.08Z" fill="none" stroke="#000" stroke-width="1.1" stroke-linejoin="round"/>
<path d="M677.92 423.68 L675.76 421.51 L677.92 420.75 L679.14 421.51 L677.92 423.68Z" fill="none" stroke="#000" stroke-width="1.1" stroke-linejoin="round"/>
<path d="M571.62 430.93 L574.96 427.16 L579.64 430.93" fill="none" stroke="#000" stroke-width="1.1" stroke-linejoin="round"/>
<path d="M631.12 378.66 L621.76 383.83 L612.4 383.83 L603.04 383.83 L600.06 374.41 L593.68 369.85 L589.52 364.99 L591.25 355.57 L593.68 346.15 L603.04 336.73 L612.4 331.08 L621.76 330.58 L631.12 332.48 L640.48 336.73 L640.48 346.15 L640.48 355.57 L640.48 364.99 L635.35 374.41 L631.12 378.66Z" fill="none" stroke="#000" stroke-width="1.1" stroke-linejoin="round"/>
<path d="M621.76 371.72 L612.4 371.56 L603.04 369.09 L596.35 364.99 L598.97 355.57 L603.04 348.84 L605.71 346.15 L609.28 336.73 L612.4 334.85 L619.09 336.73 L621.76 339.42 L628.45 346.15 L631.12 348.84 L634.24 355.57 L631.12 362.3 L628.45 364.99 L621.76 371.72Z" fill="none" stroke="#000" stroke-width="1.1" stroke-linejoin="round"/>
<path d="M612.4 367.18 L607.72 364.99 L605.38 355.57 L612.4 348.5 L621.76 350.86 L626.44 355.57 L621.76 360.28 L617.08 364.99 L612.4 367.18Z" fill="none" stroke="#000" stroke-width="1.1" stroke-linejoin="round"/>
<path d="M612.4 360.28 L610.06 355.57 L612.4 353.22 L617.08 355.57 L612.4 360.28Z" fill="none" stroke="#000" stroke-width="1.1" stroke-linejoin="round"/>
<path d="M613.55 289.63 L612.4 284.92 L603.04 284.92 L598.36 289.63 L603.04 291.2 L612.4 291.8 L613.55 289.63Z" fill="none" stroke="#000" stroke-width="1.15" stroke-dasharray="1.2 1.2"/>
<path d="M638.92 280.21 L640.48 281.22 L642.64 280.21" fill="none" stroke="#000" stroke-width="1.15" stroke-dasharray="1.2 1.2"/>
<path d="M682.6 289.63 L677.92 287.46 L676.11 289.63 L677.92 292.46 L682.6 289.63Z" fill="none" stroke="#000" stroke-width="1.15" stroke-dasharray="1.2 1.2"/>
<path d="M561.75 299.05 L556.24 295.28 L552.5 299.05 L556.24 302.04 L561.75 299.05Z" fill="none" stroke="#000" stroke-width="1.15" stroke-dasharray="1.2 1.2"/>
<path d="M586.33 299.05 L584.32 296.88 L583.32 299.05 L584.32 301.22 L586.33 299.05Z" fill="none" stroke="#000" stroke-width="1.15" stroke-dasharray="1.2 1.2"/>
<path d="M576.52 336.73 L574.96 334.56 L567.76 327.31 L567.16 317.89 L565.6 315.72 L556.24 316.74 L554.68 317.89 L556.24 319.46 L564.04 327.31 L565.6 332.02 L570.28 336.73 L574.96 338.75 L576.52 336.73Z" fill="none" stroke="#000" stroke-width="1.15" stroke-dasharray="1.2 1.2"/>
<path d="M662.01 317.89 L659.2 316.88 L657.64 317.89 L659.2 320.06 L662.01 317.89Z" fill="none" stroke="#000" stroke-width="1.15" stroke-dasharray="1.2 1.2"/>
<path d="M696.64 316.07 L691.96 317.89 L696.64 320.06" fill="none" stroke="#000" stroke-width="1.15" stroke-dasharray="1.2 1.2"/>
<path d="M688.43 336.73 L687.28 334.56 L685.12 336.73 L687.28 339.56 L688.43 336.73Z" fill="none" stroke="#000" stroke-width="1.15" stroke-dasharray="1.2 1.2"/>
<path d="M546.88 357.74 L549.69 355.57 L546.88 353.4" fill="none" stroke="#000" stroke-width="1.15" stroke-dasharray="1.2 1.2"/>
<path d="M577.12 364.99 L574.96 362.82 L572.8 364.99 L574.96 366.56 L577.12 364.99Z" fill="none" stroke="#000" stroke-width="1.15" stroke-dasharray="1.2 1.2"/>
<path d="M661.36 364.99 L659.2 362.82 L657.04 364.99 L659.2 367.82 L661.36 364.99Z" fill="none" stroke="#000" stroke-width="1.15" stroke-dasharray="1.2 1.2"/>
<path d="M696.64 382.26 L693.83 383.83 L687.28 390.42 L685.12 393.25 L687.28 396.08 L689.44 393.25 L696.64 386" fill="none" stroke="#000" stroke-width="1.15" stroke-dasharray="1.2 1.2"/>
<path d="M566.45 402.67 L567.16 393.25 L565.6 391.68 L563.59 393.25 L562.79 402.67 L565.6 404.84 L566.45 402.67Z" fill="none" stroke="#000" stroke-width="1.15" stroke-dasharray="1.2 1.2"/>
<path d="M595.49 430.93 L593.68 428.76 L586.48 421.51 L586.48 412.09 L584.32 409.26 L583.17 412.09 L582.51 421.51 L584.32 423.08 L592.12 430.93" fill="none" stroke="#000" stroke-width="1.15" stroke-dasharray="1.2 1.2"/>
<path d="M662.94 421.51 L659.2 417.02 L654.52 421.51 L659.2 426.22 L662.94 421.51Z" fill="none" stroke="#000" stroke-width="1.15" stroke-dasharray="1.2 1.2"/>
<path d="M642.64 430.93 L640.48 428.76 L637.67 430.93" fill="none" stroke="#000" stroke-width="1.15" stroke-dasharray="1.2 1.2"/>
</g>
<line x1="565.1" y1="438" x2="565.1" y2="431.7" stroke="#3a3a3a" stroke-width="1.4"/>
<line x1="565.1" y1="275.3" x2="565.1" y2="281.6" stroke="#3a3a3a" stroke-width="1.4"/>
<line x1="590.5" y1="438" x2="590.5" y2="431.7" stroke="#3a3a3a" stroke-width="1.4"/>
<line x1="590.5" y1="275.3" x2="590.5" y2="281.6" stroke="#3a3a3a" stroke-width="1.4"/>
<line x1="615.9" y1="438" x2="615.9" y2="431.7" stroke="#3a3a3a" stroke-width="1.4"/>
<line x1="615.9" y1="275.3" x2="615.9" y2="281.6" stroke="#3a3a3a" stroke-width="1.4"/>
<line x1="641.3" y1="438" x2="641.3" y2="431.7" stroke="#3a3a3a" stroke-width="1.4"/>
<line x1="641.3" y1="275.3" x2="641.3" y2="281.6" stroke="#3a3a3a" stroke-width="1.4"/>
<line x1="666.7" y1="438" x2="666.7" y2="431.7" stroke="#3a3a3a" stroke-width="1.4"/>
<line x1="666.7" y1="275.3" x2="666.7" y2="281.6" stroke="#3a3a3a" stroke-width="1.4"/>
<line x1="692.1" y1="438" x2="692.1" y2="431.7" stroke="#3a3a3a" stroke-width="1.4"/>
<line x1="692.1" y1="275.3" x2="692.1" y2="281.6" stroke="#3a3a3a" stroke-width="1.4"/>
<line x1="539.5" y1="285.6" x2="545.8" y2="285.6" stroke="#3a3a3a" stroke-width="1.4"/>
<line x1="702.2" y1="285.6" x2="695.9" y2="285.6" stroke="#3a3a3a" stroke-width="1.4"/>
<line x1="539.5" y1="311" x2="545.8" y2="311" stroke="#3a3a3a" stroke-width="1.4"/>
<line x1="702.2" y1="311" x2="695.9" y2="311" stroke="#3a3a3a" stroke-width="1.4"/>
<line x1="539.5" y1="336.4" x2="545.8" y2="336.4" stroke="#3a3a3a" stroke-width="1.4"/>
<line x1="702.2" y1="336.4" x2="695.9" y2="336.4" stroke="#3a3a3a" stroke-width="1.4"/>
<line x1="539.5" y1="361.8" x2="545.8" y2="361.8" stroke="#3a3a3a" stroke-width="1.4"/>
<line x1="702.2" y1="361.8" x2="695.9" y2="361.8" stroke="#3a3a3a" stroke-width="1.4"/>
<line x1="539.5" y1="387.2" x2="545.8" y2="387.2" stroke="#3a3a3a" stroke-width="1.4"/>
<line x1="702.2" y1="387.2" x2="695.9" y2="387.2" stroke="#3a3a3a" stroke-width="1.4"/>
<line x1="539.5" y1="412.6" x2="545.8" y2="412.6" stroke="#3a3a3a" stroke-width="1.4"/>
<line x1="702.2" y1="412.6" x2="695.9" y2="412.6" stroke="#3a3a3a" stroke-width="1.4"/>
<rect x="539.5" y="275.3" width="162.7" height="162.7" fill="none" stroke="#222" stroke-width="1.2"/>
<rect x="405.3" y="22.3" width="6.2" height="167" fill="url(#cbgrad)"/>
<text x="418.7" y="25.36" font-size="11.6">1.0</text>
<line x1="405.3" y1="39" x2="411.5" y2="39" stroke="#222" stroke-width="1"/>
<text x="418.7" y="42.06" font-size="11.6">0.8</text>
<line x1="405.3" y1="55.7" x2="411.5" y2="55.7" stroke="#222" stroke-width="1"/>
<text x="418.7" y="58.76" font-size="11.6">0.6</text>
<line x1="405.3" y1="72.4" x2="411.5" y2="72.4" stroke="#222" stroke-width="1"/>
<text x="418.7" y="75.46" font-size="11.6">0.4</text>
<line x1="405.3" y1="89.1" x2="411.5" y2="89.1" stroke="#222" stroke-width="1"/>
<text x="418.7" y="92.16" font-size="11.6">0.2</text>
<line x1="405.3" y1="105.8" x2="411.5" y2="105.8" stroke="#222" stroke-width="1"/>
<text x="418.7" y="108.86" font-size="11.6">0.0</text>
<line x1="405.3" y1="122.5" x2="415.1" y2="122.5" stroke="#222" stroke-width="1.2"/>
<text x="418.7" y="125.56" font-size="11.6">0.2</text>
<line x1="405.3" y1="139.2" x2="415.1" y2="139.2" stroke="#222" stroke-width="1.2"/>
<text x="418.7" y="142.26" font-size="11.6">0.4</text>
<line x1="405.3" y1="155.9" x2="415.1" y2="155.9" stroke="#222" stroke-width="1.2"/>
<text x="418.7" y="158.96" font-size="11.6">0.6</text>
<line x1="405.3" y1="172.6" x2="415.1" y2="172.6" stroke="#222" stroke-width="1.2"/>
<text x="418.7" y="175.66" font-size="11.6">0.8</text>
<line x1="405.3" y1="189.3" x2="415.1" y2="189.3" stroke="#222" stroke-width="1.2"/>
<text x="418.7" y="192.36" font-size="11.6">1.0</text>
<rect x="405.3" y="22.3" width="6.2" height="167" fill="none" stroke="#222" stroke-width="1"/>
<rect x="706" y="25.9" width="6.6" height="162.7" fill="url(#cbgrad)"/>
<text x="721.6" y="28.96" font-size="11.6">1.0</text>
<line x1="706" y1="42.17" x2="712.6" y2="42.17" stroke="#222" stroke-width="1"/>
<text x="721.6" y="45.23" font-size="11.6">0.8</text>
<line x1="706" y1="58.44" x2="712.6" y2="58.44" stroke="#222" stroke-width="1"/>
<text x="721.6" y="61.5" font-size="11.6">0.6</text>
<line x1="706" y1="74.71" x2="712.6" y2="74.71" stroke="#222" stroke-width="1"/>
<text x="721.6" y="77.77" font-size="11.6">0.4</text>
<line x1="706" y1="90.98" x2="712.6" y2="90.98" stroke="#222" stroke-width="1"/>
<text x="721.6" y="94.04" font-size="11.6">0.2</text>
<line x1="706" y1="107.25" x2="712.6" y2="107.25" stroke="#222" stroke-width="1"/>
<text x="721.6" y="110.31" font-size="11.6">0.0</text>
<line x1="706" y1="123.52" x2="718.2" y2="123.52" stroke="#222" stroke-width="1.2"/>
<text x="721.6" y="126.58" font-size="11.6">0.2</text>
<line x1="706" y1="139.79" x2="718.2" y2="139.79" stroke="#222" stroke-width="1.2"/>
<text x="721.6" y="142.85" font-size="11.6">0.4</text>
<line x1="706" y1="156.06" x2="718.2" y2="156.06" stroke="#222" stroke-width="1.2"/>
<text x="721.6" y="159.12" font-size="11.6">0.6</text>
<line x1="706" y1="172.33" x2="718.2" y2="172.33" stroke="#222" stroke-width="1.2"/>
<text x="721.6" y="175.39" font-size="11.6">0.8</text>
<line x1="706" y1="188.6" x2="718.2" y2="188.6" stroke="#222" stroke-width="1.2"/>
<text x="721.6" y="191.66" font-size="11.6">1.0</text>
<rect x="706" y="25.9" width="6.6" height="162.7" fill="none" stroke="#222" stroke-width="1"/>
<rect x="405.6" y="271" width="6.8" height="166.8" fill="url(#cbgrad)"/>
<text x="419.6" y="274.06" font-size="11.6">1.0</text>
<line x1="405.6" y1="287.68" x2="412.4" y2="287.68" stroke="#222" stroke-width="1"/>
<text x="419.6" y="290.74" font-size="11.6">0.8</text>
<line x1="405.6" y1="304.36" x2="412.4" y2="304.36" stroke="#222" stroke-width="1"/>
<text x="419.6" y="307.42" font-size="11.6">0.6</text>
<line x1="405.6" y1="321.04" x2="412.4" y2="321.04" stroke="#222" stroke-width="1"/>
<text x="419.6" y="324.1" font-size="11.6">0.4</text>
<line x1="405.6" y1="337.72" x2="412.4" y2="337.72" stroke="#222" stroke-width="1"/>
<text x="419.6" y="340.78" font-size="11.6">0.2</text>
<line x1="405.6" y1="354.4" x2="412.4" y2="354.4" stroke="#222" stroke-width="1"/>
<text x="419.6" y="357.46" font-size="11.6">0.0</text>
<line x1="405.6" y1="371.08" x2="416" y2="371.08" stroke="#222" stroke-width="1.2"/>
<text x="419.6" y="374.14" font-size="11.6">0.2</text>
<line x1="405.6" y1="387.76" x2="416" y2="387.76" stroke="#222" stroke-width="1.2"/>
<text x="419.6" y="390.82" font-size="11.6">0.4</text>
<line x1="405.6" y1="404.44" x2="416" y2="404.44" stroke="#222" stroke-width="1.2"/>
<text x="419.6" y="407.5" font-size="11.6">0.6</text>
<line x1="405.6" y1="421.12" x2="416" y2="421.12" stroke="#222" stroke-width="1.2"/>
<text x="419.6" y="424.18" font-size="11.6">0.8</text>
<line x1="405.6" y1="437.8" x2="416" y2="437.8" stroke="#222" stroke-width="1.2"/>
<text x="419.6" y="440.86" font-size="11.6">1.0</text>
<rect x="405.6" y="271" width="6.8" height="166.8" fill="none" stroke="#222" stroke-width="1"/>
<rect x="706.2" y="275.3" width="6.5" height="162.7" fill="url(#cbgrad)"/>
<text x="721.7" y="278.36" font-size="11.6">1.0</text>
<line x1="706.2" y1="291.57" x2="712.7" y2="291.57" stroke="#222" stroke-width="1"/>
<text x="721.7" y="294.63" font-size="11.6">0.8</text>
<line x1="706.2" y1="307.84" x2="712.7" y2="307.84" stroke="#222" stroke-width="1"/>
<text x="721.7" y="310.9" font-size="11.6">0.6</text>
<line x1="706.2" y1="324.11" x2="712.7" y2="324.11" stroke="#222" stroke-width="1"/>
<text x="721.7" y="327.17" font-size="11.6">0.4</text>
<line x1="706.2" y1="340.38" x2="712.7" y2="340.38" stroke="#222" stroke-width="1"/>
<text x="721.7" y="343.44" font-size="11.6">0.2</text>
<line x1="706.2" y1="356.65" x2="712.7" y2="356.65" stroke="#222" stroke-width="1"/>
<text x="721.7" y="359.71" font-size="11.6">0.0</text>
<line x1="706.2" y1="372.92" x2="718.3" y2="372.92" stroke="#222" stroke-width="1.2"/>
<text x="721.7" y="375.98" font-size="11.6">0.2</text>
<line x1="706.2" y1="389.19" x2="718.3" y2="389.19" stroke="#222" stroke-width="1.2"/>
<text x="721.7" y="392.25" font-size="11.6">0.4</text>
<line x1="706.2" y1="405.46" x2="718.3" y2="405.46" stroke="#222" stroke-width="1.2"/>
<text x="721.7" y="408.52" font-size="11.6">0.6</text>
<line x1="706.2" y1="421.73" x2="718.3" y2="421.73" stroke="#222" stroke-width="1.2"/>
<text x="721.7" y="424.79" font-size="11.6">0.8</text>
<line x1="706.2" y1="438" x2="718.3" y2="438" stroke="#222" stroke-width="1.2"/>
<text x="721.7" y="441.06" font-size="11.6">1.0</text>
<rect x="706.2" y="275.3" width="6.5" height="162.7" fill="none" stroke="#222" stroke-width="1"/>
<text x="1" y="15.5" font-size="20" font-weight="bold">a</text>
<text x="0.2" y="261.2" font-size="20" font-weight="bold">c</text>
<text x="472.6" y="15.7" font-size="20" font-weight="bold">b</text>
<text x="473.3" y="265" font-size="20.5" font-weight="bold">d</text>
<text x="61.4" y="14.7" font-size="16.6" >NO</text>
<text x="86.3" y="18.9" font-size="11.620000000000001" >2</text>
<text x="93.16" y="8.8" font-size="11.620000000000001" >+</text>
<text x="128.6" y="14.8" font-size="16.6" >Real part</text>
<text x="260.9" y="14.8" font-size="16.6" >Imaginary part</text>
<text x="538.1" y="16.7" font-size="17.3" >NO</text>
<text x="564.05" y="20.9" font-size="12.11" >2</text>
<text x="571.18" y="10.8" font-size="12.11" >+</text>
<text x="593.3" y="16.7" font-size="17.5" >Absorptive 2D</text>
<text x="61.4" y="263.5" font-size="16.6" >NO</text>
<text x="86.3" y="257.6" font-size="11.620000000000001" >+</text>
<text x="128.6" y="263.5" font-size="16.6" >Real part</text>
<text x="260.9" y="260.9" font-size="16.6" >Imaginary part</text>
<text x="538.1" y="263.9" font-size="17.3" >NO</text>
<text x="564.05" y="268.1" font-size="12.11" >2</text>
<text x="571.18" y="258" font-size="12.11" >+</text>
<text x="593.3" y="263.9" font-size="17.5" >Absorptive 2D</text>
<text x="66.5" y="206.8" font-size="14.5" text-anchor="middle">−17.0</text>
<text x="114.2" y="206.8" font-size="14.5" text-anchor="middle">−18.0</text>
<text x="166" y="206.8" font-size="14.5" text-anchor="middle">−19.0</text>
<text x="217.8" y="206.8" font-size="14.5" text-anchor="middle">−20.0</text>
<text x="283.6" y="206.8" font-size="14.5" text-anchor="middle">−18.0</text>
<text x="337.6" y="206.8" font-size="14.5" text-anchor="middle">−19.0</text>
<text x="388.7" y="206.8" font-size="14.5" text-anchor="middle">−20.0</text>
<text x="540.1" y="206.2" font-size="14.5" text-anchor="middle">17.0</text>
<text x="590.9" y="206.2" font-size="14.5" text-anchor="middle">18.0</text>
<text x="641.7" y="206.2" font-size="14.5" text-anchor="middle">19.0</text>
<text x="692.3" y="206.2" font-size="14.5" text-anchor="middle">20.0</text>
<text x="63.3" y="454.8" font-size="14.5" text-anchor="middle">−17.0</text>
<text x="115.3" y="454.8" font-size="14.5" text-anchor="middle">−18.0</text>
<text x="167.1" y="454.8" font-size="14.5" text-anchor="middle">−19.0</text>
<text x="218.4" y="454.8" font-size="14.5" text-anchor="middle">−20.0</text>
<text x="283.8" y="455.3" font-size="14.5" text-anchor="middle">−18.0</text>
<text x="336" y="455.3" font-size="14.5" text-anchor="middle">−19.0</text>
<text x="388.7" y="455.3" font-size="14.5" text-anchor="middle">−20.0</text>
<text x="540.1" y="455.5" font-size="14.5" text-anchor="middle">17.0</text>
<text x="590.9" y="455.5" font-size="14.5" text-anchor="middle">18.0</text>
<text x="641.7" y="455.5" font-size="14.5" text-anchor="middle">19.0</text>
<text x="692.3" y="455.5" font-size="14.5" text-anchor="middle">20.0</text>
<text x="58" y="37.78" font-size="14.5" text-anchor="end">20.0</text>
<text x="58" y="89.98" font-size="14.5" text-anchor="end">19.0</text>
<text x="58" y="142.17" font-size="14.5" text-anchor="end">18.0</text>
<text x="58" y="194.38" font-size="14.5" text-anchor="end">17.0</text>
<text x="534.5" y="41.28" font-size="14.5" text-anchor="end">20.0</text>
<text x="534.5" y="92.08" font-size="14.5" text-anchor="end">19.0</text>
<text x="534.5" y="142.88" font-size="14.5" text-anchor="end">18.0</text>
<text x="534.5" y="193.67" font-size="14.5" text-anchor="end">17.0</text>
<text x="58.5" y="286.47" font-size="14.5" text-anchor="end">20.0</text>
<text x="58.5" y="338.68" font-size="14.5" text-anchor="end">19.0</text>
<text x="58.5" y="390.88" font-size="14.5" text-anchor="end">18.0</text>
<text x="58.5" y="443.07" font-size="14.5" text-anchor="end">17.0</text>
<text x="534.5" y="290.68" font-size="14.5" text-anchor="end">20.0</text>
<text x="534.5" y="341.47" font-size="14.5" text-anchor="end">19.0</text>
<text x="534.5" y="392.27" font-size="14.5" text-anchor="end">18.0</text>
<text x="534.5" y="443.07" font-size="14.5" text-anchor="end">17.0</text>
<line x1="87.1" y1="218.5" x2="97.9" y2="218.5" stroke="#000" stroke-width="0.95"/>
<text x="89.9" y="229.75" font-size="14.8" font-family='"Liberation Serif", serif' font-style="italic">ν</text>
<text x="96.1" y="233.7" font-size="10.2" font-family='"Liberation Serif", serif' font-style="italic">τ</text>
<text x="104.25" y="229.75" font-size="15.3">(10</text>
<text x="125.8" y="223.7" font-size="10.9">3</text>
<text x="135.26" y="229.75" font-size="15.3">cm</text>
<text x="155.07" y="223.7" font-size="10.9">−1</text>
<text x="168" y="229.75" font-size="15.3">)</text>
<line x1="258.2" y1="218.5" x2="269" y2="218.5" stroke="#000" stroke-width="0.95"/>
<text x="261" y="229.75" font-size="14.8" font-family='"Liberation Serif", serif' font-style="italic">ν</text>
<text x="267.2" y="233.7" font-size="10.2" font-family='"Liberation Serif", serif' font-style="italic">τ</text>
<text x="275.35" y="229.75" font-size="15.3">(10</text>
<text x="296.9" y="223.7" font-size="10.9">3</text>
<text x="306.36" y="229.75" font-size="15.3">cm</text>
<text x="326.17" y="223.7" font-size="10.9">−1</text>
<text x="339.1" y="229.75" font-size="15.3">)</text>
<line x1="273.5" y1="464.65" x2="284.3" y2="464.65" stroke="#000" stroke-width="0.95"/>
<text x="276.3" y="475.9" font-size="14.8" font-family='"Liberation Serif", serif' font-style="italic">ν</text>
<text x="282.5" y="479.85" font-size="10.2" font-family='"Liberation Serif", serif' font-style="italic">τ</text>
<text x="290.65" y="475.9" font-size="15.3">(10</text>
<text x="312.2" y="469.85" font-size="10.9">3</text>
<text x="321.66" y="475.9" font-size="15.3">cm</text>
<text x="341.47" y="469.85" font-size="10.9">−1</text>
<text x="354.4" y="475.9" font-size="15.3">)</text>
<line x1="578.3" y1="218.25" x2="589.1" y2="218.25" stroke="#000" stroke-width="0.95"/>
<text x="581.1" y="229.5" font-size="14.8" font-family='"Liberation Serif", serif' font-style="italic">ν</text>
<text x="587.3" y="233.45" font-size="10.2" font-family='"Liberation Serif", serif' font-style="italic">τ</text>
<text x="595.45" y="229.5" font-size="15.3">(10</text>
<text x="617" y="223.45" font-size="10.9">3</text>
<text x="626.46" y="229.5" font-size="15.3">cm</text>
<text x="646.27" y="223.45" font-size="10.9">−1</text>
<text x="659.2" y="229.5" font-size="15.3">)</text>
<line x1="99.8" y1="464.45" x2="110.6" y2="464.45" stroke="#000" stroke-width="0.95"/>
<text x="102.6" y="475.7" font-size="14.8" font-family='"Liberation Serif", serif' font-style="italic">ν</text>
<text x="108.8" y="479.65" font-size="10.2" font-family='"Liberation Serif", serif' font-style="italic">τ</text>
<text x="116.95" y="475.7" font-size="15.3">(10</text>
<text x="138.5" y="469.65" font-size="10.9">3</text>
<text x="147.96" y="475.7" font-size="15.3">cm</text>
<text x="167.77" y="469.65" font-size="10.9">−1</text>
<text x="180.7" y="475.7" font-size="15.3">)</text>
<line x1="579.5" y1="466.75" x2="590.3" y2="466.75" stroke="#000" stroke-width="0.95"/>
<text x="582.3" y="478" font-size="14.8" font-family='"Liberation Serif", serif' font-style="italic">ν</text>
<text x="588.5" y="481.95" font-size="10.2" font-family='"Liberation Serif", serif' font-style="italic">τ</text>
<text x="596.65" y="478" font-size="15.3">(10</text>
<text x="618.2" y="471.95" font-size="10.9">3</text>
<text x="627.66" y="478" font-size="15.3">cm</text>
<text x="647.47" y="471.95" font-size="10.9">−1</text>
<text x="660.4" y="478" font-size="15.3">)</text>
<g transform="translate(17.6,146) rotate(-90)">
<line x1="0" y1="-11.4" x2="10.3" y2="-11.4" stroke="#000" stroke-width="0.95"/>
<text x="0.3" y="-0.4" font-size="14.6" font-family='"Liberation Serif", serif' font-style="italic">ν</text>
<text x="6" y="3.4" font-size="9.5" font-family='"Liberation Serif", serif' font-style="italic">t</text>
<text x="13.1" y="0" font-size="14.7">(10</text>
<text x="34.7" y="-7.3" font-size="10.4">3</text>
<text x="44.6" y="0" font-size="14.7">cm</text>
<text x="62.6" y="-7.3" font-size="10.4">−1</text>
<text x="76.6" y="0" font-size="14.7">)</text>
</g>
<g transform="translate(493,151.2) rotate(-90)">
<line x1="0" y1="-11.57" x2="10.45" y2="-11.57" stroke="#000" stroke-width="0.95"/>
<text x="0.3" y="-0.4" font-size="14.82" font-family='"Liberation Serif", serif' font-style="italic">ν</text>
<text x="6.09" y="3.45" font-size="9.64" font-family='"Liberation Serif", serif' font-style="italic">t</text>
<text x="13.3" y="0" font-size="14.92">(10</text>
<text x="35.22" y="-7.41" font-size="10.56">3</text>
<text x="45.27" y="0" font-size="14.92">cm</text>
<text x="63.54" y="-7.41" font-size="10.56">−1</text>
<text x="77.75" y="0" font-size="14.92">)</text>
</g>
<g transform="translate(18.9,395) rotate(-90)">
<line x1="0" y1="-11.4" x2="10.3" y2="-11.4" stroke="#000" stroke-width="0.95"/>
<text x="0.3" y="-0.4" font-size="14.6" font-family='"Liberation Serif", serif' font-style="italic">ν</text>
<text x="6" y="3.4" font-size="9.5" font-family='"Liberation Serif", serif' font-style="italic">t</text>
<text x="13.1" y="0" font-size="14.7">(10</text>
<text x="34.7" y="-7.3" font-size="10.4">3</text>
<text x="44.6" y="0" font-size="14.7">cm</text>
<text x="62.6" y="-7.3" font-size="10.4">−1</text>
<text x="76.6" y="0" font-size="14.7">)</text>
</g>
<g transform="translate(493,397.7) rotate(-90)">
<line x1="0" y1="-11.74" x2="10.61" y2="-11.74" stroke="#000" stroke-width="0.95"/>
<text x="0.31" y="-0.4" font-size="15.04" font-family='"Liberation Serif", serif' font-style="italic">ν</text>
<text x="6.18" y="3.5" font-size="9.79" font-family='"Liberation Serif", serif' font-style="italic">t</text>
<text x="13.49" y="0" font-size="15.14">(10</text>
<text x="35.74" y="-7.52" font-size="10.71">3</text>
<text x="45.94" y="0" font-size="15.14">cm</text>
<text x="64.48" y="-7.52" font-size="10.71">−1</text>
<text x="78.9" y="0" font-size="15.14">)</text>
</g>
<text transform="translate(455.8,155.95) rotate(-90)" x="0" y="0" font-size="15.45">Signal (arb. u.)</text>
<text transform="translate(758.2,160.25) rotate(-90)" x="0" y="0" font-size="15.45">Signal (arb. u.)</text>
<text transform="translate(457.9,407.15) rotate(-90)" x="0" y="0" font-size="15.45">Signal (arb. u.)</text>
<text transform="translate(758,405.95) rotate(-90)" x="0" y="0" font-size="15.45">Signal (arb. u.)</text>
</svg>
</body></html>
